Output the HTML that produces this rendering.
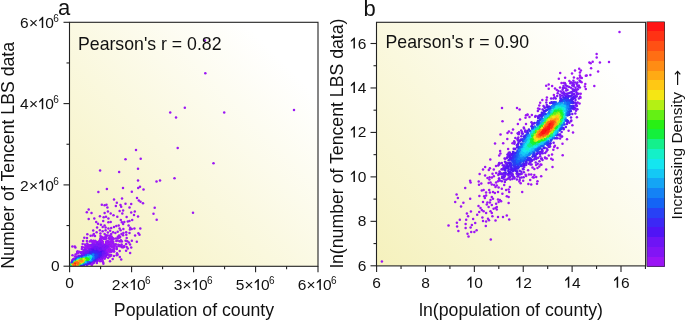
<!DOCTYPE html><html><head><meta charset="utf-8"><style>html,body{margin:0;padding:0;background:#fff;}svg{display:block}.c0{stroke:#9b14f5}.c1{stroke:#8214f5}.c2{stroke:#6e14f5}.c3{stroke:#5014f5}.c4{stroke:#3c28f5}.c5{stroke:#2841f5}.c6{stroke:#1464f5}.c7{stroke:#1482f5}.c8{stroke:#14a5f5}.c9{stroke:#14c8f5}.c10{stroke:#14e6f0}.c11{stroke:#14f0c8}.c12{stroke:#14f08c}.c13{stroke:#14f03c}.c14{stroke:#28f014}.c15{stroke:#64f014}.c16{stroke:#b4f014}.c17{stroke:#f5e614}.c18{stroke:#ffc814}.c19{stroke:#ffaa14}.c20{stroke:#ff8c14}.c21{stroke:#ff6e14}.c22{stroke:#ff5014}.c23{stroke:#ff3214}.c24{stroke:#ff1414}</style></head><body><svg xmlns="http://www.w3.org/2000/svg" width="685" height="320" viewBox="0 0 685 320">
<defs>
<linearGradient id="ga" gradientUnits="userSpaceOnUse" x1="69" y1="266" x2="318" y2="22">
<stop offset="0" stop-color="#f5f1bc"/><stop offset="0.85" stop-color="#ffffff"/><stop offset="1" stop-color="#ffffff"/></linearGradient>
<linearGradient id="gb" gradientUnits="userSpaceOnUse" x1="376" y1="266" x2="646" y2="22">
<stop offset="0" stop-color="#f5f1bc"/><stop offset="0.85" stop-color="#ffffff"/><stop offset="1" stop-color="#ffffff"/></linearGradient>
<filter id="bl" x="-5%" y="-5%" width="110%" height="110%"><feGaussianBlur stdDeviation="0.35"/></filter>
<clipPath id="ca"><rect x="69.5" y="22.3" width="248.5" height="244"/></clipPath>
<clipPath id="cb"><rect x="376.5" y="22.3" width="269.1" height="243.6"/></clipPath>
</defs>
<rect width="685" height="320" fill="#fff"/>
<rect x="69.5" y="22.3" width="248.5" height="244" fill="url(#ga)"/>
<rect x="376.5" y="22.3" width="269.1" height="243.6" fill="url(#gb)"/>

<g clip-path="url(#ca)"><g filter="url(#bl)"><g fill="none" stroke-width="2.5" stroke-linecap="round"><path class="c8" d="M90.1 260.3h0"/><path class="c14" d="M88.4 258.4h0"/><path class="c0" d="M110.7 251.1h0"/><path class="c1" d="M104.2 249.0h0"/><path class="c7" d="M85.1 262.9h0"/><path class="c11" d="M88.3 256.2h0"/><path class="c13" d="M80.1 263.9h0"/><path class="c19" d="M80.8 262.1h0"/><path class="c11" d="M87.2 256.8h0"/><path class="c24" d="M76.1 264.2h0"/><path class="c23" d="M74.3 264.5h0"/><path class="c0" d="M77.6 251.4h0"/><path class="c9" d="M85.6 256.9h0"/><path class="c16" d="M84.9 260.7h0"/><path class="c24" d="M75.2 264.4h0"/><path class="c2" d="M95.2 247.9h0"/><path class="c0" d="M89.8 241.5h0"/><path class="c2" d="M73.8 259.7h0"/><path class="c4" d="M84.3 255.6h0"/><path class="c10" d="M89.5 260.0h0"/><path class="c0" d="M111.7 246.7h0"/><path class="c24" d="M77.1 263.2h0"/><path class="c15" d="M73.4 266.1h0"/><path class="c0" d="M93.5 241.0h0"/><path class="c19" d="M73.4 265.3h0"/><path class="c1" d="M101.1 245.4h0"/><path class="c4" d="M75.0 259.8h0"/><path class="c2" d="M93.1 249.3h0"/><path class="c8" d="M89.4 261.0h0"/><path class="c6" d="M92.0 254.3h0"/><path class="c24" d="M76.2 263.5h0"/><path class="c2" d="M102.1 250.2h0"/><path class="c20" d="M81.6 261.1h0"/><path class="c16" d="M84.9 260.8h0"/><path class="c16" d="M85.0 259.3h0"/><path class="c19" d="M78.7 263.7h0"/><path class="c21" d="M79.0 261.8h0"/><path class="c21" d="M73.7 264.8h0"/><path class="c14" d="M83.3 258.5h0"/><path class="c7" d="M85.5 262.9h0"/><path class="c21" d="M73.7 264.8h0"/><path class="c3" d="M93.7 251.0h0"/><path class="c14" d="M88.2 258.4h0"/><path class="c5" d="M91.6 253.5h0"/><path class="c0" d="M140.7 158.7h0"/><path class="c10" d="M91.2 258.1h0"/><path class="c13" d="M87.6 257.4h0"/><path class="c4" d="M96.2 252.3h0"/><path class="c18" d="M83.8 259.6h0"/><path class="c14" d="M71.5 265.6h0"/><path class="c1" d="M88.6 250.6h0"/><path class="c1" d="M103.5 247.0h0"/><path class="c18" d="M72.5 265.4h0"/><path class="c10" d="M87.7 256.1h0"/><path class="c21" d="M80.0 261.5h0"/><path class="c1" d="M91.4 263.7h0"/><path class="c7" d="M91.4 259.8h0"/><path class="c13" d="M83.9 258.2h0"/><path class="c19" d="M75.6 265.2h0"/><path class="c17" d="M72.4 264.5h0"/><path class="c16" d="M85.4 260.4h0"/><path class="c5" d="M90.3 261.4h0"/><path class="c23" d="M76.8 263.9h0"/><path class="c22" d="M76.0 264.6h0"/><path class="c7" d="M91.4 254.4h0"/><path class="c0" d="M107.2 251.9h0"/><path class="c0" d="M112.2 241.1h0"/><path class="c4" d="M97.2 253.1h0"/><path class="c22" d="M73.7 264.6h0"/><path class="c0" d="M132.2 220.0h0"/><path class="c7" d="M87.3 262.0h0"/><path class="c15" d="M79.4 264.0h0"/><path class="c20" d="M79.1 261.2h0"/><path class="c5" d="M91.5 261.1h0"/><path class="c8" d="M92.7 256.8h0"/><path class="c1" d="M104.5 252.0h0"/><path class="c14" d="M71.4 265.9h0"/><path class="c24" d="M75.0 264.1h0"/><path class="c14" d="M78.6 264.6h0"/><path class="c16" d="M84.2 258.9h0"/><path class="c21" d="M79.3 262.4h0"/><path class="c6" d="M80.2 265.2h0"/><path class="c12" d="M84.8 257.9h0"/><path class="c11" d="M70.7 265.6h0"/><path class="c0" d="M128.6 225.5h0"/><path class="c21" d="M73.6 264.7h0"/><path class="c18" d="M72.5 264.7h0"/><path class="c21" d="M79.9 262.2h0"/><path class="c24" d="M76.5 263.2h0"/><path class="c1" d="M83.6 251.6h0"/><path class="c1" d="M89.0 250.3h0"/><path class="c23" d="M77.7 263.1h0"/><path class="c11" d="M83.7 262.7h0"/><path class="c1" d="M89.9 248.4h0"/><path class="c5" d="M94.5 254.7h0"/><path class="c7" d="M93.6 257.2h0"/><path class="c9" d="M70.2 266.1h0"/><path class="c23" d="M74.3 264.3h0"/><path class="c5" d="M96.5 256.5h0"/><path class="c16" d="M71.8 265.5h0"/><path class="c3" d="M96.9 251.3h0"/><path class="c0" d="M101.8 204.7h0"/><path class="c17" d="M73.3 263.5h0"/><path class="c1" d="M105.4 251.0h0"/><path class="c0" d="M104.5 258.2h0"/><path class="c14" d="M82.7 262.5h0"/><path class="c22" d="M78.9 262.2h0"/><path class="c11" d="M85.7 261.7h0"/><path class="c19" d="M83.0 260.7h0"/><path class="c20" d="M75.1 265.2h0"/><path class="c2" d="M95.4 246.9h0"/><path class="c16" d="M82.8 261.9h0"/><path class="c6" d="M95.0 256.7h0"/><path class="c21" d="M78.3 263.6h0"/><path class="c12" d="M83.9 262.3h0"/><path class="c21" d="M73.6 264.1h0"/><path class="c8" d="M91.7 255.7h0"/><path class="c12" d="M84.5 258.0h0"/><path class="c22" d="M74.4 264.8h0"/><path class="c17" d="M72.9 265.7h0"/><path class="c4" d="M97.8 252.2h0"/><path class="c9" d="M87.4 261.7h0"/><path class="c21" d="M78.7 263.2h0"/><path class="c5" d="M76.9 259.2h0"/><path class="c10" d="M77.9 265.5h0"/><path class="c6" d="M94.8 257.0h0"/><path class="c22" d="M74.3 264.7h0"/><path class="c15" d="M76.3 265.4h0"/><path class="c19" d="M82.7 260.1h0"/><path class="c7" d="M93.9 255.9h0"/><path class="c3" d="M75.8 259.0h0"/><path class="c5" d="M94.2 258.8h0"/><path class="c24" d="M76.3 263.9h0"/><path class="c3" d="M95.2 259.6h0"/><path class="c0" d="M93.7 240.9h0"/><path class="c0" d="M108.8 238.1h0"/><path class="c1" d="M86.2 248.8h0"/><path class="c17" d="M79.5 260.5h0"/><path class="c3" d="M96.5 251.3h0"/><path class="c15" d="M77.6 260.9h0"/><path class="c1" d="M99.5 259.0h0"/><path class="c17" d="M81.8 259.6h0"/><path class="c3" d="M101.1 255.3h0"/><path class="c9" d="M90.8 255.9h0"/><path class="c5" d="M95.3 255.1h0"/><path class="c6" d="M94.4 256.5h0"/><path class="c18" d="M72.6 265.3h0"/><path class="c0" d="M139.5 234.8h0"/><path class="c10" d="M87.9 261.1h0"/><path class="c6" d="M88.0 254.3h0"/><path class="c0" d="M108.6 242.0h0"/><path class="c2" d="M101.6 249.8h0"/><path class="c23" d="M77.4 263.5h0"/><path class="c0" d="M94.7 242.2h0"/><path class="c22" d="M77.5 262.3h0"/><path class="c19" d="M73.1 264.0h0"/><path class="c4" d="M86.1 254.6h0"/><path class="c22" d="M74.1 264.6h0"/><path class="c0" d="M119.3 245.2h0"/><path class="c18" d="M78.8 260.8h0"/><path class="c5" d="M95.8 255.4h0"/><path class="c8" d="M87.7 255.4h0"/><path class="c0" d="M96.9 262.9h0"/><path class="c10" d="M89.2 260.2h0"/><path class="c13" d="M82.0 263.0h0"/><path class="c20" d="M81.4 260.9h0"/><path class="c2" d="M89.0 251.3h0"/><path class="c7" d="M94.1 256.2h0"/><path class="c5" d="M97.6 255.3h0"/><path class="c19" d="M82.6 261.2h0"/><path class="c5" d="M93.9 253.3h0"/><path class="c18" d="M83.9 259.8h0"/><path class="c4" d="M98.0 256.7h0"/><path class="c6" d="M91.0 260.5h0"/><path class="c18" d="M81.5 259.7h0"/><path class="c7" d="M91.4 260.0h0"/><path class="c17" d="M84.6 259.6h0"/><path class="c16" d="M72.2 265.9h0"/><path class="c3" d="M99.3 250.6h0"/><path class="c5" d="M94.3 253.6h0"/><path class="c1" d="M73.1 259.8h0"/><path class="c20" d="M78.4 263.6h0"/><path class="c14" d="M82.7 262.5h0"/><path class="c0" d="M204.9 40.5h0"/><path class="c23" d="M75.5 264.6h0"/><path class="c22" d="M75.8 264.7h0"/><path class="c0" d="M135.1 235.6h0"/><path class="c19" d="M79.7 262.9h0"/><path class="c6" d="M81.7 264.6h0"/><path class="c10" d="M86.6 261.5h0"/><path class="c14" d="M84.5 261.6h0"/><path class="c8" d="M91.2 259.3h0"/><path class="c15" d="M86.4 259.5h0"/><path class="c0" d="M78.3 253.0h0"/><path class="c2" d="M94.9 248.2h0"/><path class="c2" d="M99.2 248.6h0"/><path class="c20" d="M74.0 263.5h0"/><path class="c19" d="M73.3 265.4h0"/><path class="c12" d="M84.5 262.0h0"/><path class="c8" d="M92.0 259.1h0"/><path class="c15" d="M75.1 262.1h0"/><path class="c0" d="M82.0 246.9h0"/><path class="c0" d="M109.0 246.2h0"/><path class="c17" d="M82.5 261.9h0"/><path class="c0" d="M129.5 207.5h0"/><path class="c3" d="M96.4 250.6h0"/><path class="c19" d="M83.5 260.4h0"/><path class="c19" d="M75.1 262.7h0"/><path class="c1" d="M99.8 243.9h0"/><path class="c10" d="M84.4 257.4h0"/><path class="c23" d="M75.1 263.4h0"/><path class="c11" d="M87.2 256.7h0"/><path class="c17" d="M72.2 265.2h0"/><path class="c3" d="M99.8 252.0h0"/><path class="c8" d="M93.1 257.3h0"/><path class="c19" d="M76.9 261.7h0"/><path class="c0" d="M87.6 247.8h0"/><path class="c19" d="M72.8 264.7h0"/><path class="c7" d="M93.1 257.5h0"/><path class="c4" d="M97.5 253.2h0"/><path class="c0" d="M113.9 249.0h0"/><path class="c1" d="M92.5 245.4h0"/><path class="c15" d="M80.2 263.5h0"/><path class="c2" d="M89.2 250.4h0"/><path class="c8" d="M92.7 257.9h0"/><path class="c16" d="M83.4 258.9h0"/><path class="c11" d="M85.5 257.4h0"/><path class="c18" d="M83.6 260.7h0"/><path class="c24" d="M75.5 264.2h0"/><path class="c6" d="M91.9 253.7h0"/><path class="c10" d="M91.3 257.5h0"/><path class="c12" d="M84.1 262.1h0"/><path class="c22" d="M75.0 264.9h0"/><path class="c18" d="M72.5 265.3h0"/><path class="c13" d="M88.1 257.6h0"/><path class="c7" d="M92.2 255.0h0"/><path class="c11" d="M70.7 265.8h0"/><path class="c19" d="M77.2 264.5h0"/><path class="c13" d="M88.9 258.4h0"/><path class="c20" d="M81.2 261.5h0"/><path class="c21" d="M80.0 261.4h0"/><path class="c21" d="M79.1 262.3h0"/><path class="c16" d="M81.7 259.4h0"/><path class="c14" d="M88.0 259.3h0"/><path class="c21" d="M74.0 265.2h0"/><path class="c3" d="M101.7 253.9h0"/><path class="c11" d="M90.5 258.1h0"/><path class="c4" d="M86.7 254.2h0"/><path class="c20" d="M80.1 260.8h0"/><path class="c0" d="M110.8 250.3h0"/><path class="c1" d="M99.2 244.2h0"/><path class="c21" d="M78.2 263.5h0"/><path class="c19" d="M77.3 261.7h0"/><path class="c14" d="M79.8 259.6h0"/><path class="c14" d="M87.9 258.8h0"/><path class="c10" d="M89.7 260.0h0"/><path class="c21" d="M78.0 261.8h0"/><path class="c15" d="M87.3 258.6h0"/><path class="c16" d="M84.8 259.1h0"/><path class="c23" d="M77.6 263.4h0"/><path class="c9" d="M87.9 255.7h0"/><path class="c23" d="M75.5 263.2h0"/><path class="c18" d="M84.0 259.8h0"/><path class="c18" d="M83.5 261.0h0"/><path class="c12" d="M70.8 265.7h0"/><path class="c11" d="M74.3 262.0h0"/><path class="c12" d="M87.2 260.6h0"/><path class="c18" d="M73.3 265.7h0"/><path class="c2" d="M101.7 248.9h0"/><path class="c5" d="M93.6 254.2h0"/><path class="c0" d="M109.5 239.1h0"/><path class="c17" d="M74.8 262.5h0"/><path class="c15" d="M86.6 259.0h0"/><path class="c0" d="M115.7 244.5h0"/><path class="c2" d="M102.4 250.9h0"/><path class="c10" d="M74.2 261.8h0"/><path class="c18" d="M81.1 260.0h0"/><path class="c16" d="M85.6 259.1h0"/><path class="c0" d="M106.0 242.9h0"/><path class="c5" d="M94.3 258.7h0"/><path class="c5" d="M94.0 258.7h0"/><path class="c0" d="M107.1 254.3h0"/><path class="c14" d="M71.3 265.3h0"/><path class="c19" d="M83.1 260.9h0"/><path class="c4" d="M96.8 253.0h0"/><path class="c15" d="M86.4 259.3h0"/><path class="c20" d="M78.1 261.6h0"/><path class="c9" d="M90.3 259.7h0"/><path class="c8" d="M83.4 263.6h0"/><path class="c3" d="M100.6 256.2h0"/><path class="c7" d="M91.0 260.4h0"/><path class="c0" d="M119.5 241.2h0"/><path class="c0" d="M100.1 260.1h0"/><path class="c17" d="M84.9 259.6h0"/><path class="c23" d="M74.4 264.0h0"/><path class="c9" d="M90.0 260.1h0"/><path class="c0" d="M75.0 256.6h0"/><path class="c19" d="M75.8 262.3h0"/><path class="c0" d="M113.5 215.3h0"/><path class="c0" d="M123.1 210.6h0"/><path class="c9" d="M91.7 257.4h0"/><path class="c4" d="M97.7 253.8h0"/><path class="c20" d="M81.0 261.8h0"/><path class="c4" d="M91.1 252.8h0"/><path class="c1" d="M99.7 247.2h0"/><path class="c17" d="M81.7 262.2h0"/><path class="c8" d="M92.1 255.8h0"/><path class="c1" d="M94.7 245.8h0"/><path class="c20" d="M81.0 261.4h0"/><path class="c5" d="M88.7 253.8h0"/><path class="c2" d="M102.5 254.7h0"/><path class="c2" d="M97.7 248.7h0"/><path class="c17" d="M82.1 259.5h0"/><path class="c13" d="M87.1 257.5h0"/><path class="c23" d="M74.3 264.6h0"/><path class="c10" d="M80.5 258.6h0"/><path class="c12" d="M89.3 258.1h0"/><path class="c13" d="M71.2 266.1h0"/><path class="c9" d="M91.6 257.1h0"/><path class="c23" d="M77.2 263.6h0"/><path class="c0" d="M117.7 231.7h0"/><path class="c11" d="M88.6 256.1h0"/><path class="c5" d="M92.6 260.1h0"/><path class="c0" d="M128.9 242.4h0"/><path class="c7" d="M81.1 264.7h0"/><path class="c15" d="M86.7 258.6h0"/><path class="c4" d="M99.9 253.3h0"/><path class="c22" d="M75.5 263.1h0"/><path class="c20" d="M82.2 261.1h0"/><path class="c15" d="M85.7 260.5h0"/><path class="c14" d="M87.0 260.0h0"/><path class="c0" d="M75.5 254.4h0"/><path class="c0" d="M109.8 251.8h0"/><path class="c24" d="M76.2 263.2h0"/><path class="c7" d="M85.5 256.2h0"/><path class="c17" d="M80.3 259.9h0"/><path class="c10" d="M81.9 258.1h0"/><path class="c14" d="M87.6 259.0h0"/><path class="c22" d="M74.4 265.0h0"/><path class="c0" d="M85.5 248.8h0"/><path class="c10" d="M90.0 256.1h0"/><path class="c16" d="M83.8 258.9h0"/><path class="c14" d="M71.3 265.8h0"/><path class="c22" d="M74.2 263.8h0"/><path class="c7" d="M93.5 257.9h0"/><path class="c0" d="M80.8 252.3h0"/><path class="c18" d="M76.9 261.6h0"/><path class="c5" d="M96.1 255.8h0"/><path class="c3" d="M99.7 256.3h0"/><path class="c19" d="M77.1 261.8h0"/><path class="c23" d="M76.8 262.7h0"/><path class="c14" d="M84.7 261.5h0"/><path class="c1" d="M100.8 246.1h0"/><path class="c4" d="M84.4 264.3h0"/><path class="c20" d="M73.1 264.7h0"/><path class="c24" d="M75.1 264.4h0"/><path class="c0" d="M107.7 244.3h0"/><path class="c9" d="M91.3 258.3h0"/><path class="c0" d="M107.8 245.2h0"/><path class="c11" d="M89.9 256.7h0"/><path class="c13" d="M71.2 265.0h0"/><path class="c14" d="M76.2 261.3h0"/><path class="c17" d="M84.8 260.4h0"/><path class="c0" d="M143.5 189.5h0"/><path class="c14" d="M76.0 265.7h0"/><path class="c22" d="M77.5 263.9h0"/><path class="c0" d="M92.8 241.2h0"/><path class="c9" d="M80.8 264.5h0"/><path class="c8" d="M92.4 258.0h0"/><path class="c16" d="M84.2 259.1h0"/><path class="c13" d="M77.8 260.5h0"/><path class="c19" d="M78.5 261.3h0"/><path class="c24" d="M77.5 263.0h0"/><path class="c17" d="M82.2 262.1h0"/><path class="c14" d="M85.5 260.9h0"/><path class="c0" d="M123.5 246.7h0"/><path class="c10" d="M90.4 256.0h0"/><path class="c18" d="M83.8 259.8h0"/><path class="c12" d="M89.2 259.3h0"/><path class="c4" d="M95.0 252.5h0"/><path class="c6" d="M95.4 256.6h0"/><path class="c24" d="M75.6 263.6h0"/><path class="c0" d="M116.3 241.0h0"/><path class="c1" d="M104.3 248.0h0"/><path class="c3" d="M101.3 253.4h0"/><path class="c11" d="M86.2 257.4h0"/><path class="c4" d="M95.8 253.5h0"/><path class="c1" d="M93.1 244.1h0"/><path class="c0" d="M122.0 198.5h0"/><path class="c22" d="M76.9 264.2h0"/><path class="c21" d="M79.8 261.7h0"/><path class="c21" d="M73.8 265.0h0"/><path class="c12" d="M79.0 259.7h0"/><path class="c20" d="M74.1 265.3h0"/><path class="c20" d="M81.0 261.6h0"/><path class="c6" d="M94.5 256.9h0"/><path class="c13" d="M82.7 262.6h0"/><path class="c23" d="M74.8 264.6h0"/><path class="c11" d="M90.1 259.0h0"/><path class="c5" d="M94.0 253.9h0"/><path class="c16" d="M83.5 259.1h0"/><path class="c19" d="M80.2 262.5h0"/><path class="c9" d="M92.3 257.0h0"/><path class="c2" d="M86.6 252.6h0"/><path class="c0" d="M193.0 212.7h0"/><path class="c20" d="M81.8 260.4h0"/><path class="c11" d="M88.5 260.4h0"/><path class="c10" d="M85.4 257.3h0"/><path class="c24" d="M74.8 264.2h0"/><path class="c16" d="M85.1 259.0h0"/><path class="c12" d="M71.1 266.1h0"/><path class="c12" d="M81.6 263.3h0"/><path class="c3" d="M101.4 254.9h0"/><path class="c11" d="M89.1 260.1h0"/><path class="c0" d="M108.8 251.2h0"/><path class="c3" d="M99.4 256.8h0"/><path class="c1" d="M91.4 245.3h0"/><path class="c3" d="M93.4 250.0h0"/><path class="c11" d="M77.7 260.1h0"/><path class="c8" d="M92.3 256.4h0"/><path class="c9" d="M86.3 256.5h0"/><path class="c24" d="M77.4 262.9h0"/><path class="c15" d="M86.6 258.7h0"/><path class="c15" d="M71.7 265.8h0"/><path class="c15" d="M76.5 261.4h0"/><path class="c16" d="M72.0 265.5h0"/><path class="c6" d="M93.4 254.5h0"/><path class="c20" d="M81.6 260.6h0"/><path class="c0" d="M90.8 264.2h0"/><path class="c21" d="M74.2 265.0h0"/><path class="c19" d="M72.9 265.2h0"/><path class="c5" d="M95.1 254.7h0"/><path class="c23" d="M76.1 262.8h0"/><path class="c7" d="M90.5 254.6h0"/><path class="c23" d="M77.2 262.5h0"/><path class="c8" d="M86.2 262.2h0"/><path class="c24" d="M76.2 263.2h0"/><path class="c13" d="M88.3 259.5h0"/><path class="c0" d="M85.7 246.1h0"/><path class="c12" d="M89.6 257.9h0"/><path class="c6" d="M94.0 257.5h0"/><path class="c1" d="M105.3 252.2h0"/><path class="c13" d="M82.6 262.8h0"/><path class="c22" d="M78.4 262.5h0"/><path class="c19" d="M82.3 260.2h0"/><path class="c11" d="M77.3 260.2h0"/><path class="c20" d="M78.8 263.2h0"/><path class="c21" d="M78.8 261.9h0"/><path class="c0" d="M119.8 257.1h0"/><path class="c0" d="M129.9 229.6h0"/><path class="c9" d="M91.8 257.3h0"/><path class="c9" d="M78.6 265.4h0"/><path class="c0" d="M104.1 237.5h0"/><path class="c12" d="M75.0 261.6h0"/><path class="c17" d="M84.2 261.0h0"/><path class="c16" d="M84.6 259.1h0"/><path class="c12" d="M81.7 263.4h0"/><path class="c7" d="M93.5 257.4h0"/><path class="c17" d="M84.4 260.4h0"/><path class="c14" d="M86.9 260.0h0"/><path class="c19" d="M83.2 259.9h0"/><path class="c0" d="M96.2 221.9h0"/><path class="c14" d="M88.2 258.6h0"/><path class="c9" d="M90.7 255.7h0"/><path class="c16" d="M79.1 260.2h0"/><path class="c18" d="M72.8 264.2h0"/><path class="c7" d="M93.3 256.5h0"/><path class="c20" d="M79.4 261.3h0"/><path class="c0" d="M127.3 241.3h0"/><path class="c16" d="M79.4 260.2h0"/><path class="c0" d="M123.1 223.9h0"/><path class="c16" d="M83.0 259.1h0"/><path class="c3" d="M101.8 251.9h0"/><path class="c2" d="M97.5 248.8h0"/><path class="c21" d="M77.2 264.3h0"/><path class="c3" d="M99.9 256.8h0"/><path class="c5" d="M89.4 253.5h0"/><path class="c20" d="M80.4 260.8h0"/><path class="c2" d="M103.2 253.4h0"/><path class="c6" d="M93.3 254.3h0"/><path class="c9" d="M84.9 262.5h0"/><path class="c11" d="M72.2 263.3h0"/><path class="c0" d="M109.9 249.0h0"/><path class="c18" d="M81.5 259.9h0"/><path class="c17" d="M72.1 265.4h0"/><path class="c4" d="M99.8 255.6h0"/><path class="c17" d="M84.5 260.1h0"/><path class="c3" d="M98.4 257.6h0"/><path class="c0" d="M121.6 244.6h0"/><path class="c0" d="M116.0 238.5h0"/><path class="c24" d="M76.0 263.9h0"/><path class="c6" d="M88.1 262.1h0"/><path class="c1" d="M91.3 249.1h0"/><path class="c11" d="M79.4 259.3h0"/><path class="c14" d="M71.5 265.9h0"/><path class="c15" d="M84.9 261.0h0"/><path class="c1" d="M96.9 261.1h0"/><path class="c10" d="M89.7 256.0h0"/><path class="c22" d="M78.6 262.5h0"/><path class="c20" d="M75.4 265.2h0"/><path class="c5" d="M93.2 259.4h0"/><path class="c0" d="M109.5 244.2h0"/><path class="c0" d="M106.0 256.7h0"/><path class="c15" d="M83.9 261.5h0"/><path class="c1" d="M99.3 242.2h0"/><path class="c13" d="M88.6 259.4h0"/><path class="c12" d="M71.3 264.3h0"/><path class="c11" d="M90.0 258.8h0"/><path class="c19" d="M81.3 262.0h0"/><path class="c19" d="M80.4 262.4h0"/><path class="c13" d="M84.4 261.8h0"/><path class="c0" d="M119.7 237.4h0"/><path class="c0" d="M106.3 238.4h0"/><path class="c0" d="M107.3 254.4h0"/><path class="c13" d="M88.0 257.4h0"/><path class="c0" d="M97.1 227.5h0"/><path class="c4" d="M98.7 254.8h0"/><path class="c3" d="M94.9 251.0h0"/><path class="c18" d="M72.4 265.2h0"/><path class="c20" d="M80.4 262.1h0"/><path class="c11" d="M88.2 256.6h0"/><path class="c18" d="M79.9 260.5h0"/><path class="c14" d="M87.4 258.1h0"/><path class="c20" d="M73.1 264.7h0"/><path class="c19" d="M77.8 264.2h0"/><path class="c0" d="M121.0 240.3h0"/><path class="c18" d="M81.5 259.7h0"/><path class="c19" d="M83.1 259.8h0"/><path class="c0" d="M85.0 244.6h0"/><path class="c23" d="M77.9 263.2h0"/><path class="c0" d="M123.7 247.1h0"/><path class="c11" d="M90.0 257.2h0"/><path class="c0" d="M107.7 240.9h0"/><path class="c23" d="M76.4 264.1h0"/><path class="c2" d="M103.2 254.7h0"/><path class="c0" d="M107.5 253.5h0"/><path class="c3" d="M99.8 256.4h0"/><path class="c19" d="M81.5 262.0h0"/><path class="c13" d="M87.3 260.2h0"/><path class="c23" d="M75.1 264.6h0"/><path class="c3" d="M97.3 251.3h0"/><path class="c8" d="M70.1 265.9h0"/><path class="c3" d="M93.4 250.6h0"/><path class="c14" d="M79.7 259.7h0"/><path class="c3" d="M94.4 249.9h0"/><path class="c21" d="M74.2 263.6h0"/><path class="c18" d="M72.4 265.3h0"/><path class="c14" d="M87.0 260.0h0"/><path class="c0" d="M118.3 244.7h0"/><path class="c12" d="M89.3 259.0h0"/><path class="c0" d="M110.4 243.0h0"/><path class="c20" d="M80.1 262.0h0"/><path class="c3" d="M81.7 265.5h0"/><path class="c7" d="M79.5 265.3h0"/><path class="c16" d="M85.9 259.4h0"/><path class="c5" d="M97.3 255.0h0"/><path class="c18" d="M81.3 259.9h0"/><path class="c24" d="M75.0 264.2h0"/><path class="c2" d="M104.4 253.7h0"/><path class="c21" d="M73.6 265.0h0"/><path class="c2" d="M99.7 257.9h0"/><path class="c24" d="M77.1 263.6h0"/><path class="c0" d="M102.7 227.0h0"/><path class="c3" d="M98.4 251.1h0"/><path class="c0" d="M114.2 244.5h0"/><path class="c10" d="M81.7 258.2h0"/><path class="c18" d="M80.7 260.0h0"/><path class="c19" d="M72.7 265.3h0"/><path class="c8" d="M91.1 259.4h0"/><path class="c2" d="M102.6 248.8h0"/><path class="c11" d="M76.9 260.5h0"/><path class="c23" d="M77.5 262.7h0"/><path class="c22" d="M77.8 263.5h0"/><path class="c0" d="M115.4 233.1h0"/><path class="c15" d="M71.5 265.2h0"/><path class="c17" d="M84.3 259.4h0"/><path class="c11" d="M90.1 257.3h0"/><path class="c0" d="M131.8 240.7h0"/><path class="c14" d="M88.0 259.3h0"/><path class="c19" d="M82.7 260.2h0"/><path class="c21" d="M78.5 263.3h0"/><path class="c14" d="M71.6 266.0h0"/><path class="c14" d="M71.3 264.9h0"/><path class="c3" d="M99.5 251.3h0"/><path class="c1" d="M100.5 244.6h0"/><path class="c0" d="M113.3 238.5h0"/><path class="c0" d="M114.1 251.6h0"/><path class="c7" d="M87.7 254.8h0"/><path class="c11" d="M88.7 256.3h0"/><path class="c18" d="M83.5 261.1h0"/><path class="c5" d="M92.4 260.5h0"/><path class="c21" d="M78.5 263.4h0"/><path class="c5" d="M96.4 256.9h0"/><path class="c7" d="M91.2 254.6h0"/><path class="c14" d="M71.4 265.5h0"/><path class="c4" d="M73.1 261.3h0"/><path class="c8" d="M91.5 255.4h0"/><path class="c17" d="M84.8 260.0h0"/><path class="c19" d="M79.6 263.0h0"/><path class="c6" d="M82.6 256.7h0"/><path class="c0" d="M105.5 237.3h0"/><path class="c20" d="M75.0 265.3h0"/><path class="c19" d="M83.4 260.3h0"/><path class="c14" d="M88.1 259.1h0"/><path class="c0" d="M136.0 150.0h0"/><path class="c18" d="M72.4 265.2h0"/><path class="c17" d="M77.9 261.1h0"/><path class="c18" d="M82.8 261.3h0"/><path class="c21" d="M73.5 264.6h0"/><path class="c15" d="M87.0 259.0h0"/><path class="c0" d="M110.9 249.6h0"/><path class="c1" d="M85.0 251.0h0"/><path class="c0" d="M130.1 253.1h0"/><path class="c12" d="M89.4 258.5h0"/><path class="c11" d="M73.9 262.1h0"/><path class="c23" d="M75.8 263.0h0"/><path class="c8" d="M87.6 261.9h0"/><path class="c15" d="M86.4 259.8h0"/><path class="c19" d="M83.0 260.0h0"/><path class="c17" d="M83.6 261.2h0"/><path class="c19" d="M82.2 261.5h0"/><path class="c8" d="M70.1 266.1h0"/><path class="c12" d="M77.5 260.4h0"/><path class="c0" d="M108.1 248.0h0"/><path class="c0" d="M126.2 232.2h0"/><path class="c17" d="M80.0 260.3h0"/><path class="c0" d="M140.5 201.7h0"/><path class="c19" d="M79.6 263.1h0"/><path class="c7" d="M94.1 256.2h0"/><path class="c6" d="M92.9 254.7h0"/><path class="c3" d="M88.2 252.3h0"/><path class="c2" d="M103.0 249.6h0"/><path class="c21" d="M76.2 262.5h0"/><path class="c24" d="M75.6 264.0h0"/><path class="c22" d="M76.9 262.4h0"/><path class="c0" d="M113.0 249.8h0"/><path class="c3" d="M96.9 258.5h0"/><path class="c18" d="M78.3 264.1h0"/><path class="c10" d="M85.6 262.0h0"/><path class="c3" d="M82.5 255.6h0"/><path class="c13" d="M82.3 263.0h0"/><path class="c6" d="M94.5 256.1h0"/><path class="c17" d="M84.2 261.0h0"/><path class="c15" d="M71.6 265.3h0"/><path class="c5" d="M96.2 256.0h0"/><path class="c22" d="M78.4 262.7h0"/><path class="c4" d="M97.4 256.4h0"/><path class="c12" d="M88.3 256.8h0"/><path class="c14" d="M88.5 258.8h0"/><path class="c20" d="M73.2 264.8h0"/><path class="c23" d="M75.8 263.1h0"/><path class="c24" d="M76.8 263.1h0"/><path class="c22" d="M74.4 264.9h0"/><path class="c20" d="M73.2 264.5h0"/><path class="c1" d="M101.1 246.8h0"/><path class="c1" d="M95.4 261.1h0"/><path class="c24" d="M77.0 263.4h0"/><path class="c7" d="M83.9 263.4h0"/><path class="c18" d="M82.4 261.5h0"/><path class="c19" d="M82.8 260.6h0"/><path class="c12" d="M89.3 259.1h0"/><path class="c18" d="M79.5 260.6h0"/><path class="c18" d="M82.9 259.5h0"/><path class="c12" d="M88.0 260.4h0"/><path class="c1" d="M96.2 245.4h0"/><path class="c16" d="M85.1 259.4h0"/><path class="c4" d="M94.1 253.1h0"/><path class="c4" d="M99.1 253.3h0"/><path class="c12" d="M70.9 266.0h0"/><path class="c10" d="M90.3 256.5h0"/><path class="c21" d="M79.3 262.1h0"/><path class="c20" d="M79.8 262.5h0"/><path class="c0" d="M140.0 186.8h0"/><path class="c10" d="M82.1 258.1h0"/><path class="c23" d="M77.5 262.7h0"/><path class="c23" d="M74.6 263.9h0"/><path class="c7" d="M91.5 259.7h0"/><path class="c1" d="M98.7 247.7h0"/><path class="c23" d="M78.0 262.8h0"/><path class="c0" d="M105.7 244.4h0"/><path class="c3" d="M89.3 252.5h0"/><path class="c0" d="M111.2 234.1h0"/><path class="c20" d="M73.4 265.1h0"/><path class="c4" d="M92.7 260.5h0"/><path class="c20" d="M76.7 264.6h0"/><path class="c2" d="M76.5 257.9h0"/><path class="c20" d="M72.9 264.8h0"/><path class="c16" d="M85.1 259.2h0"/><path class="c1" d="M105.6 247.9h0"/><path class="c16" d="M86.1 259.4h0"/><path class="c9" d="M90.3 255.5h0"/><path class="c15" d="M87.1 258.8h0"/><path class="c24" d="M75.0 264.1h0"/><path class="c5" d="M94.4 254.4h0"/><path class="c15" d="M86.8 259.1h0"/><path class="c2" d="M100.3 249.6h0"/><path class="c5" d="M96.6 255.7h0"/><path class="c13" d="M74.3 262.2h0"/><path class="c0" d="M108.3 245.2h0"/><path class="c20" d="M74.0 265.3h0"/><path class="c1" d="M104.5 251.1h0"/><path class="c0" d="M106.0 216.7h0"/><path class="c9" d="M89.2 255.1h0"/><path class="c0" d="M93.9 240.9h0"/><path class="c22" d="M75.0 263.3h0"/><path class="c21" d="M79.1 262.9h0"/><path class="c8" d="M91.2 259.5h0"/><path class="c23" d="M77.7 263.3h0"/><path class="c19" d="M73.5 263.9h0"/><path class="c1" d="M105.8 255.2h0"/><path class="c22" d="M74.6 263.5h0"/><path class="c24" d="M76.5 263.8h0"/><path class="c20" d="M81.3 261.6h0"/><path class="c19" d="M80.1 262.7h0"/><path class="c20" d="M77.2 261.8h0"/><path class="c20" d="M75.0 265.2h0"/><path class="c16" d="M80.0 259.9h0"/><path class="c24" d="M75.1 264.2h0"/><path class="c20" d="M80.9 260.6h0"/><path class="c20" d="M81.4 260.5h0"/><path class="c7" d="M86.0 255.7h0"/><path class="c22" d="M78.8 262.8h0"/><path class="c4" d="M99.5 253.9h0"/><path class="c1" d="M104.8 253.8h0"/><path class="c14" d="M78.8 260.1h0"/><path class="c7" d="M94.0 256.5h0"/><path class="c13" d="M78.0 260.3h0"/><path class="c0" d="M101.7 238.5h0"/><path class="c0" d="M117.5 240.5h0"/><path class="c21" d="M80.1 261.3h0"/><path class="c21" d="M74.0 265.0h0"/><path class="c8" d="M90.6 255.3h0"/><path class="c9" d="M90.1 255.7h0"/><path class="c10" d="M70.4 265.4h0"/><path class="c2" d="M83.7 265.3h0"/><path class="c7" d="M89.9 254.4h0"/><path class="c7" d="M91.2 260.4h0"/><path class="c23" d="M76.0 263.0h0"/><path class="c10" d="M83.0 257.7h0"/><path class="c3" d="M94.3 250.5h0"/><path class="c20" d="M79.6 261.2h0"/><path class="c4" d="M98.6 253.5h0"/><path class="c17" d="M83.6 259.2h0"/><path class="c5" d="M96.8 256.8h0"/><path class="c5" d="M96.9 255.4h0"/><path class="c4" d="M81.7 256.5h0"/><path class="c16" d="M85.6 260.0h0"/><path class="c19" d="M73.6 265.4h0"/><path class="c24" d="M76.9 262.9h0"/><path class="c3" d="M92.6 251.4h0"/><path class="c8" d="M90.9 259.6h0"/><path class="c16" d="M85.4 260.1h0"/><path class="c18" d="M75.4 265.4h0"/><path class="c10" d="M84.0 262.6h0"/><path class="c19" d="M82.7 259.8h0"/><path class="c1" d="M84.5 251.1h0"/><path class="c14" d="M71.3 265.7h0"/><path class="c9" d="M88.6 261.0h0"/><path class="c20" d="M73.3 264.3h0"/><path class="c14" d="M71.6 265.9h0"/><path class="c0" d="M117.3 216.7h0"/><path class="c2" d="M88.6 250.9h0"/><path class="c8" d="M80.2 264.9h0"/><path class="c16" d="M82.2 259.3h0"/><path class="c6" d="M81.7 257.1h0"/><path class="c19" d="M76.6 264.8h0"/><path class="c9" d="M91.5 256.8h0"/><path class="c16" d="M75.7 265.5h0"/><path class="c14" d="M80.1 259.4h0"/><path class="c9" d="M86.1 262.0h0"/><path class="c17" d="M79.7 263.4h0"/><path class="c2" d="M104.5 252.5h0"/><path class="c21" d="M78.1 261.8h0"/><path class="c14" d="M79.2 264.3h0"/><path class="c3" d="M82.3 255.7h0"/><path class="c24" d="M75.2 264.2h0"/><path class="c20" d="M82.4 260.3h0"/><path class="c15" d="M77.0 265.2h0"/><path class="c18" d="M80.4 260.2h0"/><path class="c7" d="M88.0 254.8h0"/><path class="c14" d="M87.6 259.9h0"/><path class="c1" d="M91.5 244.7h0"/><path class="c2" d="M94.0 248.3h0"/><path class="c6" d="M87.2 254.9h0"/><path class="c21" d="M79.5 262.3h0"/><path class="c22" d="M78.2 263.2h0"/><path class="c24" d="M76.8 263.0h0"/><path class="c10" d="M86.6 261.6h0"/><path class="c3" d="M92.0 251.0h0"/><path class="c5" d="M91.7 260.7h0"/><path class="c24" d="M77.1 263.5h0"/><path class="c1" d="M92.6 244.4h0"/><path class="c16" d="M84.5 260.8h0"/><path class="c7" d="M92.5 258.7h0"/><path class="c19" d="M79.3 263.1h0"/><path class="c2" d="M99.9 248.9h0"/><path class="c24" d="M76.1 264.0h0"/><path class="c23" d="M74.9 263.9h0"/><path class="c4" d="M89.8 262.2h0"/><path class="c20" d="M81.1 261.1h0"/><path class="c4" d="M93.4 252.1h0"/><path class="c20" d="M80.5 261.9h0"/><path class="c20" d="M75.2 265.2h0"/><path class="c8" d="M91.6 255.4h0"/><path class="c0" d="M109.1 243.3h0"/><path class="c12" d="M89.2 259.0h0"/><path class="c23" d="M78.0 262.5h0"/><path class="c15" d="M82.9 258.7h0"/><path class="c20" d="M82.1 261.1h0"/><path class="c11" d="M88.0 256.7h0"/><path class="c3" d="M89.8 262.7h0"/><path class="c22" d="M76.3 262.5h0"/><path class="c1" d="M98.4 247.6h0"/><path class="c11" d="M87.2 256.6h0"/><path class="c24" d="M76.8 263.6h0"/><path class="c18" d="M81.6 262.1h0"/><path class="c20" d="M73.6 265.3h0"/><path class="c0" d="M170.2 112.5h0"/><path class="c6" d="M95.2 256.9h0"/><path class="c7" d="M92.4 259.1h0"/><path class="c4" d="M99.9 255.4h0"/><path class="c19" d="M72.6 264.9h0"/><path class="c17" d="M72.4 265.7h0"/><path class="c0" d="M111.6 239.2h0"/><path class="c3" d="M97.2 251.7h0"/><path class="c0" d="M99.9 216.2h0"/><path class="c6" d="M79.3 258.2h0"/><path class="c1" d="M103.0 256.9h0"/><path class="c10" d="M70.4 265.9h0"/><path class="c22" d="M74.8 264.8h0"/><path class="c10" d="M91.0 257.5h0"/><path class="c14" d="M86.8 260.3h0"/><path class="c4" d="M84.0 255.4h0"/><path class="c0" d="M113.1 243.3h0"/><path class="c6" d="M94.7 256.1h0"/><path class="c1" d="M96.6 242.7h0"/><path class="c16" d="M76.5 265.3h0"/><path class="c22" d="M74.9 263.4h0"/><path class="c19" d="M72.8 265.3h0"/><path class="c5" d="M75.2 260.1h0"/><path class="c3" d="M100.2 253.2h0"/><path class="c4" d="M97.9 254.2h0"/><path class="c17" d="M84.8 260.0h0"/><path class="c11" d="M90.2 256.5h0"/><path class="c20" d="M80.4 261.0h0"/><path class="c0" d="M109.2 251.6h0"/><path class="c3" d="M101.1 252.7h0"/><path class="c17" d="M82.7 259.3h0"/><path class="c4" d="M93.0 252.8h0"/><path class="c3" d="M82.5 255.8h0"/><path class="c20" d="M80.0 262.3h0"/><path class="c23" d="M76.6 264.1h0"/><path class="c12" d="M86.5 257.5h0"/><path class="c22" d="M78.5 262.5h0"/><path class="c1" d="M96.9 243.5h0"/><path class="c14" d="M86.2 258.2h0"/><path class="c11" d="M88.6 256.2h0"/><path class="c0" d="M113.7 238.8h0"/><path class="c0" d="M117.0 253.3h0"/><path class="c10" d="M90.7 257.6h0"/><path class="c4" d="M99.6 255.7h0"/><path class="c22" d="M78.5 262.1h0"/><path class="c0" d="M108.4 218.6h0"/><path class="c2" d="M93.7 248.8h0"/><path class="c24" d="M75.1 263.7h0"/><path class="c21" d="M79.0 261.9h0"/><path class="c16" d="M85.1 260.7h0"/><path class="c20" d="M73.4 265.1h0"/><path class="c0" d="M121.2 259.6h0"/><path class="c0" d="M77.6 251.7h0"/><path class="c6" d="M86.2 255.2h0"/><path class="c0" d="M115.9 205.9h0"/><path class="c7" d="M83.6 263.5h0"/><path class="c13" d="M87.2 260.5h0"/><path class="c20" d="M80.6 261.1h0"/><path class="c19" d="M74.8 262.8h0"/><path class="c14" d="M88.5 258.6h0"/><path class="c8" d="M92.7 256.5h0"/><path class="c16" d="M83.7 261.6h0"/><path class="c21" d="M80.6 261.5h0"/><path class="c22" d="M78.4 263.0h0"/><path class="c5" d="M96.2 256.3h0"/><path class="c1" d="M104.7 251.4h0"/><path class="c0" d="M91.1 240.4h0"/><path class="c23" d="M74.9 264.6h0"/><path class="c17" d="M80.5 263.0h0"/><path class="c24" d="M76.6 263.7h0"/><path class="c4" d="M93.0 260.5h0"/><path class="c4" d="M91.0 252.8h0"/><path class="c18" d="M81.7 262.1h0"/><path class="c8" d="M77.5 259.5h0"/><path class="c21" d="M78.6 262.0h0"/><path class="c23" d="M76.5 264.2h0"/><path class="c13" d="M80.0 259.4h0"/><path class="c23" d="M75.2 264.5h0"/><path class="c18" d="M74.3 263.1h0"/><path class="c12" d="M82.2 263.1h0"/><path class="c8" d="M92.4 257.9h0"/><path class="c13" d="M88.7 258.1h0"/><path class="c2" d="M102.0 250.4h0"/><path class="c0" d="M87.2 248.1h0"/><path class="c21" d="M79.2 261.9h0"/><path class="c1" d="M94.6 245.0h0"/><path class="c17" d="M72.5 265.8h0"/><path class="c15" d="M87.3 259.4h0"/><path class="c22" d="M76.8 262.3h0"/><path class="c18" d="M80.2 262.8h0"/><path class="c0" d="M108.4 222.3h0"/><path class="c4" d="M99.1 256.2h0"/><path class="c16" d="M82.0 259.2h0"/><path class="c17" d="M81.6 259.5h0"/><path class="c2" d="M96.7 259.6h0"/><path class="c5" d="M94.6 258.0h0"/><path class="c23" d="M75.9 264.3h0"/><path class="c22" d="M78.2 262.1h0"/><path class="c0" d="M118.1 238.2h0"/><path class="c1" d="M101.3 242.9h0"/><path class="c12" d="M78.8 259.7h0"/><path class="c0" d="M113.4 247.8h0"/><path class="c11" d="M88.1 260.7h0"/><path class="c3" d="M95.3 251.2h0"/><path class="c17" d="M83.9 261.2h0"/><path class="c0" d="M109.9 248.4h0"/><path class="c4" d="M97.2 251.9h0"/><path class="c0" d="M87.7 245.7h0"/><path class="c12" d="M86.8 260.8h0"/><path class="c16" d="M72.1 265.6h0"/><path class="c0" d="M122.3 213.4h0"/><path class="c13" d="M89.2 257.8h0"/><path class="c7" d="M89.8 261.1h0"/><path class="c12" d="M87.8 257.1h0"/><path class="c6" d="M91.5 260.3h0"/><path class="c16" d="M85.7 259.7h0"/><path class="c3" d="M95.7 259.0h0"/><path class="c3" d="M84.0 254.6h0"/><path class="c18" d="M74.2 263.0h0"/><path class="c18" d="M81.5 262.1h0"/><path class="c24" d="M76.0 263.1h0"/><path class="c18" d="M84.2 260.0h0"/><path class="c9" d="M89.4 255.3h0"/><path class="c2" d="M101.4 250.8h0"/><path class="c2" d="M92.1 249.3h0"/><path class="c0" d="M99.7 260.2h0"/><path class="c0" d="M77.1 251.9h0"/><path class="c19" d="M82.6 260.1h0"/><path class="c21" d="M77.8 262.0h0"/><path class="c19" d="M73.0 264.5h0"/><path class="c5" d="M96.0 257.3h0"/><path class="c12" d="M70.8 265.5h0"/><path class="c20" d="M77.7 264.1h0"/><path class="c15" d="M83.6 258.7h0"/><path class="c3" d="M101.0 256.2h0"/><path class="c6" d="M83.7 256.6h0"/><path class="c6" d="M88.6 254.0h0"/><path class="c10" d="M88.9 260.6h0"/><path class="c24" d="M75.6 264.3h0"/><path class="c0" d="M108.9 245.9h0"/><path class="c2" d="M93.7 248.0h0"/><path class="c0" d="M116.7 247.0h0"/><path class="c23" d="M75.1 263.5h0"/><path class="c19" d="M79.3 263.1h0"/><path class="c12" d="M81.2 263.7h0"/><path class="c4" d="M95.6 252.7h0"/><path class="c3" d="M100.4 255.8h0"/><path class="c0" d="M106.4 244.9h0"/><path class="c2" d="M98.4 247.8h0"/><path class="c20" d="M73.5 264.2h0"/><path class="c0" d="M77.0 253.4h0"/><path class="c0" d="M136.8 241.8h0"/><path class="c5" d="M95.5 257.4h0"/><path class="c20" d="M81.5 261.2h0"/><path class="c3" d="M102.1 252.3h0"/><path class="c19" d="M83.3 260.5h0"/><path class="c16" d="M80.9 263.0h0"/><path class="c22" d="M74.0 264.9h0"/><path class="c19" d="M79.0 263.5h0"/><path class="c9" d="M89.6 255.2h0"/><path class="c17" d="M84.9 260.0h0"/><path class="c16" d="M79.2 260.2h0"/><path class="c14" d="M84.2 261.8h0"/><path class="c1" d="M93.4 245.6h0"/><path class="c12" d="M87.6 257.0h0"/><path class="c23" d="M76.5 264.2h0"/><path class="c0" d="M106.1 243.3h0"/><path class="c12" d="M71.0 265.9h0"/><path class="c2" d="M90.1 251.2h0"/><path class="c18" d="M80.9 262.5h0"/><path class="c0" d="M111.3 240.9h0"/><path class="c22" d="M74.0 264.3h0"/><path class="c5" d="M92.5 253.4h0"/><path class="c20" d="M81.4 260.9h0"/><path class="c9" d="M82.2 257.7h0"/><path class="c8" d="M92.6 257.9h0"/><path class="c14" d="M87.4 259.6h0"/><path class="c10" d="M79.5 258.9h0"/><path class="c3" d="M98.3 257.4h0"/><path class="c6" d="M84.0 263.6h0"/><path class="c9" d="M81.5 258.0h0"/><path class="c20" d="M82.3 261.0h0"/><path class="c10" d="M86.4 256.9h0"/><path class="c9" d="M70.2 265.9h0"/><path class="c13" d="M83.3 258.3h0"/><path class="c1" d="M99.2 247.3h0"/><path class="c2" d="M94.5 248.7h0"/><path class="c17" d="M84.0 261.0h0"/><path class="c9" d="M82.8 263.5h0"/><path class="c24" d="M75.3 263.8h0"/><path class="c3" d="M101.4 252.7h0"/><path class="c9" d="M83.0 257.6h0"/><path class="c16" d="M86.0 259.7h0"/><path class="c1" d="M105.6 253.6h0"/><path class="c5" d="M81.7 264.9h0"/><path class="c14" d="M87.6 259.9h0"/><path class="c21" d="M80.5 261.5h0"/><path class="c7" d="M83.8 256.7h0"/><path class="c22" d="M74.3 264.9h0"/><path class="c18" d="M81.8 261.9h0"/><path class="c22" d="M78.4 262.7h0"/><path class="c4" d="M93.3 260.0h0"/><path class="c10" d="M91.1 256.6h0"/><path class="c12" d="M87.7 260.4h0"/><path class="c13" d="M85.4 261.3h0"/><path class="c3" d="M100.2 252.2h0"/><path class="c8" d="M90.1 260.3h0"/><path class="c5" d="M77.0 259.0h0"/><path class="c7" d="M78.9 265.6h0"/><path class="c21" d="M75.9 262.6h0"/><path class="c11" d="M89.2 256.2h0"/><path class="c9" d="M70.2 265.7h0"/><path class="c17" d="M76.2 261.8h0"/><path class="c0" d="M108.7 255.0h0"/><path class="c0" d="M110.7 213.4h0"/><path class="c8" d="M90.2 260.4h0"/><path class="c2" d="M97.1 249.0h0"/><path class="c3" d="M85.8 253.8h0"/><path class="c4" d="M98.6 255.7h0"/><path class="c20" d="M82.2 260.8h0"/><path class="c4" d="M97.6 253.6h0"/><path class="c7" d="M77.6 259.2h0"/><path class="c16" d="M85.1 259.5h0"/><path class="c20" d="M80.5 261.2h0"/><path class="c8" d="M93.1 256.9h0"/><path class="c14" d="M88.3 258.5h0"/><path class="c19" d="M77.6 261.6h0"/><path class="c19" d="M81.5 261.8h0"/><path class="c19" d="M82.8 260.9h0"/><path class="c8" d="M82.0 264.1h0"/><path class="c15" d="M78.9 264.2h0"/><path class="c5" d="M81.1 265.3h0"/><path class="c7" d="M79.3 258.5h0"/><path class="c0" d="M100.0 239.7h0"/><path class="c20" d="M78.5 263.6h0"/><path class="c0" d="M120.1 236.9h0"/><path class="c15" d="M71.7 265.6h0"/><path class="c13" d="M89.1 257.7h0"/><path class="c12" d="M82.3 263.0h0"/><path class="c0" d="M101.9 259.5h0"/><path class="c3" d="M91.5 251.8h0"/><path class="c1" d="M105.9 253.0h0"/><path class="c22" d="M78.2 262.6h0"/><path class="c6" d="M91.3 253.7h0"/><path class="c17" d="M84.7 260.5h0"/><path class="c20" d="M81.3 260.5h0"/><path class="c21" d="M73.9 264.1h0"/><path class="c18" d="M75.8 262.2h0"/><path class="c15" d="M85.8 259.0h0"/><path class="c18" d="M81.7 261.9h0"/><path class="c12" d="M81.2 263.7h0"/><path class="c19" d="M81.3 262.1h0"/><path class="c9" d="M91.6 255.9h0"/><path class="c0" d="M108.2 242.1h0"/><path class="c4" d="M92.3 260.8h0"/><path class="c22" d="M76.4 264.5h0"/><path class="c15" d="M86.5 259.4h0"/><path class="c2" d="M79.4 256.8h0"/><path class="c7" d="M91.7 259.9h0"/><path class="c0" d="M127.8 248.6h0"/><path class="c1" d="M104.2 246.7h0"/><path class="c7" d="M93.1 255.0h0"/><path class="c24" d="M76.1 263.3h0"/><path class="c15" d="M86.2 259.8h0"/><path class="c0" d="M213.5 163.3h0"/><path class="c1" d="M86.5 251.2h0"/><path class="c3" d="M93.8 250.6h0"/><path class="c8" d="M90.0 254.9h0"/><path class="c19" d="M75.9 265.2h0"/><path class="c0" d="M131.2 212.5h0"/><path class="c0" d="M80.6 252.8h0"/><path class="c0" d="M109.8 250.6h0"/><path class="c0" d="M107.4 207.5h0"/><path class="c12" d="M85.5 257.9h0"/><path class="c13" d="M71.2 265.9h0"/><path class="c3" d="M93.7 250.6h0"/><path class="c22" d="M77.3 262.4h0"/><path class="c0" d="M94.4 242.3h0"/><path class="c3" d="M94.7 250.9h0"/><path class="c23" d="M77.8 263.4h0"/><path class="c4" d="M82.5 256.3h0"/><path class="c0" d="M111.2 246.1h0"/><path class="c10" d="M89.0 260.5h0"/><path class="c1" d="M100.4 243.4h0"/><path class="c7" d="M83.0 263.9h0"/><path class="c6" d="M90.3 254.0h0"/><path class="c0" d="M112.8 242.3h0"/><path class="c11" d="M90.3 257.8h0"/><path class="c4" d="M99.4 253.3h0"/><path class="c3" d="M84.0 255.2h0"/><path class="c20" d="M74.9 265.3h0"/><path class="c0" d="M120.6 230.3h0"/><path class="c2" d="M92.5 248.5h0"/><path class="c11" d="M90.1 256.7h0"/><path class="c8" d="M70.0 265.9h0"/><path class="c24" d="M77.0 263.3h0"/><path class="c1" d="M102.5 247.7h0"/><path class="c10" d="M90.6 258.8h0"/><path class="c12" d="M76.6 260.8h0"/><path class="c16" d="M79.9 263.5h0"/><path class="c19" d="M81.9 260.0h0"/><path class="c4" d="M99.6 254.4h0"/><path class="c0" d="M121.9 222.3h0"/><path class="c14" d="M87.8 258.7h0"/><path class="c23" d="M76.0 263.1h0"/><path class="c6" d="M91.0 253.7h0"/><path class="c24" d="M75.3 264.4h0"/><path class="c19" d="M80.5 260.5h0"/><path class="c2" d="M94.4 248.8h0"/><path class="c0" d="M82.6 244.0h0"/><path class="c7" d="M93.4 257.7h0"/><path class="c7" d="M92.8 255.5h0"/><path class="c23" d="M74.8 264.4h0"/><path class="c9" d="M85.7 256.8h0"/><path class="c4" d="M98.3 254.4h0"/><path class="c0" d="M96.0 242.1h0"/><path class="c15" d="M85.7 260.6h0"/><path class="c3" d="M93.2 250.7h0"/><path class="c10" d="M91.3 257.1h0"/><path class="c1" d="M82.1 253.5h0"/><path class="c17" d="M77.5 261.3h0"/><path class="c0" d="M107.7 235.5h0"/><path class="c2" d="M103.9 253.4h0"/><path class="c23" d="M74.6 264.1h0"/><path class="c2" d="M102.8 249.8h0"/><path class="c24" d="M76.4 263.5h0"/><path class="c23" d="M75.8 263.0h0"/><path class="c11" d="M88.2 260.4h0"/><path class="c3" d="M94.5 260.3h0"/><path class="c3" d="M102.3 252.5h0"/><path class="c24" d="M76.3 263.3h0"/><path class="c1" d="M98.9 244.1h0"/><path class="c14" d="M85.4 261.0h0"/><path class="c2" d="M102.7 255.4h0"/><path class="c1" d="M99.2 258.8h0"/><path class="c11" d="M86.9 256.9h0"/><path class="c12" d="M86.7 261.0h0"/><path class="c16" d="M81.3 262.7h0"/><path class="c0" d="M123.4 228.9h0"/><path class="c23" d="M77.3 263.8h0"/><path class="c21" d="M80.4 261.7h0"/><path class="c3" d="M96.1 250.3h0"/><path class="c4" d="M98.1 252.7h0"/><path class="c23" d="M78.1 262.6h0"/><path class="c17" d="M85.0 260.2h0"/><path class="c0" d="M415.5 -341.4h0"/><path class="c5" d="M96.1 255.7h0"/><path class="c12" d="M88.2 256.9h0"/><path class="c24" d="M76.0 263.2h0"/><path class="c20" d="M73.0 264.8h0"/><path class="c17" d="M73.4 265.7h0"/><path class="c1" d="M106.6 254.2h0"/><path class="c24" d="M76.4 263.1h0"/><path class="c1" d="M102.3 257.9h0"/><path class="c0" d="M101.9 236.9h0"/><path class="c20" d="M74.3 265.3h0"/><path class="c13" d="M71.2 265.4h0"/><path class="c22" d="M78.4 262.4h0"/><path class="c5" d="M94.9 253.8h0"/><path class="c3" d="M92.7 250.8h0"/><path class="c9" d="M75.8 260.6h0"/><path class="c22" d="M74.8 264.8h0"/><path class="c12" d="M78.9 259.7h0"/><path class="c13" d="M84.9 258.3h0"/><path class="c5" d="M91.6 253.1h0"/><path class="c3" d="M94.5 250.1h0"/><path class="c2" d="M96.3 246.5h0"/><path class="c17" d="M83.9 261.0h0"/><path class="c15" d="M81.8 262.6h0"/><path class="c4" d="M83.2 264.6h0"/><path class="c9" d="M91.4 256.0h0"/><path class="c18" d="M80.9 262.4h0"/><path class="c19" d="M81.5 261.8h0"/><path class="c14" d="M79.1 264.4h0"/><path class="c5" d="M86.7 254.5h0"/><path class="c10" d="M90.4 256.3h0"/><path class="c8" d="M92.5 257.5h0"/><path class="c11" d="M85.9 257.4h0"/><path class="c20" d="M82.0 260.7h0"/><path class="c22" d="M78.4 263.1h0"/><path class="c12" d="M89.8 258.4h0"/><path class="c24" d="M75.7 263.9h0"/><path class="c24" d="M76.9 263.7h0"/><path class="c9" d="M87.7 255.9h0"/><path class="c0" d="M121.9 241.5h0"/><path class="c0" d="M87.6 245.1h0"/><path class="c13" d="M76.8 260.9h0"/><path class="c22" d="M78.2 262.2h0"/><path class="c10" d="M85.3 262.0h0"/><path class="c0" d="M119.1 172.1h0"/><path class="c18" d="M81.1 260.1h0"/><path class="c2" d="M87.3 264.2h0"/><path class="c7" d="M91.3 260.1h0"/><path class="c17" d="M79.9 263.3h0"/><path class="c14" d="M71.6 265.7h0"/><path class="c14" d="M86.4 258.3h0"/><path class="c0" d="M110.7 221.9h0"/><path class="c22" d="M75.7 264.7h0"/><path class="c21" d="M73.6 264.5h0"/><path class="c20" d="M82.4 260.5h0"/><path class="c13" d="M83.2 258.4h0"/><path class="c0" d="M120.8 220.0h0"/><path class="c22" d="M77.8 263.7h0"/><path class="c22" d="M73.9 264.2h0"/><path class="c7" d="M84.5 263.3h0"/><path class="c0" d="M88.9 244.9h0"/><path class="c2" d="M103.3 252.9h0"/><path class="c13" d="M72.2 263.6h0"/><path class="c2" d="M96.6 248.0h0"/><path class="c14" d="M87.0 260.1h0"/><path class="c2" d="M96.5 246.7h0"/><path class="c18" d="M73.5 263.5h0"/><path class="c3" d="M75.3 259.5h0"/><path class="c3" d="M100.7 255.8h0"/><path class="c10" d="M90.0 256.0h0"/><path class="c12" d="M87.9 256.8h0"/><path class="c11" d="M90.5 258.0h0"/><path class="c0" d="M110.8 238.2h0"/><path class="c8" d="M87.6 255.5h0"/><path class="c15" d="M87.3 258.9h0"/><path class="c9" d="M88.1 261.2h0"/><path class="c0" d="M129.5 220.9h0"/><path class="c8" d="M89.8 260.4h0"/><path class="c12" d="M80.8 263.9h0"/><path class="c16" d="M72.3 265.9h0"/><path class="c0" d="M104.6 234.1h0"/><path class="c4" d="M85.4 254.4h0"/><path class="c20" d="M82.2 260.4h0"/><path class="c0" d="M116.8 202.8h0"/><path class="c0" d="M130.2 227.8h0"/><path class="c7" d="M82.0 257.3h0"/><path class="c19" d="M80.4 260.6h0"/><path class="c0" d="M109.7 256.6h0"/><path class="c19" d="M82.1 260.2h0"/><path class="c17" d="M77.8 261.1h0"/><path class="c13" d="M86.7 257.6h0"/><path class="c18" d="M73.2 263.8h0"/><path class="c0" d="M82.7 247.2h0"/><path class="c0" d="M123.0 188.0h0"/><path class="c6" d="M85.3 255.8h0"/><path class="c23" d="M77.3 263.8h0"/><path class="c6" d="M91.1 254.2h0"/><path class="c0" d="M72.5 255.3h0"/><path class="c17" d="M82.9 259.2h0"/><path class="c1" d="M84.1 250.2h0"/><path class="c8" d="M70.1 266.1h0"/><path class="c8" d="M90.3 260.3h0"/><path class="c1" d="M99.3 242.4h0"/><path class="c12" d="M87.0 261.0h0"/><path class="c0" d="M93.2 230.5h0"/><path class="c13" d="M84.4 261.8h0"/><path class="c15" d="M86.2 259.8h0"/><path class="c6" d="M94.5 257.5h0"/><path class="c10" d="M90.9 257.2h0"/><path class="c3" d="M94.8 249.1h0"/><path class="c9" d="M91.5 257.2h0"/><path class="c7" d="M87.8 254.9h0"/><path class="c0" d="M101.5 241.6h0"/><path class="c15" d="M81.9 259.0h0"/><path class="c0" d="M109.2 250.3h0"/><path class="c14" d="M86.4 260.5h0"/><path class="c12" d="M70.9 265.0h0"/><path class="c5" d="M83.9 264.2h0"/><path class="c24" d="M76.3 263.6h0"/><path class="c2" d="M101.6 250.1h0"/><path class="c1" d="M93.0 246.7h0"/><path class="c16" d="M85.4 259.4h0"/><path class="c15" d="M81.0 259.4h0"/><path class="c19" d="M76.8 261.8h0"/><path class="c0" d="M110.2 236.0h0"/><path class="c20" d="M80.2 262.4h0"/><path class="c14" d="M88.0 259.2h0"/><path class="c3" d="M100.2 255.7h0"/><path class="c11" d="M87.1 256.8h0"/><path class="c0" d="M94.0 242.8h0"/><path class="c1" d="M104.8 254.3h0"/><path class="c18" d="M84.1 260.4h0"/><path class="c20" d="M81.7 260.7h0"/><path class="c20" d="M73.8 265.2h0"/><path class="c12" d="M84.3 258.0h0"/><path class="c14" d="M87.8 259.6h0"/><path class="c0" d="M131.7 229.0h0"/><path class="c0" d="M105.7 238.4h0"/><path class="c0" d="M111.5 245.7h0"/><path class="c1" d="M98.3 243.1h0"/><path class="c11" d="M70.8 266.0h0"/><path class="c3" d="M98.9 250.9h0"/><path class="c11" d="M76.5 260.7h0"/><path class="c1" d="M99.5 245.4h0"/><path class="c20" d="M73.8 263.8h0"/><path class="c8" d="M87.0 255.5h0"/><path class="c4" d="M92.7 252.3h0"/><path class="c5" d="M86.9 254.4h0"/><path class="c13" d="M71.2 266.0h0"/><path class="c0" d="M126.1 244.1h0"/><path class="c23" d="M77.6 263.5h0"/><path class="c13" d="M82.1 263.0h0"/><path class="c4" d="M75.1 259.9h0"/><path class="c8" d="M82.7 257.4h0"/><path class="c0" d="M114.2 245.4h0"/><path class="c20" d="M79.5 261.3h0"/><path class="c15" d="M83.8 258.6h0"/><path class="c21" d="M80.0 261.9h0"/><path class="c13" d="M71.4 266.0h0"/><path class="c0" d="M138.0 180.5h0"/><path class="c21" d="M73.6 264.2h0"/><path class="c18" d="M81.9 259.6h0"/><path class="c18" d="M82.9 259.7h0"/><path class="c1" d="M102.2 244.3h0"/><path class="c0" d="M205.3 73.3h0"/><path class="c8" d="M91.2 255.1h0"/><path class="c0" d="M121.4 245.4h0"/><path class="c13" d="M83.3 258.4h0"/><path class="c20" d="M82.5 260.7h0"/><path class="c0" d="M105.3 238.8h0"/><path class="c4" d="M97.6 256.3h0"/><path class="c8" d="M70.0 265.8h0"/><path class="c11" d="M88.7 260.0h0"/><path class="c19" d="M77.1 264.7h0"/><path class="c0" d="M90.6 235.7h0"/><path class="c8" d="M89.9 254.8h0"/><path class="c4" d="M93.5 251.7h0"/><path class="c2" d="M95.7 248.6h0"/><path class="c5" d="M93.8 259.2h0"/><path class="c13" d="M71.4 266.1h0"/><path class="c1" d="M97.4 260.2h0"/><path class="c18" d="M72.7 265.4h0"/><path class="c18" d="M79.2 260.7h0"/><path class="c7" d="M93.2 257.9h0"/><path class="c4" d="M96.3 253.7h0"/><path class="c0" d="M85.3 248.7h0"/><path class="c9" d="M88.1 255.7h0"/><path class="c1" d="M99.1 244.2h0"/><path class="c14" d="M85.1 258.5h0"/><path class="c18" d="M83.7 259.5h0"/><path class="c13" d="M75.6 261.5h0"/><path class="c19" d="M81.6 260.1h0"/><path class="c8" d="M86.9 261.9h0"/><path class="c3" d="M96.4 250.3h0"/><path class="c1" d="M104.1 244.9h0"/><path class="c22" d="M77.5 262.3h0"/><path class="c22" d="M77.0 262.4h0"/><path class="c9" d="M91.0 255.5h0"/><path class="c6" d="M90.1 253.7h0"/><path class="c6" d="M88.3 262.2h0"/><path class="c17" d="M81.2 259.8h0"/><path class="c12" d="M71.0 265.8h0"/><path class="c22" d="M77.1 264.0h0"/><path class="c5" d="M95.4 254.4h0"/><path class="c18" d="M81.3 260.0h0"/><path class="c4" d="M88.6 262.5h0"/><path class="c23" d="M76.2 264.2h0"/><path class="c1" d="M90.8 248.5h0"/><path class="c23" d="M76.5 262.8h0"/><path class="c8" d="M88.6 254.9h0"/><path class="c4" d="M98.9 254.2h0"/><path class="c0" d="M130.1 244.6h0"/><path class="c2" d="M97.4 258.9h0"/><path class="c18" d="M78.3 264.1h0"/><path class="c22" d="M78.0 262.4h0"/><path class="c0" d="M104.0 238.9h0"/><path class="c3" d="M98.0 257.9h0"/><path class="c20" d="M78.3 263.6h0"/><path class="c0" d="M160.0 180.5h0"/><path class="c0" d="M124.3 221.9h0"/><path class="c0" d="M103.6 258.2h0"/><path class="c4" d="M96.3 253.5h0"/><path class="c16" d="M84.3 261.2h0"/><path class="c5" d="M97.0 255.2h0"/><path class="c7" d="M85.5 256.4h0"/><path class="c24" d="M76.8 263.7h0"/><path class="c0" d="M131.8 191.7h0"/><path class="c8" d="M83.8 257.1h0"/><path class="c0" d="M116.3 226.1h0"/><path class="c10" d="M70.4 266.0h0"/><path class="c16" d="M72.1 264.6h0"/><path class="c6" d="M93.5 254.8h0"/><path class="c0" d="M95.4 241.1h0"/><path class="c7" d="M91.6 259.8h0"/><path class="c15" d="M86.8 259.1h0"/><path class="c14" d="M71.3 265.4h0"/><path class="c4" d="M86.9 263.4h0"/><path class="c2" d="M97.2 258.9h0"/><path class="c3" d="M97.5 251.5h0"/><path class="c16" d="M72.1 264.6h0"/><path class="c2" d="M95.2 246.2h0"/><path class="c21" d="M73.7 264.3h0"/><path class="c13" d="M71.1 265.9h0"/><path class="c0" d="M108.3 250.7h0"/><path class="c13" d="M88.5 259.3h0"/><path class="c10" d="M89.4 260.1h0"/><path class="c24" d="M76.1 263.4h0"/><path class="c1" d="M83.9 252.7h0"/><path class="c19" d="M82.6 260.0h0"/><path class="c8" d="M92.2 256.4h0"/><path class="c2" d="M103.2 253.9h0"/><path class="c3" d="M100.2 253.3h0"/><path class="c20" d="M79.4 262.9h0"/><path class="c5" d="M93.0 260.0h0"/><path class="c0" d="M156.5 181.5h0"/><path class="c24" d="M75.9 263.6h0"/><path class="c23" d="M75.7 264.4h0"/><path class="c22" d="M74.8 264.9h0"/><path class="c1" d="M103.8 245.4h0"/><path class="c14" d="M88.0 258.5h0"/><path class="c18" d="M84.3 260.2h0"/><path class="c1" d="M105.5 254.9h0"/><path class="c1" d="M96.9 244.2h0"/><path class="c0" d="M104.6 225.6h0"/><path class="c24" d="M76.0 264.2h0"/><path class="c9" d="M82.2 257.7h0"/><path class="c0" d="M100.4 238.3h0"/><path class="c0" d="M107.5 241.3h0"/><path class="c1" d="M104.8 251.9h0"/><path class="c24" d="M77.2 263.3h0"/><path class="c0" d="M126.1 250.8h0"/><path class="c3" d="M101.5 253.2h0"/><path class="c22" d="M78.1 262.0h0"/><path class="c16" d="M73.0 266.0h0"/><path class="c24" d="M76.9 263.3h0"/><path class="c16" d="M84.4 258.9h0"/><path class="c4" d="M90.5 261.6h0"/><path class="c22" d="M77.5 262.4h0"/><path class="c13" d="M86.8 260.5h0"/><path class="c2" d="M102.2 251.4h0"/><path class="c17" d="M78.2 264.3h0"/><path class="c15" d="M84.8 258.8h0"/><path class="c23" d="M76.4 262.8h0"/><path class="c5" d="M95.6 255.6h0"/><path class="c1" d="M105.3 248.7h0"/><path class="c21" d="M78.7 263.3h0"/><path class="c24" d="M75.9 264.0h0"/><path class="c0" d="M102.8 241.8h0"/><path class="c18" d="M83.5 260.8h0"/><path class="c11" d="M89.6 256.6h0"/><path class="c13" d="M72.1 263.9h0"/><path class="c23" d="M77.8 262.4h0"/><path class="c19" d="M77.1 261.7h0"/><path class="c1" d="M94.1 262.6h0"/><path class="c12" d="M71.1 266.1h0"/><path class="c1" d="M102.7 257.0h0"/><path class="c14" d="M87.6 258.3h0"/><path class="c3" d="M98.5 257.2h0"/><path class="c2" d="M98.0 248.2h0"/><path class="c0" d="M117.6 254.8h0"/><path class="c15" d="M86.8 258.7h0"/><path class="c19" d="M77.9 264.2h0"/><path class="c24" d="M77.0 263.4h0"/><path class="c16" d="M85.2 259.8h0"/><path class="c0" d="M91.9 264.8h0"/><path class="c1" d="M82.9 252.0h0"/><path class="c9" d="M90.1 255.2h0"/><path class="c15" d="M86.1 260.0h0"/><path class="c1" d="M84.7 251.3h0"/><path class="c24" d="M74.9 264.4h0"/><path class="c2" d="M100.3 249.1h0"/><path class="c23" d="M77.7 263.1h0"/><path class="c14" d="M76.0 261.5h0"/><path class="c14" d="M88.3 258.0h0"/><path class="c6" d="M83.1 256.6h0"/><path class="c2" d="M95.5 248.7h0"/><path class="c0" d="M103.4 263.8h0"/><path class="c13" d="M88.3 259.2h0"/><path class="c13" d="M71.1 265.8h0"/><path class="c0" d="M134.4 228.6h0"/><path class="c5" d="M95.6 257.9h0"/><path class="c9" d="M87.5 255.7h0"/><path class="c22" d="M74.8 264.9h0"/><path class="c5" d="M97.3 255.3h0"/><path class="c18" d="M84.1 259.9h0"/><path class="c2" d="M80.0 256.3h0"/><path class="c21" d="M79.3 261.6h0"/><path class="c0" d="M119.7 251.1h0"/><path class="c19" d="M82.6 261.3h0"/><path class="c0" d="M79.2 251.7h0"/><path class="c8" d="M87.7 261.6h0"/><path class="c22" d="M75.2 264.8h0"/><path class="c1" d="M104.7 247.6h0"/><path class="c20" d="M73.2 265.0h0"/><path class="c9" d="M91.5 256.9h0"/><path class="c5" d="M92.8 253.6h0"/><path class="c11" d="M85.0 261.9h0"/><path class="c20" d="M81.4 261.1h0"/><path class="c13" d="M75.8 261.4h0"/><path class="c13" d="M89.0 258.4h0"/><path class="c4" d="M93.9 251.8h0"/><path class="c21" d="M79.5 261.6h0"/><path class="c11" d="M88.8 260.3h0"/><path class="c0" d="M110.0 261.3h0"/><path class="c22" d="M74.0 264.4h0"/><path class="c4" d="M98.6 254.2h0"/><path class="c20" d="M79.4 261.4h0"/><path class="c2" d="M98.8 258.7h0"/><path class="c5" d="M80.3 257.5h0"/><path class="c11" d="M89.4 256.6h0"/><path class="c4" d="M96.4 257.4h0"/><path class="c21" d="M74.8 265.1h0"/><path class="c3" d="M97.2 251.1h0"/><path class="c4" d="M98.5 254.7h0"/><path class="c16" d="M84.7 259.0h0"/><path class="c0" d="M127.8 221.6h0"/><path class="c9" d="M70.3 266.0h0"/><path class="c10" d="M70.6 266.1h0"/><path class="c19" d="M72.8 264.4h0"/><path class="c20" d="M82.2 260.5h0"/><path class="c19" d="M82.6 260.9h0"/><path class="c9" d="M81.0 264.2h0"/><path class="c20" d="M74.1 263.4h0"/><path class="c3" d="M79.0 257.4h0"/><path class="c0" d="M100.4 233.6h0"/><path class="c22" d="M78.3 262.3h0"/><path class="c10" d="M91.0 258.0h0"/><path class="c18" d="M84.1 259.7h0"/><path class="c19" d="M74.5 263.1h0"/><path class="c3" d="M100.4 255.0h0"/><path class="c0" d="M107.9 232.6h0"/><path class="c13" d="M71.3 265.9h0"/><path class="c16" d="M84.7 260.7h0"/><path class="c20" d="M77.6 261.7h0"/><path class="c17" d="M72.7 264.1h0"/><path class="c3" d="M101.4 252.8h0"/><path class="c20" d="M80.6 262.0h0"/><path class="c17" d="M75.9 265.3h0"/><path class="c3" d="M86.5 253.0h0"/><path class="c21" d="M80.2 261.7h0"/><path class="c23" d="M74.8 264.0h0"/><path class="c24" d="M76.4 263.8h0"/><path class="c3" d="M99.8 256.7h0"/><path class="c0" d="M83.1 241.1h0"/><path class="c20" d="M73.0 264.9h0"/><path class="c21" d="M78.8 263.2h0"/><path class="c19" d="M83.5 260.1h0"/><path class="c12" d="M86.5 257.4h0"/><path class="c14" d="M87.8 258.2h0"/><path class="c13" d="M71.5 266.0h0"/><path class="c11" d="M70.7 265.2h0"/><path class="c21" d="M77.5 264.0h0"/><path class="c11" d="M89.1 256.5h0"/><path class="c9" d="M70.3 266.0h0"/><path class="c16" d="M73.3 265.9h0"/><path class="c20" d="M81.1 261.7h0"/><path class="c8" d="M90.5 254.8h0"/><path class="c13" d="M88.5 257.4h0"/><path class="c19" d="M82.8 260.9h0"/><path class="c1" d="M106.9 247.6h0"/><path class="c18" d="M81.7 262.1h0"/><path class="c11" d="M89.8 258.7h0"/><path class="c18" d="M83.7 259.5h0"/><path class="c0" d="M143.0 203.3h0"/><path class="c6" d="M92.3 259.7h0"/><path class="c1" d="M103.2 245.3h0"/><path class="c1" d="M106.5 245.7h0"/><path class="c13" d="M86.5 257.8h0"/><path class="c20" d="M78.3 263.7h0"/><path class="c4" d="M91.4 252.6h0"/><path class="c17" d="M83.6 261.4h0"/><path class="c20" d="M82.0 260.5h0"/><path class="c6" d="M84.5 256.3h0"/><path class="c19" d="M83.5 260.0h0"/><path class="c1" d="M98.7 242.4h0"/><path class="c4" d="M91.1 261.4h0"/><path class="c22" d="M75.2 264.8h0"/><path class="c21" d="M79.2 262.1h0"/><path class="c0" d="M120.2 241.3h0"/><path class="c0" d="M176.0 117.5h0"/><path class="c5" d="M94.1 253.4h0"/><path class="c9" d="M78.9 265.2h0"/><path class="c6" d="M82.7 264.4h0"/><path class="c20" d="M80.0 262.2h0"/><path class="c18" d="M84.5 259.9h0"/><path class="c15" d="M86.0 259.1h0"/><path class="c9" d="M91.1 259.2h0"/><path class="c19" d="M79.6 260.9h0"/><path class="c11" d="M70.7 266.0h0"/><path class="c7" d="M93.7 256.0h0"/><path class="c0" d="M118.6 245.9h0"/><path class="c12" d="M79.8 259.2h0"/><path class="c7" d="M93.5 255.5h0"/><path class="c1" d="M72.3 260.2h0"/><path class="c1" d="M97.1 245.8h0"/><path class="c3" d="M99.1 251.3h0"/><path class="c0" d="M119.6 211.1h0"/><path class="c22" d="M74.1 264.4h0"/><path class="c22" d="M76.5 264.3h0"/><path class="c0" d="M88.7 219.1h0"/><path class="c6" d="M90.8 260.8h0"/><path class="c11" d="M87.1 261.2h0"/><path class="c0" d="M129.5 233.1h0"/><path class="c20" d="M81.3 261.3h0"/><path class="c1" d="M102.5 244.5h0"/><path class="c23" d="M75.3 263.3h0"/><path class="c10" d="M85.5 257.1h0"/><path class="c0" d="M156.7 219.7h0"/><path class="c10" d="M87.6 261.3h0"/><path class="c5" d="M96.7 256.4h0"/><path class="c18" d="M83.9 259.6h0"/><path class="c3" d="M93.8 249.6h0"/><path class="c19" d="M72.7 265.1h0"/><path class="c0" d="M90.5 245.4h0"/><path class="c6" d="M92.8 259.2h0"/><path class="c2" d="M86.3 264.1h0"/><path class="c9" d="M91.3 256.4h0"/><path class="c0" d="M112.3 250.6h0"/><path class="c12" d="M86.6 257.3h0"/><path class="c15" d="M81.7 259.0h0"/><path class="c0" d="M121.2 206.7h0"/><path class="c1" d="M77.1 256.6h0"/><path class="c0" d="M122.0 247.3h0"/><path class="c0" d="M119.1 235.6h0"/><path class="c21" d="M79.4 262.6h0"/><path class="c0" d="M110.2 230.8h0"/><path class="c24" d="M76.6 263.4h0"/><path class="c12" d="M89.6 258.7h0"/><path class="c3" d="M90.8 251.1h0"/><path class="c17" d="M72.1 265.4h0"/><path class="c12" d="M83.8 257.9h0"/><path class="c6" d="M94.4 256.5h0"/><path class="c0" d="M111.5 251.4h0"/><path class="c24" d="M76.0 263.1h0"/><path class="c14" d="M78.2 260.5h0"/><path class="c3" d="M101.7 254.8h0"/><path class="c3" d="M92.7 261.0h0"/><path class="c21" d="M79.3 261.8h0"/><path class="c12" d="M84.8 261.9h0"/><path class="c0" d="M102.1 241.9h0"/><path class="c13" d="M83.8 262.2h0"/><path class="c16" d="M79.9 263.5h0"/><path class="c12" d="M89.7 258.6h0"/><path class="c23" d="M77.5 263.4h0"/><path class="c10" d="M88.8 255.7h0"/><path class="c21" d="M78.8 263.0h0"/><path class="c23" d="M74.4 264.7h0"/><path class="c14" d="M85.5 258.3h0"/><path class="c23" d="M75.8 264.4h0"/><path class="c20" d="M74.3 265.4h0"/><path class="c1" d="M73.3 259.3h0"/><path class="c0" d="M84.3 237.8h0"/><path class="c18" d="M72.7 265.6h0"/><path class="c2" d="M100.2 250.6h0"/><path class="c22" d="M77.3 263.9h0"/><path class="c3" d="M91.7 251.3h0"/><path class="c5" d="M91.0 253.2h0"/><path class="c23" d="M74.5 264.4h0"/><path class="c6" d="M86.7 255.0h0"/><path class="c18" d="M73.2 263.7h0"/><path class="c16" d="M85.0 258.9h0"/><path class="c12" d="M87.8 260.5h0"/><path class="c1" d="M95.5 246.0h0"/><path class="c1" d="M84.2 252.4h0"/><path class="c20" d="M81.3 260.8h0"/><path class="c6" d="M94.7 255.4h0"/><path class="c3" d="M96.1 258.7h0"/><path class="c7" d="M88.9 254.6h0"/><path class="c5" d="M94.3 254.3h0"/><path class="c1" d="M98.5 245.8h0"/><path class="c20" d="M73.2 265.2h0"/><path class="c22" d="M77.1 262.2h0"/><path class="c0" d="M118.7 225.6h0"/><path class="c9" d="M86.6 261.9h0"/><path class="c10" d="M70.5 266.1h0"/><path class="c15" d="M71.9 266.0h0"/><path class="c4" d="M87.6 253.7h0"/><path class="c2" d="M96.6 247.7h0"/><path class="c12" d="M87.9 256.9h0"/><path class="c7" d="M83.7 256.8h0"/><path class="c8" d="M70.0 266.1h0"/><path class="c19" d="M82.8 259.8h0"/><path class="c0" d="M72.4 246.4h0"/><path class="c6" d="M93.5 254.9h0"/><path class="c0" d="M119.6 228.4h0"/><path class="c24" d="M76.2 263.5h0"/><path class="c0" d="M120.2 246.3h0"/><path class="c19" d="M72.7 265.2h0"/><path class="c7" d="M89.6 254.6h0"/><path class="c21" d="M74.5 265.0h0"/><path class="c1" d="M97.4 245.9h0"/><path class="c1" d="M85.4 249.2h0"/><path class="c9" d="M89.6 255.5h0"/><path class="c15" d="M71.8 265.9h0"/><path class="c16" d="M84.5 259.0h0"/><path class="c20" d="M81.1 261.0h0"/><path class="c8" d="M70.0 266.1h0"/><path class="c13" d="M80.3 263.8h0"/><path class="c4" d="M85.0 255.2h0"/><path class="c13" d="M71.0 265.3h0"/><path class="c24" d="M75.6 263.6h0"/><path class="c17" d="M72.2 265.2h0"/><path class="c14" d="M88.1 259.1h0"/><path class="c22" d="M74.6 263.6h0"/><path class="c16" d="M85.9 259.9h0"/><path class="c24" d="M76.0 263.8h0"/><path class="c11" d="M70.9 266.1h0"/><path class="c19" d="M77.6 264.3h0"/><path class="c15" d="M86.1 259.8h0"/><path class="c7" d="M93.7 256.7h0"/><path class="c24" d="M76.7 263.6h0"/><path class="c23" d="M74.5 264.4h0"/><path class="c3" d="M96.7 250.1h0"/><path class="c11" d="M84.0 257.7h0"/><path class="c20" d="M78.9 263.3h0"/><path class="c1" d="M97.5 242.3h0"/><path class="c17" d="M72.0 265.2h0"/><path class="c1" d="M100.6 258.4h0"/><path class="c13" d="M88.8 258.1h0"/><path class="c12" d="M86.4 261.0h0"/><path class="c12" d="M82.2 258.3h0"/><path class="c12" d="M78.1 265.2h0"/><path class="c1" d="M83.7 252.8h0"/><path class="c6" d="M94.9 255.1h0"/><path class="c7" d="M92.7 255.5h0"/><path class="c7" d="M91.7 259.9h0"/><path class="c4" d="M82.6 264.8h0"/><path class="c8" d="M92.6 256.2h0"/><path class="c20" d="M73.9 263.7h0"/><path class="c8" d="M91.9 255.4h0"/><path class="c14" d="M88.1 258.8h0"/><path class="c9" d="M70.2 266.1h0"/><path class="c4" d="M88.7 262.8h0"/><path class="c9" d="M90.4 255.4h0"/><path class="c14" d="M84.5 261.6h0"/><path class="c0" d="M88.6 247.2h0"/><path class="c3" d="M84.5 254.9h0"/><path class="c15" d="M86.6 259.5h0"/><path class="c2" d="M87.2 252.5h0"/><path class="c6" d="M92.5 253.9h0"/><path class="c1" d="M95.2 244.9h0"/><path class="c9" d="M91.4 255.8h0"/><path class="c3" d="M101.7 254.2h0"/><path class="c8" d="M91.2 255.4h0"/><path class="c14" d="M88.0 258.1h0"/><path class="c12" d="M77.7 260.3h0"/><path class="c8" d="M85.9 262.3h0"/><path class="c16" d="M83.2 259.0h0"/><path class="c5" d="M96.9 254.4h0"/><path class="c18" d="M84.3 259.9h0"/><path class="c12" d="M89.3 257.2h0"/><path class="c7" d="M93.0 258.0h0"/><path class="c16" d="M83.3 259.1h0"/><path class="c23" d="M77.8 263.1h0"/><path class="c23" d="M74.7 264.4h0"/><path class="c17" d="M82.5 261.9h0"/><path class="c19" d="M83.4 260.4h0"/><path class="c2" d="M93.7 261.1h0"/><path class="c17" d="M84.6 260.2h0"/><path class="c0" d="M126.3 234.8h0"/><path class="c7" d="M94.0 257.2h0"/><path class="c11" d="M89.7 257.0h0"/><path class="c19" d="M83.1 260.1h0"/><path class="c2" d="M92.9 262.1h0"/><path class="c13" d="M88.9 257.7h0"/><path class="c8" d="M91.6 255.3h0"/><path class="c14" d="M87.6 258.1h0"/><path class="c23" d="M75.4 264.5h0"/><path class="c6" d="M90.6 253.7h0"/><path class="c15" d="M85.9 260.4h0"/><path class="c15" d="M81.0 263.1h0"/><path class="c2" d="M100.3 250.1h0"/><path class="c13" d="M85.2 258.1h0"/><path class="c3" d="M98.9 257.5h0"/><path class="c15" d="M79.6 259.9h0"/><path class="c3" d="M101.3 252.0h0"/><path class="c9" d="M70.4 266.1h0"/><path class="c20" d="M81.5 260.8h0"/><path class="c0" d="M101.0 239.7h0"/><path class="c1" d="M102.0 257.2h0"/><path class="c15" d="M77.4 260.9h0"/><path class="c0" d="M88.7 209.4h0"/><path class="c16" d="M72.0 265.7h0"/><path class="c23" d="M74.8 264.6h0"/><path class="c20" d="M82.5 260.6h0"/><path class="c2" d="M99.5 248.4h0"/><path class="c0" d="M101.9 240.9h0"/><path class="c10" d="M75.0 261.3h0"/><path class="c0" d="M184.8 107.8h0"/><path class="c1" d="M79.0 255.8h0"/><path class="c3" d="M100.8 253.6h0"/><path class="c4" d="M99.5 255.6h0"/><path class="c20" d="M80.8 261.0h0"/><path class="c11" d="M89.0 256.1h0"/><path class="c10" d="M70.4 266.1h0"/><path class="c1" d="M104.9 247.0h0"/><path class="c14" d="M86.5 258.3h0"/><path class="c20" d="M80.4 262.1h0"/><path class="c22" d="M74.0 264.2h0"/><path class="c10" d="M88.5 255.7h0"/><path class="c24" d="M76.5 263.2h0"/><path class="c3" d="M95.3 249.9h0"/><path class="c22" d="M77.1 262.4h0"/><path class="c19" d="M72.8 264.9h0"/><path class="c14" d="M85.4 258.3h0"/><path class="c8" d="M84.0 263.1h0"/><path class="c10" d="M81.0 264.1h0"/><path class="c12" d="M89.3 258.8h0"/><path class="c1" d="M105.5 247.3h0"/><path class="c18" d="M73.3 263.8h0"/><path class="c0" d="M112.9 246.5h0"/><path class="c21" d="M73.4 264.5h0"/><path class="c20" d="M73.5 265.1h0"/><path class="c24" d="M76.5 264.0h0"/><path class="c3" d="M101.9 252.8h0"/><path class="c14" d="M80.1 263.8h0"/><path class="c7" d="M94.1 256.6h0"/><path class="c19" d="M77.2 264.7h0"/><path class="c16" d="M77.0 261.2h0"/><path class="c15" d="M85.9 258.7h0"/><path class="c21" d="M77.9 262.0h0"/><path class="c6" d="M86.4 255.4h0"/><path class="c9" d="M89.8 255.5h0"/><path class="c14" d="M87.4 258.5h0"/><path class="c12" d="M71.0 264.8h0"/><path class="c9" d="M92.2 257.1h0"/><path class="c21" d="M74.0 265.0h0"/><path class="c22" d="M78.9 262.3h0"/><path class="c20" d="M79.6 262.7h0"/><path class="c4" d="M96.3 251.8h0"/><path class="c4" d="M97.3 253.8h0"/><path class="c2" d="M93.4 248.6h0"/><path class="c10" d="M90.6 258.4h0"/><path class="c2" d="M90.7 249.6h0"/><path class="c3" d="M101.7 254.4h0"/><path class="c4" d="M97.7 256.7h0"/><path class="c24" d="M75.3 264.1h0"/><path class="c17" d="M79.7 263.4h0"/><path class="c18" d="M83.6 260.8h0"/><path class="c3" d="M83.8 264.7h0"/><path class="c10" d="M90.8 258.0h0"/><path class="c0" d="M86.8 212.2h0"/><path class="c7" d="M80.6 257.8h0"/><path class="c2" d="M91.5 249.5h0"/><path class="c14" d="M88.1 258.6h0"/><path class="c15" d="M82.7 262.3h0"/><path class="c17" d="M73.3 265.8h0"/><path class="c18" d="M72.5 265.2h0"/><path class="c2" d="M88.7 263.9h0"/><path class="c22" d="M76.2 262.6h0"/><path class="c19" d="M78.9 263.6h0"/><path class="c19" d="M72.8 265.0h0"/><path class="c20" d="M78.3 263.8h0"/><path class="c19" d="M82.5 260.2h0"/><path class="c0" d="M102.7 231.2h0"/><path class="c14" d="M88.2 258.8h0"/><path class="c15" d="M82.6 262.4h0"/><path class="c1" d="M105.8 251.3h0"/><path class="c11" d="M85.2 257.5h0"/><path class="c1" d="M100.4 248.2h0"/><path class="c15" d="M83.2 258.9h0"/><path class="c16" d="M83.1 258.9h0"/><path class="c0" d="M138.0 216.6h0"/><path class="c6" d="M72.6 262.1h0"/><path class="c17" d="M84.2 259.5h0"/><path class="c17" d="M83.0 261.7h0"/><path class="c0" d="M102.2 238.3h0"/><path class="c12" d="M70.9 265.7h0"/><path class="c6" d="M79.9 265.3h0"/><path class="c16" d="M81.2 259.4h0"/><path class="c0" d="M99.9 230.3h0"/><path class="c21" d="M79.5 261.9h0"/><path class="c3" d="M100.9 252.1h0"/><path class="c11" d="M86.2 257.2h0"/><path class="c20" d="M74.7 265.2h0"/><path class="c1" d="M93.5 262.8h0"/><path class="c20" d="M80.9 261.7h0"/><path class="c24" d="M76.6 263.0h0"/><path class="c23" d="M74.7 264.2h0"/><path class="c10" d="M79.4 264.8h0"/><path class="c12" d="M89.4 257.7h0"/><path class="c2" d="M97.0 259.1h0"/><path class="c3" d="M94.9 259.9h0"/><path class="c7" d="M91.8 255.0h0"/><path class="c0" d="M134.0 215.0h0"/><path class="c0" d="M113.9 256.0h0"/><path class="c22" d="M77.3 264.0h0"/><path class="c5" d="M87.8 253.9h0"/><path class="c3" d="M98.0 251.9h0"/><path class="c20" d="M78.9 261.5h0"/><path class="c12" d="M86.1 261.3h0"/><path class="c3" d="M90.7 251.9h0"/><path class="c17" d="M80.0 260.1h0"/><path class="c4" d="M90.1 262.2h0"/><path class="c0" d="M110.9 242.5h0"/><path class="c7" d="M89.2 254.3h0"/><path class="c23" d="M77.9 262.5h0"/><path class="c14" d="M80.9 259.2h0"/><path class="c5" d="M95.8 256.4h0"/><path class="c1" d="M91.5 246.4h0"/><path class="c5" d="M94.9 258.2h0"/><path class="c18" d="M84.2 260.2h0"/><path class="c12" d="M79.7 259.3h0"/><path class="c24" d="M75.4 263.9h0"/><path class="c21" d="M73.5 264.5h0"/><path class="c17" d="M72.2 265.4h0"/><path class="c24" d="M75.2 264.2h0"/><path class="c8" d="M90.9 255.2h0"/><path class="c23" d="M74.2 264.5h0"/><path class="c1" d="M102.7 246.1h0"/><path class="c0" d="M134.8 211.4h0"/><path class="c11" d="M70.9 266.1h0"/><path class="c18" d="M73.3 263.8h0"/><path class="c18" d="M77.7 261.3h0"/><path class="c20" d="M78.6 261.6h0"/><path class="c4" d="M94.0 251.4h0"/><path class="c24" d="M75.1 263.9h0"/><path class="c0" d="M85.9 246.0h0"/><path class="c6" d="M69.6 266.2h0"/><path class="c20" d="M81.0 261.8h0"/><path class="c21" d="M76.4 264.6h0"/><path class="c22" d="M73.8 264.3h0"/><path class="c20" d="M81.1 261.0h0"/><path class="c5" d="M91.8 253.3h0"/><path class="c8" d="M91.6 259.2h0"/><path class="c22" d="M78.3 262.8h0"/><path class="c17" d="M81.7 259.6h0"/><path class="c13" d="M71.5 266.0h0"/><path class="c9" d="M89.8 260.0h0"/><path class="c16" d="M81.2 262.7h0"/><path class="c19" d="M78.2 261.3h0"/><path class="c18" d="M72.8 265.5h0"/><path class="c1" d="M90.8 245.7h0"/><path class="c24" d="M76.2 263.8h0"/><path class="c0" d="M109.7 245.9h0"/><path class="c21" d="M75.4 262.9h0"/><path class="c15" d="M72.5 266.1h0"/><path class="c11" d="M70.6 266.0h0"/><path class="c1" d="M82.3 253.4h0"/><path class="c16" d="M85.5 259.4h0"/><path class="c1" d="M92.0 246.5h0"/><path class="c15" d="M85.9 258.7h0"/><path class="c17" d="M84.7 259.6h0"/><path class="c7" d="M87.7 254.9h0"/><path class="c13" d="M89.0 258.8h0"/><path class="c11" d="M90.3 257.9h0"/><path class="c4" d="M96.7 253.4h0"/><path class="c19" d="M74.8 265.4h0"/><path class="c18" d="M83.5 259.7h0"/><path class="c8" d="M93.0 257.1h0"/><path class="c7" d="M84.6 256.4h0"/><path class="c6" d="M87.6 254.4h0"/><path class="c3" d="M90.9 251.2h0"/><path class="c9" d="M90.2 255.3h0"/><path class="c23" d="M75.6 264.5h0"/><path class="c9" d="M87.8 255.7h0"/><path class="c11" d="M88.5 256.3h0"/><path class="c0" d="M100.1 170.6h0"/><path class="c2" d="M83.0 254.6h0"/><path class="c11" d="M89.8 256.6h0"/><path class="c6" d="M76.0 259.9h0"/><path class="c0" d="M99.1 260.5h0"/><path class="c21" d="M73.8 265.1h0"/><path class="c1" d="M100.9 258.6h0"/><path class="c8" d="M89.0 255.0h0"/><path class="c3" d="M81.5 255.9h0"/><path class="c0" d="M109.2 246.1h0"/><path class="c24" d="M75.5 263.6h0"/><path class="c7" d="M74.5 261.0h0"/><path class="c10" d="M88.2 255.9h0"/><path class="c12" d="M89.4 257.7h0"/><path class="c13" d="M86.8 257.9h0"/><path class="c2" d="M88.7 250.9h0"/><path class="c0" d="M116.7 249.0h0"/><path class="c5" d="M95.8 253.9h0"/><path class="c22" d="M78.5 262.6h0"/><path class="c18" d="M82.9 259.6h0"/><path class="c8" d="M93.2 256.6h0"/><path class="c18" d="M72.5 264.9h0"/><path class="c5" d="M94.1 254.0h0"/><path class="c2" d="M97.9 258.4h0"/><path class="c4" d="M96.6 253.9h0"/><path class="c0" d="M154.7 207.7h0"/><path class="c24" d="M77.2 262.8h0"/><path class="c10" d="M74.9 261.3h0"/><path class="c8" d="M83.0 263.7h0"/><path class="c17" d="M72.4 265.5h0"/><path class="c0" d="M138.4 233.3h0"/><path class="c13" d="M79.7 259.4h0"/><path class="c4" d="M98.4 255.0h0"/><path class="c5" d="M86.4 254.4h0"/><path class="c10" d="M79.8 258.9h0"/><path class="c21" d="M74.2 263.6h0"/><path class="c20" d="M78.3 261.6h0"/><path class="c23" d="M77.1 262.5h0"/><path class="c14" d="M71.8 266.0h0"/><path class="c4" d="M93.9 251.6h0"/><path class="c21" d="M79.6 262.0h0"/><path class="c6" d="M87.6 262.4h0"/><path class="c20" d="M76.6 264.7h0"/><path class="c8" d="M91.8 259.3h0"/><path class="c13" d="M87.8 257.3h0"/><path class="c10" d="M91.1 257.3h0"/><path class="c3" d="M97.6 251.4h0"/><path class="c24" d="M76.3 263.3h0"/><path class="c21" d="M76.2 262.4h0"/><path class="c6" d="M90.7 254.1h0"/><path class="c1" d="M103.3 245.5h0"/><path class="c20" d="M82.1 260.5h0"/><path class="c13" d="M85.6 258.1h0"/><path class="c12" d="M85.6 261.4h0"/><path class="c3" d="M100.4 253.1h0"/><path class="c21" d="M73.5 264.7h0"/><path class="c6" d="M92.1 260.0h0"/><path class="c22" d="M73.9 264.3h0"/><path class="c3" d="M101.0 254.6h0"/><path class="c12" d="M89.2 259.1h0"/><path class="c0" d="M96.6 232.2h0"/><path class="c23" d="M75.3 263.4h0"/><path class="c8" d="M90.1 255.1h0"/><path class="c5" d="M88.1 262.5h0"/><path class="c7" d="M88.4 261.8h0"/><path class="c18" d="M82.0 261.9h0"/><path class="c0" d="M113.1 232.2h0"/><path class="c1" d="M93.0 246.0h0"/><path class="c6" d="M90.6 253.8h0"/><path class="c19" d="M72.8 265.0h0"/><path class="c22" d="M78.5 262.3h0"/><path class="c16" d="M82.6 259.1h0"/><path class="c2" d="M83.4 254.2h0"/><path class="c0" d="M117.8 236.8h0"/><path class="c23" d="M75.0 263.6h0"/><path class="c4" d="M96.2 257.5h0"/><path class="c7" d="M88.5 261.8h0"/><path class="c9" d="M70.3 266.1h0"/><path class="c13" d="M87.5 260.1h0"/><path class="c16" d="M85.2 260.2h0"/><path class="c1" d="M96.0 260.5h0"/><path class="c0" d="M104.6 205.3h0"/><path class="c14" d="M86.3 260.4h0"/><path class="c19" d="M82.6 259.8h0"/><path class="c2" d="M87.2 252.3h0"/><path class="c19" d="M81.9 260.0h0"/><path class="c19" d="M83.4 260.3h0"/><path class="c1" d="M74.0 258.7h0"/><path class="c19" d="M72.7 264.8h0"/><path class="c22" d="M74.1 264.7h0"/><path class="c19" d="M83.5 260.5h0"/><path class="c0" d="M111.7 244.4h0"/><path class="c8" d="M91.5 259.4h0"/><path class="c17" d="M82.6 259.4h0"/><path class="c0" d="M107.3 250.7h0"/><path class="c19" d="M72.9 265.4h0"/><path class="c20" d="M78.6 261.5h0"/><path class="c23" d="M74.2 264.5h0"/><path class="c0" d="M113.9 251.3h0"/><path class="c20" d="M79.5 261.1h0"/><path class="c10" d="M88.5 260.7h0"/><path class="c0" d="M104.6 213.0h0"/><path class="c14" d="M77.2 265.3h0"/><path class="c1" d="M88.9 249.9h0"/><path class="c2" d="M81.9 255.0h0"/><path class="c15" d="M78.5 264.5h0"/><path class="c15" d="M72.1 265.9h0"/><path class="c21" d="M78.7 261.7h0"/><path class="c16" d="M82.6 259.1h0"/><path class="c0" d="M101.5 260.7h0"/><path class="c7" d="M87.7 262.0h0"/><path class="c10" d="M70.4 265.5h0"/><path class="c18" d="M84.4 260.0h0"/><path class="c14" d="M88.1 259.4h0"/><path class="c13" d="M79.5 259.5h0"/><path class="c14" d="M86.4 258.4h0"/><path class="c0" d="M110.8 255.8h0"/><path class="c20" d="M82.7 260.6h0"/><path class="c1" d="M100.8 246.7h0"/><path class="c23" d="M77.5 262.5h0"/><path class="c16" d="M79.4 260.2h0"/><path class="c12" d="M88.9 259.5h0"/><path class="c6" d="M90.7 260.9h0"/><path class="c22" d="M77.3 262.2h0"/><path class="c4" d="M81.9 256.1h0"/><path class="c20" d="M82.4 260.3h0"/><path class="c18" d="M83.3 260.9h0"/><path class="c23" d="M77.6 262.8h0"/><path class="c2" d="M96.8 249.7h0"/><path class="c5" d="M87.2 263.0h0"/><path class="c19" d="M82.4 260.0h0"/><path class="c14" d="M77.8 265.0h0"/><path class="c22" d="M75.0 263.2h0"/><path class="c10" d="M70.5 266.1h0"/><path class="c21" d="M74.8 265.0h0"/><path class="c9" d="M82.7 257.5h0"/><path class="c4" d="M98.7 253.6h0"/><path class="c2" d="M101.6 250.1h0"/><path class="c17" d="M83.7 259.3h0"/><path class="c15" d="M80.9 263.3h0"/><path class="c23" d="M75.1 264.7h0"/><path class="c0" d="M106.9 188.9h0"/><path class="c16" d="M82.5 259.1h0"/><path class="c11" d="M80.7 258.6h0"/><path class="c0" d="M100.9 240.1h0"/><path class="c1" d="M85.6 249.3h0"/><path class="c0" d="M112.7 259.1h0"/><path class="c0" d="M105.6 237.6h0"/><path class="c13" d="M87.0 257.7h0"/><path class="c22" d="M78.3 263.3h0"/><path class="c14" d="M88.1 259.4h0"/><path class="c11" d="M81.7 258.2h0"/><path class="c8" d="M75.1 261.0h0"/><path class="c16" d="M71.9 265.6h0"/><path class="c11" d="M81.2 258.5h0"/><path class="c8" d="M69.9 266.1h0"/><path class="c15" d="M71.9 266.0h0"/><path class="c0" d="M107.9 211.6h0"/><path class="c14" d="M83.5 258.6h0"/><path class="c11" d="M90.2 258.3h0"/><path class="c3" d="M96.3 259.1h0"/><path class="c18" d="M78.8 260.9h0"/><path class="c15" d="M71.8 264.7h0"/><path class="c10" d="M88.8 255.8h0"/><path class="c11" d="M84.7 257.6h0"/><path class="c12" d="M79.1 264.6h0"/><path class="c24" d="M76.6 263.3h0"/><path class="c0" d="M92.7 235.6h0"/><path class="c17" d="M84.4 259.6h0"/><path class="c0" d="M123.1 235.3h0"/><path class="c12" d="M71.1 266.0h0"/><path class="c4" d="M91.1 252.6h0"/><path class="c19" d="M72.8 265.1h0"/><path class="c12" d="M84.1 262.2h0"/><path class="c0" d="M92.6 242.3h0"/><path class="c3" d="M102.2 252.8h0"/><path class="c19" d="M83.4 260.7h0"/><path class="c4" d="M94.9 252.6h0"/><path class="c0" d="M120.5 205.0h0"/><path class="c20" d="M75.1 262.8h0"/><path class="c16" d="M84.6 260.8h0"/><path class="c18" d="M80.2 260.4h0"/><path class="c0" d="M177.7 148.0h0"/><path class="c0" d="M92.0 241.2h0"/><path class="c23" d="M75.3 263.3h0"/><path class="c1" d="M102.6 256.6h0"/><path class="c2" d="M79.3 256.3h0"/><path class="c16" d="M78.0 264.6h0"/><path class="c6" d="M91.5 260.4h0"/><path class="c5" d="M96.6 255.1h0"/><path class="c22" d="M74.1 263.9h0"/><path class="c5" d="M96.8 255.8h0"/><path class="c19" d="M80.6 260.5h0"/><path class="c13" d="M83.5 262.4h0"/><path class="c15" d="M71.6 264.9h0"/><path class="c20" d="M76.5 264.8h0"/><path class="c24" d="M75.6 263.7h0"/><path class="c14" d="M78.1 260.5h0"/><path class="c13" d="M81.8 263.1h0"/><path class="c19" d="M80.3 262.7h0"/><path class="c14" d="M75.4 261.7h0"/><path class="c14" d="M88.2 258.2h0"/><path class="c12" d="M82.4 258.3h0"/><path class="c9" d="M91.1 258.8h0"/><path class="c11" d="M83.0 263.0h0"/><path class="c8" d="M90.0 260.5h0"/><path class="c19" d="M72.8 265.2h0"/><path class="c2" d="M96.4 246.4h0"/><path class="c5" d="M83.6 256.0h0"/><path class="c12" d="M88.1 257.0h0"/><path class="c0" d="M108.9 246.7h0"/><path class="c12" d="M88.9 257.1h0"/><path class="c7" d="M87.7 254.8h0"/><path class="c19" d="M73.3 264.0h0"/><path class="c21" d="M80.4 261.6h0"/><path class="c15" d="M86.8 258.7h0"/><path class="c20" d="M80.9 260.6h0"/><path class="c3" d="M100.1 251.7h0"/><path class="c14" d="M87.7 258.8h0"/><path class="c20" d="M80.3 260.8h0"/><path class="c13" d="M84.9 258.2h0"/><path class="c13" d="M86.1 258.1h0"/><path class="c11" d="M89.1 259.9h0"/><path class="c0" d="M106.4 235.9h0"/><path class="c17" d="M81.5 259.7h0"/><path class="c11" d="M86.4 261.4h0"/><path class="c0" d="M95.1 240.9h0"/><path class="c0" d="M109.8 241.6h0"/><path class="c1" d="M102.1 244.5h0"/><path class="c1" d="M86.8 265.0h0"/><path class="c15" d="M84.6 261.2h0"/><path class="c14" d="M81.5 263.1h0"/><path class="c0" d="M109.9 254.7h0"/><path class="c0" d="M114.0 199.6h0"/><path class="c7" d="M76.2 260.0h0"/><path class="c0" d="M105.9 235.2h0"/><path class="c11" d="M85.4 257.4h0"/><path class="c19" d="M83.2 260.6h0"/><path class="c2" d="M95.2 260.1h0"/><path class="c11" d="M90.0 257.1h0"/><path class="c17" d="M73.0 265.8h0"/><path class="c1" d="M88.7 250.6h0"/><path class="c0" d="M114.0 227.0h0"/><path class="c11" d="M80.5 264.1h0"/><path class="c21" d="M78.1 263.7h0"/><path class="c17" d="M79.3 260.6h0"/><path class="c23" d="M75.6 263.2h0"/><path class="c2" d="M94.4 248.5h0"/><path class="c6" d="M84.5 263.6h0"/><path class="c19" d="M72.7 264.8h0"/><path class="c13" d="M88.0 257.7h0"/><path class="c1" d="M82.1 253.0h0"/><path class="c14" d="M87.2 259.8h0"/><path class="c2" d="M101.3 256.2h0"/><path class="c15" d="M72.0 265.9h0"/><path class="c16" d="M72.1 264.6h0"/><path class="c2" d="M102.9 253.4h0"/><path class="c6" d="M76.9 259.4h0"/><path class="c22" d="M78.2 262.4h0"/><path class="c22" d="M74.3 264.8h0"/><path class="c19" d="M80.9 262.2h0"/><path class="c1" d="M86.2 250.9h0"/><path class="c20" d="M76.4 264.8h0"/><path class="c1" d="M104.1 248.1h0"/><path class="c7" d="M87.1 255.0h0"/><path class="c7" d="M93.3 257.0h0"/><path class="c19" d="M80.7 260.5h0"/><path class="c8" d="M92.5 258.4h0"/><path class="c3" d="M94.9 250.4h0"/><path class="c21" d="M78.6 263.0h0"/><path class="c19" d="M79.1 261.0h0"/><path class="c1" d="M104.1 247.7h0"/><path class="c6" d="M93.5 258.9h0"/><path class="c21" d="M79.6 261.6h0"/><path class="c1" d="M85.8 250.9h0"/><path class="c2" d="M96.3 248.7h0"/><path class="c19" d="M82.0 260.0h0"/><path class="c4" d="M97.5 256.9h0"/><path class="c15" d="M78.6 260.5h0"/><path class="c20" d="M73.9 265.4h0"/><path class="c1" d="M104.1 255.0h0"/><path class="c0" d="M111.2 228.0h0"/><path class="c3" d="M93.5 250.8h0"/><path class="c12" d="M89.9 258.1h0"/><path class="c0" d="M113.7 250.5h0"/><path class="c20" d="M82.3 260.7h0"/><path class="c0" d="M86.7 248.4h0"/><path class="c1" d="M84.1 250.4h0"/><path class="c16" d="M82.3 259.2h0"/><path class="c21" d="M78.6 263.1h0"/><path class="c4" d="M94.1 251.7h0"/><path class="c24" d="M76.1 263.8h0"/><path class="c5" d="M84.5 255.9h0"/><path class="c12" d="M89.5 259.2h0"/><path class="c4" d="M98.3 255.0h0"/><path class="c1" d="M96.7 245.3h0"/><path class="c2" d="M102.7 254.9h0"/><path class="c20" d="M80.3 261.1h0"/><path class="c16" d="M84.9 260.5h0"/><path class="c11" d="M88.6 256.5h0"/><path class="c14" d="M83.8 258.6h0"/><path class="c20" d="M80.9 261.1h0"/><path class="c3" d="M92.3 250.4h0"/><path class="c20" d="M79.5 262.8h0"/><path class="c0" d="M95.0 235.9h0"/><path class="c0" d="M131.2 204.0h0"/><path class="c18" d="M80.6 262.7h0"/><path class="c1" d="M84.9 251.8h0"/><path class="c24" d="M76.6 263.2h0"/><path class="c12" d="M89.8 257.4h0"/><path class="c5" d="M96.6 256.5h0"/><path class="c15" d="M87.1 259.4h0"/><path class="c4" d="M91.7 252.1h0"/><path class="c16" d="M71.8 265.1h0"/><path class="c22" d="M74.5 264.9h0"/><path class="c6" d="M95.5 256.1h0"/><path class="c18" d="M72.4 264.9h0"/><path class="c6" d="M92.8 254.6h0"/><path class="c2" d="M96.3 259.6h0"/><path class="c2" d="M102.9 251.0h0"/><path class="c16" d="M72.1 264.5h0"/><path class="c10" d="M86.7 261.6h0"/><path class="c0" d="M103.1 262.2h0"/><path class="c0" d="M87.3 234.2h0"/><path class="c9" d="M70.3 266.1h0"/><path class="c8" d="M92.8 256.2h0"/><path class="c4" d="M97.3 252.8h0"/><path class="c9" d="M88.0 255.6h0"/><path class="c3" d="M101.4 251.9h0"/><path class="c0" d="M111.5 236.4h0"/><path class="c20" d="M82.6 260.6h0"/><path class="c3" d="M101.4 252.4h0"/><path class="c0" d="M90.8 241.0h0"/><path class="c14" d="M71.8 266.1h0"/><path class="c1" d="M103.6 247.2h0"/><path class="c10" d="M88.1 261.0h0"/><path class="c20" d="M79.8 261.2h0"/><path class="c20" d="M73.6 264.0h0"/><path class="c0" d="M174.5 178.2h0"/><path class="c17" d="M80.3 260.1h0"/><path class="c12" d="M89.3 256.8h0"/><path class="c11" d="M90.1 257.0h0"/><path class="c24" d="M75.1 264.4h0"/><path class="c4" d="M97.6 252.0h0"/><path class="c18" d="M72.6 265.3h0"/><path class="c0" d="M87.0 237.9h0"/><path class="c0" d="M87.2 243.5h0"/><path class="c24" d="M76.0 263.8h0"/><path class="c2" d="M76.6 258.3h0"/><path class="c3" d="M92.0 251.6h0"/><path class="c19" d="M72.9 264.6h0"/><path class="c20" d="M80.1 262.1h0"/><path class="c4" d="M96.4 257.8h0"/><path class="c3" d="M98.0 251.8h0"/><path class="c18" d="M81.0 262.4h0"/><path class="c4" d="M99.0 254.4h0"/><path class="c6" d="M85.7 262.9h0"/><path class="c20" d="M75.8 265.1h0"/><path class="c1" d="M94.7 246.1h0"/><path class="c11" d="M70.7 265.5h0"/><path class="c1" d="M102.4 256.9h0"/><path class="c14" d="M87.3 257.9h0"/><path class="c22" d="M78.5 262.5h0"/><path class="c2" d="M101.5 256.1h0"/><path class="c0" d="M98.4 191.9h0"/><path class="c24" d="M77.0 263.4h0"/><path class="c8" d="M92.4 258.0h0"/><path class="c13" d="M87.8 257.8h0"/><path class="c15" d="M85.9 258.7h0"/><path class="c9" d="M88.1 255.7h0"/><path class="c2" d="M96.4 247.9h0"/><path class="c19" d="M79.2 261.0h0"/><path class="c19" d="M81.6 261.6h0"/><path class="c20" d="M80.3 260.8h0"/><path class="c5" d="M92.7 252.9h0"/><path class="c8" d="M85.6 256.3h0"/><path class="c0" d="M103.2 220.9h0"/><path class="c15" d="M86.3 259.3h0"/><path class="c24" d="M77.3 263.2h0"/><path class="c22" d="M76.6 262.4h0"/><path class="c1" d="M89.9 249.2h0"/><path class="c16" d="M82.8 262.0h0"/><path class="c20" d="M81.9 261.2h0"/><path class="c3" d="M95.3 259.5h0"/><path class="c4" d="M99.3 256.0h0"/><path class="c10" d="M87.8 256.0h0"/><path class="c2" d="M84.3 253.8h0"/><path class="c22" d="M73.8 264.7h0"/><path class="c0" d="M90.1 246.5h0"/><path class="c14" d="M88.4 258.9h0"/><path class="c0" d="M126.6 216.9h0"/><path class="c0" d="M74.8 246.4h0"/><path class="c8" d="M92.7 255.8h0"/><path class="c8" d="M91.8 258.6h0"/><path class="c20" d="M80.1 262.4h0"/><path class="c0" d="M89.8 246.8h0"/><path class="c11" d="M87.8 256.4h0"/><path class="c23" d="M74.7 264.5h0"/><path class="c9" d="M92.0 256.7h0"/><path class="c22" d="M74.4 263.9h0"/><path class="c4" d="M86.2 254.1h0"/><path class="c14" d="M71.2 265.5h0"/><path class="c18" d="M84.0 260.6h0"/><path class="c1" d="M89.1 249.3h0"/><path class="c14" d="M79.1 259.8h0"/><path class="c4" d="M94.0 252.1h0"/><path class="c24" d="M77.3 263.4h0"/><path class="c24" d="M76.7 262.9h0"/><path class="c7" d="M92.1 259.6h0"/><path class="c9" d="M89.0 260.6h0"/><path class="c16" d="M85.4 259.7h0"/><path class="c24" d="M75.1 263.7h0"/><path class="c22" d="M74.3 263.7h0"/><path class="c0" d="M99.8 240.7h0"/><path class="c6" d="M93.7 254.9h0"/><path class="c0" d="M114.6 246.8h0"/><path class="c15" d="M71.8 265.6h0"/><path class="c4" d="M93.6 253.0h0"/><path class="c10" d="M81.2 258.2h0"/><path class="c23" d="M74.9 264.6h0"/><path class="c4" d="M96.9 253.6h0"/><path class="c20" d="M73.3 265.2h0"/><path class="c2" d="M103.6 252.3h0"/><path class="c22" d="M76.3 262.6h0"/><path class="c1" d="M97.5 243.4h0"/><path class="c18" d="M76.5 261.7h0"/><path class="c1" d="M101.5 245.4h0"/><path class="c1" d="M91.9 245.2h0"/><path class="c14" d="M87.8 259.3h0"/><path class="c20" d="M82.7 260.5h0"/><path class="c21" d="M77.6 261.9h0"/><path class="c15" d="M79.9 263.6h0"/><path class="c1" d="M100.4 245.9h0"/><path class="c19" d="M72.6 264.9h0"/><path class="c11" d="M87.4 256.6h0"/><path class="c17" d="M79.4 260.5h0"/><path class="c18" d="M84.0 259.6h0"/><path class="c12" d="M89.0 257.0h0"/><path class="c3" d="M97.2 250.8h0"/><path class="c0" d="M106.5 204.7h0"/><path class="c3" d="M99.4 256.1h0"/><path class="c8" d="M91.0 260.0h0"/><path class="c20" d="M75.9 262.4h0"/><path class="c19" d="M73.1 264.1h0"/><path class="c0" d="M98.0 223.8h0"/><path class="c12" d="M80.1 264.3h0"/><path class="c23" d="M77.2 263.8h0"/><path class="c12" d="M87.3 260.5h0"/><path class="c24" d="M76.0 264.2h0"/><path class="c12" d="M79.5 259.4h0"/><path class="c11" d="M70.8 266.0h0"/><path class="c8" d="M90.7 259.9h0"/><path class="c17" d="M85.1 260.0h0"/><path class="c0" d="M106.1 241.4h0"/><path class="c0" d="M137.0 198.0h0"/><path class="c12" d="M88.5 257.1h0"/><path class="c15" d="M86.2 258.8h0"/><path class="c3" d="M86.0 264.1h0"/><path class="c10" d="M90.3 258.9h0"/><path class="c23" d="M74.8 264.6h0"/><path class="c7" d="M92.4 259.2h0"/><path class="c0" d="M138.2 188.0h0"/><path class="c5" d="M93.0 253.6h0"/><path class="c6" d="M79.4 258.0h0"/><path class="c10" d="M86.1 257.1h0"/><path class="c16" d="M79.2 260.3h0"/><path class="c16" d="M85.3 260.1h0"/><path class="c0" d="M75.4 247.6h0"/><path class="c5" d="M83.6 264.2h0"/><path class="c1" d="M93.5 244.7h0"/><path class="c17" d="M83.5 259.3h0"/><path class="c20" d="M76.4 262.2h0"/><path class="c2" d="M95.9 246.2h0"/><path class="c0" d="M110.8 238.4h0"/><path class="c0" d="M153.5 213.7h0"/><path class="c10" d="M80.3 258.6h0"/><path class="c9" d="M70.4 266.1h0"/><path class="c4" d="M93.4 251.8h0"/><path class="c17" d="M76.5 265.1h0"/><path class="c4" d="M94.0 252.4h0"/><path class="c21" d="M80.1 262.0h0"/><path class="c24" d="M75.1 264.2h0"/><path class="c6" d="M88.0 254.4h0"/><path class="c22" d="M76.8 262.5h0"/><path class="c9" d="M90.2 255.3h0"/><path class="c3" d="M81.4 265.5h0"/><path class="c1" d="M107.7 246.6h0"/><path class="c5" d="M97.2 255.9h0"/><path class="c15" d="M80.9 259.3h0"/><path class="c9" d="M88.1 255.6h0"/><path class="c0" d="M118.9 237.2h0"/><path class="c22" d="M76.0 262.7h0"/><path class="c1" d="M104.9 256.0h0"/><path class="c6" d="M95.0 257.0h0"/><path class="c24" d="M75.5 264.0h0"/><path class="c0" d="M126.7 237.9h0"/><path class="c1" d="M81.9 252.7h0"/><path class="c16" d="M85.2 259.1h0"/><path class="c2" d="M80.3 256.1h0"/><path class="c9" d="M84.8 262.6h0"/><path class="c2" d="M103.2 251.4h0"/><path class="c0" d="M93.8 234.1h0"/><path class="c17" d="M83.4 259.4h0"/><path class="c15" d="M79.4 260.1h0"/><path class="c0" d="M116.7 255.2h0"/><path class="c0" d="M125.5 203.8h0"/><path class="c1" d="M101.3 243.8h0"/><path class="c22" d="M74.3 264.0h0"/><path class="c4" d="M96.7 257.6h0"/><path class="c22" d="M74.2 264.1h0"/><path class="c20" d="M75.0 265.2h0"/><path class="c4" d="M94.2 259.4h0"/><path class="c23" d="M77.2 262.5h0"/><path class="c17" d="M81.5 262.3h0"/><path class="c19" d="M76.4 264.9h0"/><path class="c18" d="M84.3 259.9h0"/><path class="c6" d="M79.3 258.1h0"/><path class="c11" d="M89.0 256.6h0"/><path class="c23" d="M75.1 264.7h0"/><path class="c4" d="M96.9 253.8h0"/><path class="c12" d="M82.4 263.1h0"/><path class="c7" d="M93.5 257.9h0"/><path class="c1" d="M103.9 249.1h0"/><path class="c4" d="M98.9 256.3h0"/><path class="c15" d="M83.0 262.1h0"/><path class="c13" d="M88.4 259.8h0"/><path class="c0" d="M103.7 217.2h0"/><path class="c19" d="M83.0 261.1h0"/><path class="c0" d="M121.5 234.1h0"/><path class="c24" d="M75.2 264.3h0"/><path class="c5" d="M79.6 257.9h0"/><path class="c0" d="M91.5 213.1h0"/><path class="c1" d="M106.1 254.0h0"/><path class="c15" d="M78.8 264.4h0"/><path class="c22" d="M78.4 262.8h0"/><path class="c19" d="M77.7 264.3h0"/><path class="c19" d="M83.5 259.9h0"/><path class="c0" d="M107.7 249.3h0"/><path class="c0" d="M123.1 247.2h0"/><path class="c8" d="M92.6 257.5h0"/><path class="c0" d="M125.5 159.2h0"/><path class="c24" d="M75.6 263.9h0"/><path class="c10" d="M88.8 260.6h0"/><path class="c18" d="M75.3 265.5h0"/><path class="c23" d="M74.4 264.5h0"/><path class="c0" d="M131.2 247.5h0"/><path class="c20" d="M77.2 264.5h0"/><path class="c14" d="M82.1 258.7h0"/><path class="c20" d="M77.7 261.8h0"/><path class="c14" d="M87.3 258.4h0"/><path class="c20" d="M82.0 261.2h0"/><path class="c3" d="M97.1 250.6h0"/><path class="c21" d="M75.6 262.8h0"/><path class="c2" d="M100.3 249.0h0"/><path class="c0" d="M107.2 249.1h0"/><path class="c24" d="M75.9 263.7h0"/><path class="c13" d="M84.1 262.1h0"/><path class="c0" d="M116.6 248.7h0"/><path class="c3" d="M88.6 252.7h0"/><path class="c1" d="M91.9 245.3h0"/><path class="c23" d="M77.8 262.7h0"/><path class="c12" d="M80.4 259.0h0"/><path class="c16" d="M85.5 259.4h0"/><path class="c23" d="M76.4 264.1h0"/><path class="c20" d="M82.4 260.6h0"/><path class="c8" d="M92.3 256.4h0"/><path class="c19" d="M72.9 265.1h0"/><path class="c20" d="M73.5 265.1h0"/><path class="c2" d="M99.6 250.0h0"/><path class="c16" d="M72.0 264.7h0"/><path class="c18" d="M80.9 262.4h0"/><path class="c17" d="M84.5 260.3h0"/><path class="c19" d="M82.8 260.6h0"/><path class="c4" d="M86.1 263.6h0"/><path class="c4" d="M96.3 252.0h0"/><path class="c10" d="M81.3 258.2h0"/><path class="c0" d="M102.6 260.7h0"/><path class="c3" d="M99.5 251.6h0"/><path class="c20" d="M79.6 262.7h0"/><path class="c24" d="M74.8 264.2h0"/><path class="c9" d="M88.3 255.5h0"/><path class="c0" d="M224.2 112.5h0"/><path class="c4" d="M95.3 253.7h0"/><path class="c0" d="M115.9 244.4h0"/><path class="c24" d="M76.2 263.5h0"/><path class="c0" d="M126.7 246.9h0"/><path class="c2" d="M95.6 247.5h0"/><path class="c17" d="M82.5 261.8h0"/><path class="c24" d="M76.4 263.3h0"/><path class="c3" d="M100.4 254.8h0"/><path class="c10" d="M90.9 257.5h0"/><path class="c12" d="M88.9 257.0h0"/><path class="c0" d="M84.5 247.7h0"/><path class="c6" d="M93.2 259.0h0"/><path class="c20" d="M79.6 261.1h0"/><path class="c9" d="M92.2 257.4h0"/><path class="c0" d="M123.4 233.1h0"/><path class="c6" d="M93.4 258.3h0"/><path class="c14" d="M86.0 260.8h0"/><path class="c0" d="M100.9 224.7h0"/><path class="c23" d="M74.9 263.7h0"/><path class="c1" d="M85.3 250.6h0"/><path class="c10" d="M70.5 266.1h0"/><path class="c22" d="M78.2 263.2h0"/><path class="c4" d="M96.1 252.3h0"/><path class="c0" d="M109.5 235.7h0"/><path class="c21" d="M79.9 261.6h0"/><path class="c11" d="M81.8 263.6h0"/><path class="c3" d="M92.3 250.4h0"/><path class="c0" d="M100.0 261.2h0"/><path class="c20" d="M80.5 260.7h0"/><path class="c17" d="M84.0 259.4h0"/><path class="c4" d="M99.9 253.6h0"/><path class="c5" d="M95.2 257.6h0"/><path class="c1" d="M99.4 243.2h0"/><path class="c18" d="M73.5 265.6h0"/><path class="c9" d="M84.3 257.2h0"/><path class="c5" d="M76.0 259.5h0"/><path class="c9" d="M70.3 266.1h0"/><path class="c20" d="M73.3 264.9h0"/><path class="c0" d="M109.3 255.1h0"/><path class="c24" d="M77.1 263.0h0"/><path class="c5" d="M96.2 254.7h0"/><path class="c0" d="M105.6 227.5h0"/><path class="c18" d="M81.0 262.6h0"/><path class="c4" d="M97.7 255.8h0"/><path class="c6" d="M94.5 256.7h0"/><path class="c2" d="M90.4 249.9h0"/><path class="c10" d="M86.8 261.6h0"/><path class="c16" d="M85.9 259.2h0"/><path class="c0" d="M111.4 251.8h0"/><path class="c1" d="M82.6 252.1h0"/><path class="c2" d="M96.6 246.5h0"/><path class="c0" d="M294.0 110.0h0"/><path class="c17" d="M72.1 265.2h0"/><path class="c18" d="M83.4 259.6h0"/><path class="c14" d="M87.6 259.0h0"/><path class="c0" d="M107.3 243.6h0"/><path class="c21" d="M73.6 265.1h0"/><path class="c0" d="M111.2 255.1h0"/><path class="c20" d="M82.6 260.4h0"/><path class="c19" d="M80.2 260.5h0"/><path class="c20" d="M73.0 264.5h0"/><path class="c14" d="M85.6 260.8h0"/><path class="c4" d="M81.5 256.7h0"/><path class="c17" d="M83.9 261.0h0"/><path class="c0" d="M81.9 249.0h0"/><path class="c13" d="M71.1 265.8h0"/><path class="c16" d="M78.3 260.8h0"/><path class="c0" d="M124.3 246.0h0"/><path class="c6" d="M93.8 258.2h0"/><path class="c0" d="M104.8 258.5h0"/><path class="c13" d="M87.9 259.9h0"/><path class="c0" d="M112.1 237.8h0"/><path class="c3" d="M87.8 263.2h0"/><path class="c5" d="M97.0 254.9h0"/><path class="c16" d="M85.4 259.5h0"/><path class="c19" d="M78.0 264.1h0"/><path class="c18" d="M83.9 260.7h0"/><path class="c23" d="M76.0 264.3h0"/><path class="c16" d="M78.4 260.7h0"/><path class="c11" d="M88.7 256.2h0"/><path class="c1" d="M103.5 248.6h0"/><path class="c24" d="M76.1 263.9h0"/><path class="c1" d="M96.7 244.9h0"/><path class="c0" d="M108.1 257.8h0"/><path class="c21" d="M76.5 264.6h0"/><path class="c0" d="M100.5 236.0h0"/><path class="c5" d="M96.1 254.9h0"/><path class="c15" d="M83.4 258.8h0"/><path class="c2" d="M100.7 249.0h0"/><path class="c13" d="M88.6 259.2h0"/><path class="c0" d="M94.3 218.6h0"/><path class="c3" d="M98.4 251.3h0"/><path class="c18" d="M83.3 259.7h0"/><path class="c11" d="M90.4 257.3h0"/><path class="c13" d="M71.3 266.1h0"/><path class="c16" d="M85.2 260.4h0"/><path class="c5" d="M95.5 255.3h0"/><path class="c5" d="M96.2 256.3h0"/><path class="c3" d="M84.2 255.0h0"/><path class="c6" d="M78.1 258.6h0"/><path class="c13" d="M86.9 260.4h0"/><path class="c13" d="M87.4 260.4h0"/><path class="c12" d="M86.1 261.3h0"/><path class="c19" d="M73.6 263.7h0"/><path class="c2" d="M95.1 248.9h0"/><path class="c23" d="M74.4 264.6h0"/><path class="c20" d="M78.5 261.5h0"/><path class="c0" d="M140.3 228.6h0"/><path class="c23" d="M77.6 262.5h0"/><path class="c18" d="M81.7 259.7h0"/><path class="c20" d="M82.0 261.1h0"/><path class="c13" d="M87.4 260.1h0"/><path class="c1" d="M102.9 248.6h0"/><path class="c14" d="M73.2 263.1h0"/><path class="c15" d="M79.2 260.2h0"/><path class="c7" d="M93.7 257.3h0"/><path class="c20" d="M76.2 264.9h0"/><path class="c20" d="M80.0 262.1h0"/><path class="c9" d="M86.0 262.2h0"/><path class="c14" d="M80.3 259.4h0"/><path class="c0" d="M138.8 200.5h0"/><path class="c3" d="M97.7 251.6h0"/><path class="c15" d="M87.2 259.1h0"/><path class="c1" d="M99.7 241.9h0"/><path class="c9" d="M70.1 266.0h0"/><path class="c20" d="M81.0 260.9h0"/><path class="c19" d="M72.7 264.8h0"/><path class="c10" d="M90.5 256.2h0"/><path class="c23" d="M76.4 264.2h0"/><path class="c11" d="M80.3 258.8h0"/><path class="c6" d="M92.2 254.4h0"/><path class="c24" d="M77.0 263.6h0"/><path class="c0" d="M86.9 240.9h0"/><path class="c14" d="M71.5 265.8h0"/><path class="c3" d="M90.0 251.7h0"/><path class="c19" d="M82.7 261.0h0"/><path class="c20" d="M79.9 262.3h0"/><path class="c23" d="M77.3 262.4h0"/><path class="c20" d="M81.1 261.2h0"/><path class="c20" d="M80.9 262.0h0"/><path class="c13" d="M88.9 258.0h0"/><path class="c3" d="M102.3 252.0h0"/><path class="c9" d="M89.1 255.5h0"/><path class="c2" d="M101.7 256.0h0"/><path class="c13" d="M89.0 258.6h0"/><path class="c16" d="M75.0 262.3h0"/><path class="c12" d="M89.9 257.6h0"/><path class="c21" d="M79.2 262.0h0"/><path class="c6" d="M93.3 254.2h0"/><path class="c15" d="M71.5 265.3h0"/><path class="c5" d="M90.8 253.2h0"/><path class="c23" d="M74.7 264.2h0"/><path class="c15" d="M76.9 261.1h0"/><path class="c19" d="M79.9 260.7h0"/><path class="c19" d="M73.1 265.4h0"/><path class="c21" d="M80.0 261.8h0"/><path class="c11" d="M87.7 256.7h0"/><path class="c20" d="M79.7 261.2h0"/><path class="c13" d="M76.8 260.8h0"/><path class="c21" d="M75.4 265.0h0"/><path class="c0" d="M125.6 240.7h0"/><path class="c23" d="M77.0 263.8h0"/><path class="c3" d="M86.7 252.9h0"/><path class="c15" d="M87.3 259.3h0"/><path class="c14" d="M86.9 260.0h0"/><path class="c14" d="M86.4 258.2h0"/><path class="c20" d="M77.1 264.4h0"/><path class="c7" d="M88.3 254.8h0"/><path class="c18" d="M82.7 261.5h0"/><path class="c17" d="M79.9 260.3h0"/><path class="c18" d="M75.5 265.3h0"/><path class="c4" d="M98.3 253.7h0"/><path class="c2" d="M94.5 247.2h0"/><path class="c10" d="M91.1 256.6h0"/><path class="c4" d="M71.7 262.2h0"/><path class="c0" d="M111.0 236.9h0"/><path class="c4" d="M89.5 253.1h0"/><path class="c1" d="M104.3 246.5h0"/><path class="c0" d="M112.0 242.0h0"/><path class="c11" d="M70.7 266.0h0"/><path class="c20" d="M78.6 263.5h0"/><path class="c2" d="M83.4 254.5h0"/><path class="c21" d="M75.2 263.0h0"/><path class="c1" d="M96.4 244.4h0"/><path class="c18" d="M80.5 262.7h0"/><path class="c19" d="M81.3 261.8h0"/><path class="c8" d="M78.5 259.1h0"/><path class="c17" d="M82.5 259.4h0"/><path class="c20" d="M82.6 260.4h0"/><path class="c14" d="M81.4 259.1h0"/><path class="c0" d="M118.0 237.8h0"/><path class="c15" d="M80.4 259.6h0"/><path class="c1" d="M92.6 263.2h0"/><path class="c24" d="M75.5 264.4h0"/><path class="c6" d="M85.9 255.4h0"/><path class="c15" d="M72.0 266.1h0"/><path class="c2" d="M104.0 253.2h0"/><path class="c18" d="M81.4 262.3h0"/><path class="c0" d="M92.0 264.3h0"/><path class="c2" d="M99.5 250.1h0"/><path class="c1" d="M104.1 248.8h0"/><path class="c2" d="M87.9 252.0h0"/><path class="c22" d="M78.7 262.5h0"/><path class="c0" d="M93.0 240.9h0"/><path class="c3" d="M89.4 262.6h0"/><path class="c20" d="M73.5 265.2h0"/><path class="c17" d="M80.4 263.1h0"/><path class="c20" d="M77.9 261.7h0"/><path class="c24" d="M76.3 263.8h0"/><path class="c24" d="M77.3 262.8h0"/><path class="c0" d="M102.9 243.6h0"/><path class="c3" d="M102.5 253.0h0"/><path class="c10" d="M77.7 259.8h0"/><path class="c17" d="M72.2 265.1h0"/><path class="c2" d="M102.9 252.8h0"/><path class="c0" d="M105.6 230.3h0"/><path class="c2" d="M86.0 252.8h0"/><path class="c17" d="M78.3 260.9h0"/><path class="c2" d="M90.6 250.9h0"/><path class="c7" d="M93.0 255.0h0"/><path class="c14" d="M87.9 259.0h0"/><path class="c0" d="M98.8 241.6h0"/><path class="c23" d="M76.2 263.0h0"/><path class="c20" d="M73.3 264.8h0"/><path class="c1" d="M82.1 253.6h0"/><path class="c16" d="M77.2 261.1h0"/><path class="c18" d="M80.9 260.1h0"/><path class="c0" d="M138.0 168.7h0"/><path class="c23" d="M77.9 262.8h0"/><path class="c17" d="M83.8 259.2h0"/><path class="c3" d="M100.7 255.3h0"/><path class="c15" d="M79.7 263.8h0"/><path class="c21" d="M80.6 261.5h0"/><path class="c5" d="M95.8 257.2h0"/><path class="c17" d="M79.1 260.6h0"/><path class="c6" d="M87.8 262.1h0"/><path class="c19" d="M80.9 260.5h0"/><path class="c0" d="M106.8 242.7h0"/><path class="c15" d="M81.0 259.4h0"/><path class="c18" d="M81.5 262.1h0"/><path class="c16" d="M84.9 259.3h0"/><path class="c4" d="M90.0 253.0h0"/><path class="c4" d="M91.3 252.0h0"/><path class="c24" d="M75.2 263.6h0"/><path class="c19" d="M77.0 264.6h0"/><path class="c22" d="M74.5 264.8h0"/><path class="c2" d="M98.2 248.8h0"/><path class="c0" d="M113.2 241.5h0"/><path class="c19" d="M79.0 261.0h0"/><path class="c12" d="M70.9 265.9h0"/><path class="c21" d="M78.2 263.5h0"/><path class="c0" d="M108.4 228.4h0"/><path class="c21" d="M77.8 263.8h0"/><path class="c1" d="M106.9 247.5h0"/><path class="c20" d="M80.0 260.8h0"/><path class="c2" d="M100.6 249.5h0"/><path class="c20" d="M81.6 261.3h0"/><path class="c14" d="M86.4 258.2h0"/><path class="c21" d="M73.8 264.9h0"/><path class="c21" d="M76.5 262.3h0"/><path class="c1" d="M105.7 248.3h0"/></g></g></g>
<g clip-path="url(#cb)"><g filter="url(#bl)"><g fill="none" stroke-width="2.5" stroke-linecap="round"><path class="c24" d="M544.8 129.7h0"/><path class="c3" d="M572.9 102.1h0"/><path class="c2" d="M574.1 94.0h0"/><path class="c5" d="M548.2 143.6h0"/><path class="c12" d="M554.1 110.6h0"/><path class="c9" d="M525.1 154.3h0"/><path class="c13" d="M553.9 131.7h0"/><path class="c24" d="M550.8 125.9h0"/><path class="c0" d="M546.2 85.7h0"/><path class="c16" d="M535.4 140.2h0"/><path class="c24" d="M545.8 131.7h0"/><path class="c11" d="M542.1 141.5h0"/><path class="c5" d="M569.3 111.2h0"/><path class="c6" d="M517.9 158.4h0"/><path class="c0" d="M456.6 194.4h0"/><path class="c2" d="M510.4 154.3h0"/><path class="c10" d="M533.2 131.8h0"/><path class="c21" d="M551.0 120.3h0"/><path class="c15" d="M555.6 113.1h0"/><path class="c0" d="M490.8 239.6h0"/><path class="c0" d="M541.2 176.2h0"/><path class="c3" d="M544.5 111.6h0"/><path class="c15" d="M533.0 140.7h0"/><path class="c23" d="M551.6 121.7h0"/><path class="c14" d="M533.8 134.3h0"/><path class="c10" d="M545.9 140.7h0"/><path class="c22" d="M547.5 124.4h0"/><path class="c19" d="M557.5 118.1h0"/><path class="c17" d="M548.8 135.0h0"/><path class="c5" d="M551.0 107.0h0"/><path class="c20" d="M555.2 124.4h0"/><path class="c12" d="M538.0 127.9h0"/><path class="c4" d="M532.4 156.7h0"/><path class="c8" d="M541.9 121.1h0"/><path class="c3" d="M548.6 145.6h0"/><path class="c11" d="M533.0 146.5h0"/><path class="c10" d="M559.3 105.7h0"/><path class="c1" d="M564.5 87.7h0"/><path class="c10" d="M549.1 114.4h0"/><path class="c2" d="M504.7 165.4h0"/><path class="c17" d="M559.0 120.3h0"/><path class="c19" d="M541.8 137.7h0"/><path class="c1" d="M521.7 173.8h0"/><path class="c23" d="M550.0 122.8h0"/><path class="c15" d="M541.8 126.8h0"/><path class="c15" d="M534.7 141.1h0"/><path class="c10" d="M532.4 147.8h0"/><path class="c4" d="M554.5 138.2h0"/><path class="c10" d="M527.4 151.4h0"/><path class="c0" d="M488.6 206.9h0"/><path class="c19" d="M539.2 130.7h0"/><path class="c9" d="M525.1 144.5h0"/><path class="c16" d="M546.2 136.9h0"/><path class="c9" d="M564.5 118.9h0"/><path class="c1" d="M499.8 173.6h0"/><path class="c0" d="M499.2 155.5h0"/><path class="c16" d="M555.4 113.8h0"/><path class="c23" d="M550.9 122.8h0"/><path class="c2" d="M509.1 177.8h0"/><path class="c9" d="M540.4 124.1h0"/><path class="c12" d="M563.5 115.4h0"/><path class="c7" d="M550.2 110.4h0"/><path class="c3" d="M509.6 171.7h0"/><path class="c23" d="M549.1 129.4h0"/><path class="c7" d="M564.4 121.1h0"/><path class="c1" d="M504.6 158.4h0"/><path class="c19" d="M540.1 138.1h0"/><path class="c6" d="M525.7 138.5h0"/><path class="c19" d="M556.7 120.4h0"/><path class="c1" d="M523.9 172.3h0"/><path class="c15" d="M556.9 126.3h0"/><path class="c3" d="M510.6 158.6h0"/><path class="c14" d="M549.7 117.3h0"/><path class="c21" d="M549.6 121.3h0"/><path class="c24" d="M547.9 126.5h0"/><path class="c22" d="M551.0 128.7h0"/><path class="c12" d="M537.6 143.2h0"/><path class="c7" d="M566.9 107.5h0"/><path class="c8" d="M529.4 153.4h0"/><path class="c0" d="M572.0 73.4h0"/><path class="c12" d="M563.1 117.7h0"/><path class="c3" d="M538.7 117.8h0"/><path class="c6" d="M567.5 114.1h0"/><path class="c1" d="M515.4 137.9h0"/><path class="c2" d="M574.5 90.1h0"/><path class="c18" d="M557.9 121.4h0"/><path class="c19" d="M555.1 118.0h0"/><path class="c10" d="M551.9 111.4h0"/><path class="c3" d="M542.0 113.1h0"/><path class="c3" d="M524.2 165.4h0"/><path class="c0" d="M585.8 89.1h0"/><path class="c6" d="M568.7 108.2h0"/><path class="c1" d="M498.4 175.1h0"/><path class="c7" d="M526.2 138.1h0"/><path class="c13" d="M531.1 143.4h0"/><path class="c16" d="M534.6 134.3h0"/><path class="c14" d="M540.1 141.1h0"/><path class="c23" d="M550.2 127.9h0"/><path class="c4" d="M523.5 163.8h0"/><path class="c11" d="M528.4 142.3h0"/><path class="c11" d="M526.4 147.2h0"/><path class="c2" d="M518.9 173.9h0"/><path class="c11" d="M526.5 145.0h0"/><path class="c7" d="M567.0 111.2h0"/><path class="c11" d="M526.3 145.4h0"/><path class="c0" d="M527.5 114.5h0"/><path class="c8" d="M558.7 104.6h0"/><path class="c1" d="M577.6 94.0h0"/><path class="c3" d="M534.2 156.2h0"/><path class="c0" d="M540.5 164.4h0"/><path class="c10" d="M529.2 149.7h0"/><path class="c15" d="M561.2 115.4h0"/><path class="c22" d="M546.5 133.7h0"/><path class="c12" d="M536.0 144.5h0"/><path class="c22" d="M554.2 121.7h0"/><path class="c6" d="M544.8 144.0h0"/><path class="c2" d="M518.2 175.4h0"/><path class="c20" d="M555.8 120.2h0"/><path class="c20" d="M555.2 123.9h0"/><path class="c1" d="M498.8 173.8h0"/><path class="c15" d="M549.1 135.6h0"/><path class="c10" d="M530.8 149.7h0"/><path class="c0" d="M507.3 139.0h0"/><path class="c7" d="M523.7 158.1h0"/><path class="c23" d="M542.5 135.3h0"/><path class="c0" d="M498.0 191.9h0"/><path class="c1" d="M562.2 92.9h0"/><path class="c15" d="M558.4 124.4h0"/><path class="c6" d="M516.8 158.8h0"/><path class="c6" d="M559.4 130.0h0"/><path class="c8" d="M541.8 144.1h0"/><path class="c8" d="M565.3 105.1h0"/><path class="c19" d="M555.6 118.4h0"/><path class="c11" d="M562.6 120.1h0"/><path class="c13" d="M532.7 144.3h0"/><path class="c22" d="M547.6 124.6h0"/><path class="c19" d="M539.4 130.7h0"/><path class="c13" d="M551.8 134.2h0"/><path class="c22" d="M550.7 121.7h0"/><path class="c16" d="M551.5 132.6h0"/><path class="c6" d="M518.4 154.3h0"/><path class="c24" d="M543.9 133.1h0"/><path class="c11" d="M542.6 122.7h0"/><path class="c15" d="M546.7 120.5h0"/><path class="c3" d="M547.5 107.3h0"/><path class="c10" d="M532.6 147.5h0"/><path class="c20" d="M539.7 137.3h0"/><path class="c22" d="M539.4 133.1h0"/><path class="c20" d="M547.5 123.0h0"/><path class="c8" d="M545.2 142.6h0"/><path class="c24" d="M549.5 128.0h0"/><path class="c18" d="M536.0 134.1h0"/><path class="c10" d="M525.8 145.3h0"/><path class="c4" d="M512.3 157.6h0"/><path class="c14" d="M532.8 142.1h0"/><path class="c6" d="M521.0 161.5h0"/><path class="c0" d="M567.0 139.3h0"/><path class="c11" d="M539.6 126.2h0"/><path class="c0" d="M523.2 180.8h0"/><path class="c3" d="M508.5 169.1h0"/><path class="c24" d="M549.2 123.9h0"/><path class="c18" d="M551.0 118.5h0"/><path class="c15" d="M560.8 115.7h0"/><path class="c16" d="M534.0 137.1h0"/><path class="c24" d="M542.6 133.7h0"/><path class="c0" d="M508.6 189.4h0"/><path class="c0" d="M465.6 228.1h0"/><path class="c14" d="M560.3 111.2h0"/><path class="c19" d="M543.4 136.8h0"/><path class="c20" d="M548.3 121.8h0"/><path class="c0" d="M491.8 205.0h0"/><path class="c24" d="M549.7 126.8h0"/><path class="c10" d="M545.9 140.2h0"/><path class="c16" d="M547.4 120.3h0"/><path class="c23" d="M545.6 128.1h0"/><path class="c6" d="M538.8 148.3h0"/><path class="c3" d="M507.3 164.7h0"/><path class="c0" d="M479.4 196.0h0"/><path class="c17" d="M549.6 134.4h0"/><path class="c8" d="M566.0 106.7h0"/><path class="c17" d="M552.4 117.5h0"/><path class="c3" d="M541.9 149.5h0"/><path class="c1" d="M508.7 152.7h0"/><path class="c21" d="M539.2 136.7h0"/><path class="c15" d="M536.9 130.8h0"/><path class="c2" d="M507.9 174.1h0"/><path class="c20" d="M553.8 126.4h0"/><path class="c6" d="M516.4 159.2h0"/><path class="c14" d="M553.9 113.4h0"/><path class="c8" d="M520.4 152.9h0"/><path class="c7" d="M520.4 156.7h0"/><path class="c6" d="M550.4 108.2h0"/><path class="c0" d="M488.0 218.8h0"/><path class="c24" d="M544.9 129.5h0"/><path class="c14" d="M560.7 121.3h0"/><path class="c23" d="M540.6 132.8h0"/><path class="c7" d="M519.3 151.6h0"/><path class="c0" d="M495.5 186.9h0"/><path class="c9" d="M557.1 105.9h0"/><path class="c15" d="M534.0 141.5h0"/><path class="c6" d="M568.3 103.6h0"/><path class="c6" d="M567.0 115.2h0"/><path class="c1" d="M563.5 92.1h0"/><path class="c24" d="M548.5 125.4h0"/><path class="c20" d="M554.7 125.7h0"/><path class="c7" d="M546.3 142.0h0"/><path class="c5" d="M534.6 126.4h0"/><path class="c20" d="M548.0 122.1h0"/><path class="c11" d="M536.8 128.3h0"/><path class="c6" d="M527.7 135.0h0"/><path class="c6" d="M560.9 101.6h0"/><path class="c8" d="M523.2 155.5h0"/><path class="c9" d="M524.9 145.3h0"/><path class="c0" d="M580.0 77.5h0"/><path class="c7" d="M555.2 134.8h0"/><path class="c10" d="M530.8 134.4h0"/><path class="c4" d="M569.4 114.8h0"/><path class="c0" d="M461.0 206.4h0"/><path class="c23" d="M545.6 128.6h0"/><path class="c18" d="M547.4 121.4h0"/><path class="c24" d="M548.4 129.3h0"/><path class="c6" d="M550.7 139.6h0"/><path class="c13" d="M538.3 142.2h0"/><path class="c2" d="M503.8 177.1h0"/><path class="c17" d="M556.9 115.5h0"/><path class="c2" d="M533.8 123.5h0"/><path class="c16" d="M554.7 114.8h0"/><path class="c24" d="M547.8 131.1h0"/><path class="c22" d="M538.9 135.8h0"/><path class="c2" d="M532.4 124.7h0"/><path class="c14" d="M555.1 112.4h0"/><path class="c13" d="M552.3 114.4h0"/><path class="c5" d="M564.2 99.7h0"/><path class="c11" d="M527.0 148.5h0"/><path class="c2" d="M536.2 158.3h0"/><path class="c13" d="M544.9 121.5h0"/><path class="c22" d="M548.6 123.0h0"/><path class="c3" d="M535.7 155.9h0"/><path class="c12" d="M539.7 142.8h0"/><path class="c8" d="M522.8 145.8h0"/><path class="c9" d="M529.1 152.3h0"/><path class="c14" d="M554.8 129.7h0"/><path class="c8" d="M538.2 125.8h0"/><path class="c7" d="M533.3 151.5h0"/><path class="c13" d="M534.0 144.3h0"/><path class="c9" d="M521.7 153.6h0"/><path class="c7" d="M563.8 122.7h0"/><path class="c3" d="M543.7 148.0h0"/><path class="c23" d="M541.0 135.6h0"/><path class="c22" d="M547.3 125.1h0"/><path class="c1" d="M554.5 97.3h0"/><path class="c10" d="M556.2 107.6h0"/><path class="c19" d="M537.7 132.3h0"/><path class="c6" d="M537.2 124.4h0"/><path class="c24" d="M548.3 129.1h0"/><path class="c21" d="M544.2 128.4h0"/><path class="c2" d="M539.4 115.6h0"/><path class="c8" d="M554.2 106.2h0"/><path class="c22" d="M551.8 121.5h0"/><path class="c15" d="M561.2 116.0h0"/><path class="c22" d="M548.6 123.1h0"/><path class="c15" d="M553.9 130.4h0"/><path class="c3" d="M517.9 168.4h0"/><path class="c11" d="M558.9 107.4h0"/><path class="c14" d="M532.6 138.2h0"/><path class="c24" d="M551.9 123.6h0"/><path class="c12" d="M559.9 124.3h0"/><path class="c5" d="M516.8 164.0h0"/><path class="c0" d="M501.8 188.8h0"/><path class="c14" d="M550.1 135.4h0"/><path class="c2" d="M511.8 175.2h0"/><path class="c5" d="M551.7 139.6h0"/><path class="c3" d="M571.9 99.6h0"/><path class="c12" d="M562.5 118.7h0"/><path class="c0" d="M483.0 221.0h0"/><path class="c18" d="M555.9 124.8h0"/><path class="c15" d="M559.7 121.9h0"/><path class="c12" d="M551.4 114.2h0"/><path class="c24" d="M542.9 132.3h0"/><path class="c9" d="M561.1 105.3h0"/><path class="c3" d="M510.0 164.0h0"/><path class="c24" d="M547.8 127.9h0"/><path class="c14" d="M560.3 111.3h0"/><path class="c8" d="M545.8 141.9h0"/><path class="c2" d="M504.0 167.1h0"/><path class="c22" d="M547.6 123.7h0"/><path class="c6" d="M518.3 155.5h0"/><path class="c21" d="M546.7 124.4h0"/><path class="c14" d="M560.0 111.0h0"/><path class="c8" d="M549.2 112.9h0"/><path class="c7" d="M529.0 154.5h0"/><path class="c12" d="M533.3 132.6h0"/><path class="c22" d="M546.6 126.3h0"/><path class="c24" d="M546.0 129.4h0"/><path class="c14" d="M533.0 142.7h0"/><path class="c0" d="M496.1 203.8h0"/><path class="c0" d="M552.7 159.7h0"/><path class="c13" d="M534.0 143.7h0"/><path class="c5" d="M523.0 141.6h0"/><path class="c1" d="M571.3 120.4h0"/><path class="c4" d="M565.6 98.3h0"/><path class="c0" d="M585.8 75.7h0"/><path class="c0" d="M580.7 93.8h0"/><path class="c3" d="M544.1 111.5h0"/><path class="c6" d="M568.7 103.9h0"/><path class="c0" d="M564.8 82.9h0"/><path class="c14" d="M548.9 136.3h0"/><path class="c13" d="M557.2 109.6h0"/><path class="c4" d="M543.0 114.3h0"/><path class="c22" d="M548.5 123.5h0"/><path class="c17" d="M553.2 129.6h0"/><path class="c24" d="M544.9 131.9h0"/><path class="c4" d="M562.8 128.2h0"/><path class="c24" d="M541.8 132.4h0"/><path class="c0" d="M466.9 213.5h0"/><path class="c4" d="M564.8 98.6h0"/><path class="c5" d="M525.0 136.9h0"/><path class="c17" d="M549.4 134.4h0"/><path class="c5" d="M515.0 164.8h0"/><path class="c17" d="M559.2 119.1h0"/><path class="c5" d="M556.7 135.5h0"/><path class="c22" d="M540.4 136.3h0"/><path class="c9" d="M546.8 116.0h0"/><path class="c8" d="M535.0 148.8h0"/><path class="c3" d="M527.6 131.1h0"/><path class="c7" d="M526.0 156.8h0"/><path class="c10" d="M525.2 150.9h0"/><path class="c9" d="M523.0 152.3h0"/><path class="c11" d="M528.9 142.7h0"/><path class="c5" d="M517.9 150.4h0"/><path class="c7" d="M552.1 138.1h0"/><path class="c13" d="M560.7 122.3h0"/><path class="c19" d="M538.6 138.0h0"/><path class="c13" d="M562.3 114.0h0"/><path class="c20" d="M541.1 137.1h0"/><path class="c10" d="M529.9 136.4h0"/><path class="c4" d="M518.4 146.5h0"/><path class="c11" d="M563.1 111.3h0"/><path class="c9" d="M560.4 104.9h0"/><path class="c0" d="M573.0 132.6h0"/><path class="c4" d="M569.3 114.3h0"/><path class="c24" d="M547.3 130.5h0"/><path class="c14" d="M552.8 132.3h0"/><path class="c0" d="M491.8 213.1h0"/><path class="c12" d="M555.1 110.5h0"/><path class="c3" d="M511.6 170.3h0"/><path class="c0" d="M481.8 210.0h0"/><path class="c2" d="M559.9 134.7h0"/><path class="c2" d="M517.0 173.1h0"/><path class="c8" d="M552.7 108.1h0"/><path class="c10" d="M525.9 151.9h0"/><path class="c11" d="M531.7 134.7h0"/><path class="c1" d="M498.2 165.6h0"/><path class="c20" d="M556.4 121.6h0"/><path class="c21" d="M551.8 128.4h0"/><path class="c4" d="M571.5 100.0h0"/><path class="c13" d="M535.8 143.2h0"/><path class="c15" d="M533.4 140.8h0"/><path class="c18" d="M557.8 122.6h0"/><path class="c0" d="M483.6 190.0h0"/><path class="c6" d="M568.9 104.8h0"/><path class="c20" d="M543.6 136.3h0"/><path class="c5" d="M564.3 99.9h0"/><path class="c7" d="M524.8 141.4h0"/><path class="c24" d="M551.6 124.1h0"/><path class="c12" d="M534.2 145.0h0"/><path class="c4" d="M554.2 102.7h0"/><path class="c17" d="M539.3 139.1h0"/><path class="c4" d="M546.0 110.4h0"/><path class="c1" d="M520.4 174.3h0"/><path class="c16" d="M554.6 115.1h0"/><path class="c22" d="M539.3 135.4h0"/><path class="c13" d="M553.0 113.1h0"/><path class="c10" d="M546.0 140.4h0"/><path class="c19" d="M546.1 135.6h0"/><path class="c8" d="M544.0 142.6h0"/><path class="c11" d="M527.4 145.1h0"/><path class="c19" d="M556.5 118.7h0"/><path class="c24" d="M546.0 132.0h0"/><path class="c11" d="M529.6 147.2h0"/><path class="c16" d="M534.4 135.3h0"/><path class="c6" d="M519.7 147.8h0"/><path class="c3" d="M507.7 162.9h0"/><path class="c11" d="M536.0 144.8h0"/><path class="c0" d="M572.4 125.3h0"/><path class="c2" d="M516.6 173.8h0"/><path class="c13" d="M545.2 139.2h0"/><path class="c24" d="M544.1 131.9h0"/><path class="c4" d="M511.0 166.9h0"/><path class="c8" d="M547.4 140.6h0"/><path class="c23" d="M552.3 122.1h0"/><path class="c18" d="M554.3 117.0h0"/><path class="c24" d="M549.0 125.3h0"/><path class="c21" d="M547.2 134.1h0"/><path class="c12" d="M529.9 144.3h0"/><path class="c5" d="M567.9 114.6h0"/><path class="c14" d="M558.2 110.8h0"/><path class="c5" d="M514.9 164.4h0"/><path class="c10" d="M550.9 112.4h0"/><path class="c0" d="M486.8 204.4h0"/><path class="c20" d="M540.1 130.7h0"/><path class="c2" d="M532.0 160.5h0"/><path class="c4" d="M544.0 113.4h0"/><path class="c15" d="M536.7 141.6h0"/><path class="c2" d="M504.1 173.0h0"/><path class="c1" d="M565.8 85.5h0"/><path class="c18" d="M554.2 127.5h0"/><path class="c9" d="M527.6 139.1h0"/><path class="c5" d="M534.3 152.7h0"/><path class="c14" d="M559.6 123.1h0"/><path class="c0" d="M470.9 211.6h0"/><path class="c22" d="M552.8 126.1h0"/><path class="c0" d="M541.4 164.8h0"/><path class="c2" d="M517.0 145.2h0"/><path class="c2" d="M573.9 91.2h0"/><path class="c8" d="M559.8 127.3h0"/><path class="c0" d="M498.6 201.9h0"/><path class="c18" d="M540.9 138.4h0"/><path class="c15" d="M558.0 125.0h0"/><path class="c23" d="M539.7 133.3h0"/><path class="c18" d="M535.5 135.6h0"/><path class="c0" d="M526.0 124.1h0"/><path class="c0" d="M579.5 103.4h0"/><path class="c17" d="M550.5 118.3h0"/><path class="c10" d="M553.2 110.5h0"/><path class="c17" d="M559.0 118.1h0"/><path class="c1" d="M539.5 108.9h0"/><path class="c19" d="M537.6 132.9h0"/><path class="c24" d="M546.8 131.0h0"/><path class="c23" d="M548.4 131.6h0"/><path class="c24" d="M550.4 124.5h0"/><path class="c19" d="M557.0 118.3h0"/><path class="c0" d="M490.5 182.5h0"/><path class="c20" d="M546.7 124.2h0"/><path class="c6" d="M518.9 160.2h0"/><path class="c0" d="M498.0 216.9h0"/><path class="c21" d="M549.8 121.2h0"/><path class="c10" d="M564.0 110.7h0"/><path class="c10" d="M563.3 108.2h0"/><path class="c17" d="M552.2 117.3h0"/><path class="c0" d="M579.2 68.7h0"/><path class="c1" d="M579.6 80.6h0"/><path class="c11" d="M526.9 147.8h0"/><path class="c11" d="M528.5 147.2h0"/><path class="c15" d="M535.1 142.0h0"/><path class="c13" d="M557.3 126.7h0"/><path class="c24" d="M541.0 133.0h0"/><path class="c20" d="M543.3 128.3h0"/><path class="c15" d="M554.2 113.6h0"/><path class="c14" d="M532.7 136.1h0"/><path class="c17" d="M547.8 120.3h0"/><path class="c0" d="M548.7 88.8h0"/><path class="c15" d="M545.6 137.9h0"/><path class="c0" d="M491.8 196.9h0"/><path class="c1" d="M575.0 82.5h0"/><path class="c1" d="M572.8 89.2h0"/><path class="c3" d="M529.3 160.4h0"/><path class="c1" d="M537.7 163.8h0"/><path class="c7" d="M521.1 148.4h0"/><path class="c8" d="M566.5 107.8h0"/><path class="c24" d="M544.1 132.0h0"/><path class="c2" d="M563.7 129.2h0"/><path class="c0" d="M475.2 223.1h0"/><path class="c12" d="M533.3 145.5h0"/><path class="c23" d="M551.2 122.1h0"/><path class="c16" d="M559.4 114.3h0"/><path class="c0" d="M463.4 202.8h0"/><path class="c24" d="M541.0 134.1h0"/><path class="c12" d="M561.0 108.5h0"/><path class="c18" d="M558.1 121.3h0"/><path class="c0" d="M489.0 220.2h0"/><path class="c3" d="M521.4 166.0h0"/><path class="c0" d="M575.0 70.5h0"/><path class="c5" d="M516.1 152.7h0"/><path class="c19" d="M556.9 117.9h0"/><path class="c11" d="M557.6 107.4h0"/><path class="c9" d="M533.1 148.2h0"/><path class="c0" d="M500.4 153.6h0"/><path class="c13" d="M537.6 142.8h0"/><path class="c16" d="M555.6 114.0h0"/><path class="c21" d="M538.1 133.7h0"/><path class="c12" d="M532.1 134.7h0"/><path class="c13" d="M532.0 136.7h0"/><path class="c17" d="M551.6 131.9h0"/><path class="c19" d="M542.2 137.6h0"/><path class="c6" d="M555.1 103.9h0"/><path class="c11" d="M561.5 122.8h0"/><path class="c4" d="M511.6 160.2h0"/><path class="c22" d="M538.6 135.3h0"/><path class="c14" d="M550.7 135.1h0"/><path class="c6" d="M551.9 106.9h0"/><path class="c11" d="M556.5 107.8h0"/><path class="c0" d="M496.8 209.4h0"/><path class="c24" d="M547.2 127.8h0"/><path class="c23" d="M540.9 135.5h0"/><path class="c3" d="M544.0 110.9h0"/><path class="c5" d="M556.1 102.8h0"/><path class="c17" d="M554.7 115.7h0"/><path class="c22" d="M540.7 135.7h0"/><path class="c9" d="M565.6 108.3h0"/><path class="c14" d="M534.8 143.3h0"/><path class="c22" d="M551.7 121.0h0"/><path class="c6" d="M533.6 152.7h0"/><path class="c16" d="M544.1 137.9h0"/><path class="c15" d="M533.8 140.4h0"/><path class="c12" d="M530.2 140.5h0"/><path class="c3" d="M508.4 167.2h0"/><path class="c24" d="M546.1 129.7h0"/><path class="c14" d="M537.2 142.5h0"/><path class="c1" d="M562.9 87.9h0"/><path class="c4" d="M522.2 164.6h0"/><path class="c7" d="M549.2 111.5h0"/><path class="c13" d="M562.0 113.8h0"/><path class="c15" d="M533.6 136.5h0"/><path class="c23" d="M547.2 126.0h0"/><path class="c22" d="M546.4 133.8h0"/><path class="c22" d="M552.5 120.7h0"/><path class="c10" d="M538.6 126.9h0"/><path class="c14" d="M552.1 115.2h0"/><path class="c0" d="M468.1 216.2h0"/><path class="c3" d="M544.6 147.7h0"/><path class="c7" d="M566.2 103.6h0"/><path class="c0" d="M470.2 198.8h0"/><path class="c19" d="M536.1 137.3h0"/><path class="c8" d="M548.7 113.3h0"/><path class="c11" d="M564.0 115.8h0"/><path class="c19" d="M537.4 138.2h0"/><path class="c12" d="M532.6 134.6h0"/><path class="c7" d="M522.7 145.5h0"/><path class="c4" d="M545.2 110.9h0"/><path class="c11" d="M563.7 115.3h0"/><path class="c20" d="M556.3 122.0h0"/><path class="c6" d="M516.2 158.2h0"/><path class="c16" d="M535.3 140.0h0"/><path class="c2" d="M531.7 160.8h0"/><path class="c23" d="M551.0 128.0h0"/><path class="c0" d="M598.1 71.4h0"/><path class="c3" d="M523.4 166.2h0"/><path class="c7" d="M520.4 156.2h0"/><path class="c14" d="M560.3 112.6h0"/><path class="c24" d="M546.8 129.5h0"/><path class="c7" d="M565.5 117.9h0"/><path class="c0" d="M548.7 84.6h0"/><path class="c1" d="M504.3 179.6h0"/><path class="c9" d="M523.6 154.8h0"/><path class="c17" d="M547.5 135.8h0"/><path class="c14" d="M559.4 123.3h0"/><path class="c16" d="M559.9 115.5h0"/><path class="c11" d="M563.2 110.1h0"/><path class="c1" d="M576.0 90.0h0"/><path class="c7" d="M519.9 159.1h0"/><path class="c16" d="M533.9 139.7h0"/><path class="c11" d="M551.0 113.8h0"/><path class="c23" d="M551.9 122.4h0"/><path class="c4" d="M514.7 167.2h0"/><path class="c1" d="M580.1 96.8h0"/><path class="c2" d="M525.4 130.5h0"/><path class="c8" d="M566.4 107.5h0"/><path class="c7" d="M536.1 149.3h0"/><path class="c11" d="M557.0 108.1h0"/><path class="c14" d="M561.2 120.5h0"/><path class="c0" d="M470.6 182.5h0"/><path class="c15" d="M559.7 112.7h0"/><path class="c18" d="M558.7 118.3h0"/><path class="c16" d="M553.4 116.0h0"/><path class="c21" d="M553.3 126.3h0"/><path class="c9" d="M522.9 154.9h0"/><path class="c13" d="M538.6 128.5h0"/><path class="c7" d="M524.3 157.7h0"/><path class="c15" d="M547.3 119.5h0"/><path class="c6" d="M532.3 129.0h0"/><path class="c4" d="M541.7 116.5h0"/><path class="c10" d="M546.2 140.5h0"/><path class="c5" d="M538.9 149.0h0"/><path class="c14" d="M532.4 139.1h0"/><path class="c18" d="M558.2 118.5h0"/><path class="c2" d="M574.2 108.9h0"/><path class="c6" d="M527.1 135.2h0"/><path class="c5" d="M517.6 151.2h0"/><path class="c11" d="M527.9 149.0h0"/><path class="c0" d="M609.0 62.1h0"/><path class="c21" d="M553.8 125.9h0"/><path class="c0" d="M478.5 205.9h0"/><path class="c7" d="M547.3 141.8h0"/><path class="c4" d="M514.0 155.2h0"/><path class="c6" d="M518.5 154.2h0"/><path class="c7" d="M528.6 135.0h0"/><path class="c0" d="M542.3 100.0h0"/><path class="c3" d="M567.8 120.9h0"/><path class="c13" d="M561.8 112.8h0"/><path class="c0" d="M504.2 185.0h0"/><path class="c1" d="M504.9 181.9h0"/><path class="c15" d="M561.0 116.6h0"/><path class="c15" d="M554.5 113.9h0"/><path class="c0" d="M487.5 178.1h0"/><path class="c9" d="M532.1 149.4h0"/><path class="c2" d="M500.2 173.7h0"/><path class="c14" d="M561.9 115.4h0"/><path class="c0" d="M519.6 109.4h0"/><path class="c14" d="M549.2 136.0h0"/><path class="c14" d="M561.9 116.2h0"/><path class="c11" d="M532.9 146.8h0"/><path class="c21" d="M553.1 126.4h0"/><path class="c18" d="M543.1 127.3h0"/><path class="c10" d="M548.1 115.9h0"/><path class="c0" d="M522.2 191.9h0"/><path class="c2" d="M537.9 116.6h0"/><path class="c10" d="M529.2 150.2h0"/><path class="c16" d="M552.4 131.3h0"/><path class="c21" d="M547.1 124.1h0"/><path class="c7" d="M523.0 145.0h0"/><path class="c14" d="M557.7 111.1h0"/><path class="c12" d="M550.3 115.0h0"/><path class="c8" d="M539.3 124.3h0"/><path class="c10" d="M523.0 150.9h0"/><path class="c14" d="M554.4 113.3h0"/><path class="c18" d="M544.0 126.2h0"/><path class="c7" d="M518.7 153.1h0"/><path class="c6" d="M560.8 101.9h0"/><path class="c8" d="M559.5 103.7h0"/><path class="c3" d="M515.3 149.0h0"/><path class="c5" d="M514.2 163.0h0"/><path class="c17" d="M544.2 137.6h0"/><path class="c12" d="M530.3 142.3h0"/><path class="c6" d="M569.4 106.0h0"/><path class="c21" d="M539.6 131.5h0"/><path class="c8" d="M557.5 105.1h0"/><path class="c22" d="M550.1 121.7h0"/><path class="c13" d="M537.1 142.9h0"/><path class="c0" d="M483.0 201.9h0"/><path class="c21" d="M540.6 130.7h0"/><path class="c2" d="M564.2 94.8h0"/><path class="c0" d="M511.5 133.0h0"/><path class="c7" d="M533.3 151.2h0"/><path class="c4" d="M511.3 163.9h0"/><path class="c24" d="M550.3 125.2h0"/><path class="c23" d="M539.5 134.2h0"/><path class="c5" d="M563.1 100.9h0"/><path class="c0" d="M580.5 97.8h0"/><path class="c20" d="M539.3 137.3h0"/><path class="c5" d="M569.2 100.8h0"/><path class="c6" d="M521.3 161.1h0"/><path class="c2" d="M572.7 94.8h0"/><path class="c7" d="M561.6 102.6h0"/><path class="c10" d="M536.5 128.3h0"/><path class="c11" d="M553.7 133.7h0"/><path class="c5" d="M540.9 119.7h0"/><path class="c10" d="M524.3 151.6h0"/><path class="c10" d="M526.6 143.4h0"/><path class="c23" d="M542.8 134.8h0"/><path class="c1" d="M512.4 179.1h0"/><path class="c7" d="M561.3 103.2h0"/><path class="c5" d="M514.1 157.7h0"/><path class="c3" d="M565.8 96.3h0"/><path class="c8" d="M530.5 152.0h0"/><path class="c11" d="M528.2 142.3h0"/><path class="c23" d="M551.6 125.8h0"/><path class="c4" d="M538.0 120.8h0"/><path class="c7" d="M519.6 155.7h0"/><path class="c16" d="M559.2 113.8h0"/><path class="c24" d="M545.5 131.6h0"/><path class="c11" d="M562.8 109.0h0"/><path class="c10" d="M529.2 139.3h0"/><path class="c13" d="M546.3 119.5h0"/><path class="c16" d="M536.3 140.9h0"/><path class="c5" d="M568.4 113.4h0"/><path class="c9" d="M529.3 152.1h0"/><path class="c16" d="M550.3 134.2h0"/><path class="c15" d="M537.1 141.6h0"/><path class="c7" d="M531.2 152.9h0"/><path class="c14" d="M552.7 114.8h0"/><path class="c20" d="M553.4 127.5h0"/><path class="c17" d="M556.2 126.0h0"/><path class="c5" d="M514.4 157.2h0"/><path class="c7" d="M518.3 159.2h0"/><path class="c13" d="M556.4 110.6h0"/><path class="c1" d="M535.7 162.4h0"/><path class="c9" d="M535.0 129.3h0"/><path class="c3" d="M509.6 162.8h0"/><path class="c14" d="M552.0 133.8h0"/><path class="c13" d="M561.0 121.4h0"/><path class="c4" d="M537.2 122.5h0"/><path class="c20" d="M555.0 119.4h0"/><path class="c14" d="M550.6 135.3h0"/><path class="c23" d="M552.2 122.6h0"/><path class="c13" d="M562.4 116.7h0"/><path class="c6" d="M518.8 161.7h0"/><path class="c1" d="M566.1 90.4h0"/><path class="c6" d="M520.4 160.0h0"/><path class="c18" d="M558.5 116.5h0"/><path class="c3" d="M573.2 106.1h0"/><path class="c1" d="M577.4 85.9h0"/><path class="c16" d="M558.1 123.5h0"/><path class="c12" d="M560.6 123.2h0"/><path class="c0" d="M381.9 261.4h0"/><path class="c12" d="M542.7 140.7h0"/><path class="c5" d="M527.9 133.3h0"/><path class="c0" d="M456.9 222.8h0"/><path class="c6" d="M537.2 149.1h0"/><path class="c3" d="M512.1 154.0h0"/><path class="c23" d="M547.5 125.4h0"/><path class="c10" d="M535.4 129.3h0"/><path class="c7" d="M565.6 102.6h0"/><path class="c8" d="M566.4 108.4h0"/><path class="c5" d="M512.6 161.7h0"/><path class="c9" d="M536.7 146.6h0"/><path class="c0" d="M476.6 230.2h0"/><path class="c24" d="M545.2 133.1h0"/><path class="c0" d="M477.2 214.8h0"/><path class="c13" d="M558.8 109.5h0"/><path class="c24" d="M549.1 128.6h0"/><path class="c10" d="M535.2 146.4h0"/><path class="c20" d="M539.7 137.2h0"/><path class="c13" d="M546.0 119.7h0"/><path class="c12" d="M532.3 134.7h0"/><path class="c17" d="M552.2 131.2h0"/><path class="c7" d="M536.0 148.5h0"/><path class="c24" d="M550.1 126.1h0"/><path class="c0" d="M484.2 196.2h0"/><path class="c8" d="M520.6 150.1h0"/><path class="c10" d="M562.5 106.9h0"/><path class="c7" d="M526.7 137.4h0"/><path class="c23" d="M542.4 134.6h0"/><path class="c10" d="M555.9 107.8h0"/><path class="c12" d="M552.1 134.9h0"/><path class="c21" d="M555.4 121.5h0"/><path class="c17" d="M536.0 139.7h0"/><path class="c6" d="M557.3 132.5h0"/><path class="c19" d="M548.6 120.6h0"/><path class="c15" d="M536.1 131.8h0"/><path class="c21" d="M554.7 124.0h0"/><path class="c8" d="M522.1 154.6h0"/><path class="c0" d="M486.1 192.5h0"/><path class="c23" d="M552.7 124.3h0"/><path class="c24" d="M545.6 133.0h0"/><path class="c14" d="M537.8 141.9h0"/><path class="c5" d="M538.7 122.2h0"/><path class="c3" d="M570.1 96.6h0"/><path class="c22" d="M546.7 133.2h0"/><path class="c7" d="M519.3 155.4h0"/><path class="c13" d="M562.3 117.7h0"/><path class="c17" d="M549.9 133.9h0"/><path class="c5" d="M569.0 100.6h0"/><path class="c9" d="M528.2 152.5h0"/><path class="c22" d="M544.1 135.2h0"/><path class="c19" d="M537.1 133.0h0"/><path class="c13" d="M531.3 142.1h0"/><path class="c22" d="M538.9 134.9h0"/><path class="c6" d="M553.4 137.9h0"/><path class="c22" d="M549.9 129.8h0"/><path class="c24" d="M550.5 125.7h0"/><path class="c1" d="M517.5 139.1h0"/><path class="c10" d="M524.5 147.7h0"/><path class="c22" d="M542.5 130.3h0"/><path class="c7" d="M527.3 137.2h0"/><path class="c3" d="M524.5 164.4h0"/><path class="c4" d="M515.3 166.8h0"/><path class="c5" d="M570.4 105.9h0"/><path class="c7" d="M541.8 119.9h0"/><path class="c22" d="M547.8 124.3h0"/><path class="c12" d="M530.7 145.4h0"/><path class="c24" d="M548.0 129.3h0"/><path class="c22" d="M541.0 131.4h0"/><path class="c24" d="M540.9 133.9h0"/><path class="c19" d="M548.8 133.9h0"/><path class="c3" d="M528.9 129.4h0"/><path class="c1" d="M518.5 133.4h0"/><path class="c20" d="M553.3 127.3h0"/><path class="c24" d="M544.3 131.8h0"/><path class="c1" d="M551.1 98.5h0"/><path class="c22" d="M549.5 130.7h0"/><path class="c18" d="M554.2 127.3h0"/><path class="c0" d="M525.6 174.8h0"/><path class="c20" d="M547.9 122.0h0"/><path class="c14" d="M558.0 111.0h0"/><path class="c21" d="M540.1 136.6h0"/><path class="c18" d="M540.6 129.2h0"/><path class="c23" d="M549.5 129.8h0"/><path class="c2" d="M567.2 95.1h0"/><path class="c2" d="M504.5 167.3h0"/><path class="c7" d="M521.8 145.7h0"/><path class="c20" d="M549.4 120.9h0"/><path class="c0" d="M491.9 177.5h0"/><path class="c13" d="M539.1 142.1h0"/><path class="c15" d="M537.1 141.2h0"/><path class="c16" d="M557.7 113.6h0"/><path class="c22" d="M550.1 129.7h0"/><path class="c13" d="M560.4 122.4h0"/><path class="c16" d="M551.7 116.7h0"/><path class="c19" d="M556.5 117.9h0"/><path class="c23" d="M542.3 134.5h0"/><path class="c14" d="M548.5 136.7h0"/><path class="c0" d="M496.8 185.6h0"/><path class="c18" d="M537.2 138.8h0"/><path class="c11" d="M525.8 148.2h0"/><path class="c19" d="M551.6 130.1h0"/><path class="c4" d="M512.4 159.8h0"/><path class="c23" d="M543.5 130.3h0"/><path class="c4" d="M527.9 159.8h0"/><path class="c13" d="M558.5 110.2h0"/><path class="c5" d="M560.1 101.6h0"/><path class="c14" d="M561.2 113.6h0"/><path class="c20" d="M542.9 136.6h0"/><path class="c17" d="M552.7 130.8h0"/><path class="c6" d="M517.7 153.4h0"/><path class="c0" d="M486.1 213.1h0"/><path class="c12" d="M555.9 109.8h0"/><path class="c0" d="M554.9 145.8h0"/><path class="c1" d="M545.0 157.5h0"/><path class="c23" d="M550.8 127.0h0"/><path class="c10" d="M543.2 141.9h0"/><path class="c23" d="M541.3 132.2h0"/><path class="c20" d="M546.1 135.0h0"/><path class="c3" d="M539.8 152.2h0"/><path class="c16" d="M560.4 117.2h0"/><path class="c17" d="M534.6 136.8h0"/><path class="c8" d="M528.1 154.3h0"/><path class="c0" d="M465.2 187.9h0"/><path class="c7" d="M557.2 104.3h0"/><path class="c22" d="M551.3 127.6h0"/><path class="c10" d="M534.7 129.8h0"/><path class="c7" d="M559.2 129.6h0"/><path class="c0" d="M590.4 74.9h0"/><path class="c24" d="M541.8 131.9h0"/><path class="c14" d="M558.6 110.9h0"/><path class="c3" d="M513.4 151.9h0"/><path class="c4" d="M528.4 159.5h0"/><path class="c8" d="M539.6 146.0h0"/><path class="c18" d="M555.2 126.3h0"/><path class="c6" d="M552.1 106.2h0"/><path class="c8" d="M556.9 131.0h0"/><path class="c24" d="M551.6 124.1h0"/><path class="c7" d="M553.9 105.6h0"/><path class="c3" d="M560.5 98.6h0"/><path class="c5" d="M563.2 99.8h0"/><path class="c24" d="M548.1 128.2h0"/><path class="c1" d="M516.9 179.6h0"/><path class="c22" d="M543.7 135.3h0"/><path class="c4" d="M553.7 102.6h0"/><path class="c2" d="M576.7 96.6h0"/><path class="c4" d="M542.7 114.1h0"/><path class="c18" d="M556.3 116.6h0"/><path class="c16" d="M558.8 114.4h0"/><path class="c20" d="M540.2 130.4h0"/><path class="c10" d="M525.1 147.8h0"/><path class="c16" d="M559.7 114.8h0"/><path class="c1" d="M499.5 163.4h0"/><path class="c1" d="M570.8 121.2h0"/><path class="c3" d="M513.7 153.0h0"/><path class="c3" d="M538.4 118.1h0"/><path class="c3" d="M547.9 145.2h0"/><path class="c9" d="M525.0 144.1h0"/><path class="c15" d="M533.7 135.8h0"/><path class="c13" d="M555.5 111.3h0"/><path class="c12" d="M531.9 135.1h0"/><path class="c5" d="M555.8 102.6h0"/><path class="c22" d="M550.6 121.4h0"/><path class="c10" d="M562.6 107.1h0"/><path class="c13" d="M531.5 137.8h0"/><path class="c14" d="M545.0 122.1h0"/><path class="c12" d="M529.9 144.7h0"/><path class="c13" d="M553.0 113.0h0"/><path class="c4" d="M570.4 100.6h0"/><path class="c10" d="M563.6 109.5h0"/><path class="c2" d="M502.4 169.2h0"/><path class="c2" d="M507.8 154.5h0"/><path class="c3" d="M563.5 128.1h0"/><path class="c10" d="M538.5 126.9h0"/><path class="c18" d="M546.8 135.6h0"/><path class="c24" d="M543.3 131.6h0"/><path class="c6" d="M568.3 102.8h0"/><path class="c4" d="M553.5 102.8h0"/><path class="c11" d="M527.0 145.2h0"/><path class="c10" d="M529.5 137.5h0"/><path class="c2" d="M575.5 108.6h0"/><path class="c10" d="M564.4 117.0h0"/><path class="c3" d="M572.3 99.7h0"/><path class="c14" d="M555.0 129.6h0"/><path class="c1" d="M521.2 130.6h0"/><path class="c24" d="M541.5 133.1h0"/><path class="c13" d="M537.2 142.8h0"/><path class="c9" d="M522.1 149.9h0"/><path class="c9" d="M530.1 151.5h0"/><path class="c5" d="M517.2 164.5h0"/><path class="c9" d="M522.1 148.8h0"/><path class="c13" d="M531.6 143.9h0"/><path class="c2" d="M505.3 173.6h0"/><path class="c23" d="M542.1 131.0h0"/><path class="c1" d="M542.5 160.0h0"/><path class="c24" d="M544.9 131.1h0"/><path class="c20" d="M549.2 120.7h0"/><path class="c14" d="M534.1 142.8h0"/><path class="c9" d="M532.4 131.5h0"/><path class="c22" d="M553.9 124.2h0"/><path class="c19" d="M545.6 135.7h0"/><path class="c13" d="M537.3 143.2h0"/><path class="c15" d="M536.1 141.4h0"/><path class="c2" d="M534.0 159.6h0"/><path class="c15" d="M552.1 132.9h0"/><path class="c20" d="M556.2 121.3h0"/><path class="c11" d="M545.4 118.9h0"/><path class="c8" d="M564.2 120.5h0"/><path class="c17" d="M542.3 127.7h0"/><path class="c22" d="M548.3 132.3h0"/><path class="c20" d="M547.7 122.1h0"/><path class="c22" d="M552.1 121.6h0"/><path class="c15" d="M547.8 119.3h0"/><path class="c2" d="M521.9 133.6h0"/><path class="c19" d="M549.9 120.0h0"/><path class="c10" d="M527.4 141.1h0"/><path class="c7" d="M566.5 104.8h0"/><path class="c0" d="M479.2 211.9h0"/><path class="c4" d="M546.7 110.1h0"/><path class="c21" d="M553.7 120.7h0"/><path class="c16" d="M555.3 127.8h0"/><path class="c19" d="M547.2 122.2h0"/><path class="c0" d="M579.9 75.5h0"/><path class="c10" d="M560.5 106.1h0"/><path class="c13" d="M547.5 118.6h0"/><path class="c23" d="M542.8 134.4h0"/><path class="c1" d="M501.8 181.2h0"/><path class="c19" d="M550.2 119.6h0"/><path class="c0" d="M538.1 108.6h0"/><path class="c19" d="M542.2 137.6h0"/><path class="c23" d="M542.9 130.9h0"/><path class="c0" d="M509.2 219.4h0"/><path class="c0" d="M585.3 84.0h0"/><path class="c11" d="M563.4 118.3h0"/><path class="c15" d="M550.4 134.8h0"/><path class="c7" d="M526.7 156.0h0"/><path class="c0" d="M487.4 202.5h0"/><path class="c24" d="M548.0 131.0h0"/><path class="c5" d="M524.0 160.4h0"/><path class="c12" d="M538.6 143.1h0"/><path class="c12" d="M559.4 109.1h0"/><path class="c0" d="M596.6 54.0h0"/><path class="c6" d="M516.7 159.3h0"/><path class="c11" d="M563.5 114.1h0"/><path class="c2" d="M538.4 117.0h0"/><path class="c22" d="M540.7 131.7h0"/><path class="c10" d="M563.0 107.0h0"/><path class="c4" d="M511.0 167.5h0"/><path class="c1" d="M545.2 153.1h0"/><path class="c15" d="M560.2 113.3h0"/><path class="c8" d="M559.0 104.0h0"/><path class="c20" d="M541.5 129.4h0"/><path class="c14" d="M556.9 110.7h0"/><path class="c19" d="M536.7 133.7h0"/><path class="c4" d="M510.4 162.7h0"/><path class="c15" d="M532.9 138.8h0"/><path class="c5" d="M564.3 100.5h0"/><path class="c0" d="M506.8 196.2h0"/><path class="c22" d="M539.1 136.1h0"/><path class="c10" d="M541.4 124.1h0"/><path class="c21" d="M548.3 133.1h0"/><path class="c4" d="M569.2 113.2h0"/><path class="c5" d="M526.2 159.8h0"/><path class="c10" d="M524.4 153.0h0"/><path class="c0" d="M484.9 198.1h0"/><path class="c2" d="M561.6 132.0h0"/><path class="c17" d="M544.4 124.8h0"/><path class="c0" d="M503.0 216.9h0"/><path class="c10" d="M525.9 144.5h0"/><path class="c15" d="M559.5 122.7h0"/><path class="c11" d="M557.0 108.2h0"/><path class="c20" d="M553.1 127.5h0"/><path class="c0" d="M565.1 77.8h0"/><path class="c22" d="M543.6 129.0h0"/><path class="c18" d="M536.3 138.3h0"/><path class="c4" d="M529.7 158.0h0"/><path class="c8" d="M523.3 145.7h0"/><path class="c11" d="M527.1 144.6h0"/><path class="c23" d="M550.3 123.0h0"/><path class="c3" d="M547.3 106.7h0"/><path class="c0" d="M492.5 173.8h0"/><path class="c18" d="M536.4 133.8h0"/><path class="c0" d="M489.6 177.3h0"/><path class="c8" d="M523.9 156.7h0"/><path class="c19" d="M557.2 120.8h0"/><path class="c24" d="M547.6 127.1h0"/><path class="c20" d="M546.3 124.8h0"/><path class="c1" d="M519.7 180.0h0"/><path class="c17" d="M540.5 128.8h0"/><path class="c2" d="M517.9 140.6h0"/><path class="c21" d="M538.1 133.9h0"/><path class="c5" d="M526.5 134.6h0"/><path class="c24" d="M548.4 130.2h0"/><path class="c24" d="M545.3 133.0h0"/><path class="c18" d="M536.4 138.8h0"/><path class="c9" d="M544.7 118.4h0"/><path class="c13" d="M539.7 141.9h0"/><path class="c22" d="M542.2 130.1h0"/><path class="c7" d="M562.3 103.4h0"/><path class="c4" d="M567.0 120.2h0"/><path class="c20" d="M543.4 128.4h0"/><path class="c13" d="M534.6 131.8h0"/><path class="c0" d="M539.3 166.6h0"/><path class="c6" d="M523.9 158.9h0"/><path class="c11" d="M561.3 122.9h0"/><path class="c8" d="M522.1 154.8h0"/><path class="c21" d="M546.4 134.2h0"/><path class="c1" d="M567.5 90.1h0"/><path class="c4" d="M571.2 102.3h0"/><path class="c19" d="M557.4 121.5h0"/><path class="c23" d="M549.6 129.1h0"/><path class="c3" d="M541.7 151.2h0"/><path class="c15" d="M561.3 117.5h0"/><path class="c24" d="M542.4 133.6h0"/><path class="c20" d="M545.3 125.7h0"/><path class="c4" d="M514.2 153.5h0"/><path class="c21" d="M551.8 120.0h0"/><path class="c10" d="M555.4 107.4h0"/><path class="c0" d="M473.1 219.0h0"/><path class="c1" d="M498.9 164.6h0"/><path class="c18" d="M536.3 137.9h0"/><path class="c7" d="M526.7 156.5h0"/><path class="c1" d="M576.9 106.1h0"/><path class="c18" d="M542.6 127.6h0"/><path class="c11" d="M544.5 140.8h0"/><path class="c7" d="M534.8 149.2h0"/><path class="c11" d="M534.7 130.4h0"/><path class="c16" d="M536.7 140.7h0"/><path class="c11" d="M542.5 141.6h0"/><path class="c4" d="M526.0 161.5h0"/><path class="c0" d="M506.1 190.0h0"/><path class="c14" d="M561.6 113.1h0"/><path class="c3" d="M572.0 98.3h0"/><path class="c11" d="M527.3 144.3h0"/><path class="c7" d="M562.4 124.9h0"/><path class="c24" d="M546.2 130.9h0"/><path class="c2" d="M508.5 175.5h0"/><path class="c3" d="M550.1 143.8h0"/><path class="c16" d="M560.0 117.7h0"/><path class="c9" d="M522.0 149.4h0"/><path class="c22" d="M552.9 125.1h0"/><path class="c11" d="M550.5 114.2h0"/><path class="c8" d="M566.5 107.8h0"/><path class="c7" d="M520.0 149.2h0"/><path class="c7" d="M566.8 105.8h0"/><path class="c5" d="M564.7 100.5h0"/><path class="c8" d="M565.0 104.2h0"/><path class="c4" d="M571.6 106.2h0"/><path class="c0" d="M466.2 219.8h0"/><path class="c4" d="M518.5 147.0h0"/><path class="c21" d="M541.7 136.4h0"/><path class="c24" d="M545.6 132.0h0"/><path class="c4" d="M542.2 116.1h0"/><path class="c20" d="M540.3 137.3h0"/><path class="c17" d="M558.0 114.6h0"/><path class="c15" d="M544.5 123.5h0"/><path class="c2" d="M502.3 178.0h0"/><path class="c11" d="M530.1 138.9h0"/><path class="c24" d="M546.5 130.7h0"/><path class="c13" d="M555.1 110.9h0"/><path class="c11" d="M525.4 150.8h0"/><path class="c6" d="M533.7 152.0h0"/><path class="c5" d="M561.5 100.6h0"/><path class="c12" d="M548.6 116.6h0"/><path class="c1" d="M577.4 109.3h0"/><path class="c21" d="M554.8 123.3h0"/><path class="c22" d="M548.2 123.2h0"/><path class="c20" d="M554.0 119.2h0"/><path class="c16" d="M554.2 115.1h0"/><path class="c23" d="M547.9 131.7h0"/><path class="c16" d="M555.9 126.6h0"/><path class="c24" d="M545.2 131.8h0"/><path class="c2" d="M571.0 117.5h0"/><path class="c7" d="M552.5 106.8h0"/><path class="c0" d="M465.6 224.0h0"/><path class="c23" d="M540.8 134.8h0"/><path class="c0" d="M584.9 86.4h0"/><path class="c1" d="M566.1 88.6h0"/><path class="c1" d="M501.8 163.1h0"/><path class="c11" d="M536.0 145.0h0"/><path class="c21" d="M553.8 120.7h0"/><path class="c6" d="M548.4 141.4h0"/><path class="c20" d="M556.2 123.0h0"/><path class="c20" d="M551.0 119.9h0"/><path class="c2" d="M548.8 147.0h0"/><path class="c22" d="M548.9 132.0h0"/><path class="c9" d="M522.1 149.1h0"/><path class="c24" d="M541.5 132.3h0"/><path class="c8" d="M565.9 110.0h0"/><path class="c2" d="M505.0 161.8h0"/><path class="c12" d="M554.4 110.9h0"/><path class="c9" d="M565.1 109.3h0"/><path class="c16" d="M557.3 124.6h0"/><path class="c5" d="M524.8 137.4h0"/><path class="c17" d="M557.3 123.8h0"/><path class="c8" d="M557.8 130.3h0"/><path class="c23" d="M543.9 134.7h0"/><path class="c15" d="M558.2 124.4h0"/><path class="c23" d="M541.9 135.2h0"/><path class="c8" d="M529.1 135.6h0"/><path class="c0" d="M563.5 83.1h0"/><path class="c11" d="M527.4 147.3h0"/><path class="c0" d="M481.3 183.4h0"/><path class="c6" d="M516.5 161.2h0"/><path class="c3" d="M534.7 123.0h0"/><path class="c2" d="M508.6 154.8h0"/><path class="c1" d="M514.4 177.6h0"/><path class="c15" d="M561.2 117.7h0"/><path class="c18" d="M549.3 134.1h0"/><path class="c4" d="M547.3 109.7h0"/><path class="c24" d="M547.5 131.5h0"/><path class="c4" d="M515.8 153.2h0"/><path class="c20" d="M544.6 135.7h0"/><path class="c8" d="M539.6 145.4h0"/><path class="c4" d="M567.9 99.0h0"/><path class="c9" d="M531.1 150.7h0"/><path class="c19" d="M554.1 126.7h0"/><path class="c10" d="M564.3 110.3h0"/><path class="c17" d="M558.9 120.2h0"/><path class="c0" d="M557.5 148.0h0"/><path class="c1" d="M557.7 93.2h0"/><path class="c7" d="M555.9 134.0h0"/><path class="c0" d="M539.3 105.5h0"/><path class="c5" d="M544.7 113.7h0"/><path class="c0" d="M501.1 201.2h0"/><path class="c2" d="M570.6 92.4h0"/><path class="c7" d="M528.2 154.9h0"/><path class="c11" d="M562.2 121.5h0"/><path class="c4" d="M521.9 140.0h0"/><path class="c12" d="M537.7 143.5h0"/><path class="c2" d="M532.3 123.4h0"/><path class="c18" d="M549.7 133.7h0"/><path class="c13" d="M562.3 112.3h0"/><path class="c2" d="M541.1 152.2h0"/><path class="c24" d="M547.3 130.6h0"/><path class="c6" d="M522.1 159.5h0"/><path class="c23" d="M549.9 129.4h0"/><path class="c1" d="M507.6 178.9h0"/><path class="c24" d="M550.8 123.4h0"/><path class="c1" d="M573.4 80.7h0"/><path class="c12" d="M546.6 138.7h0"/><path class="c5" d="M513.2 161.2h0"/><path class="c19" d="M541.1 129.5h0"/><path class="c9" d="M528.2 138.0h0"/><path class="c10" d="M525.5 151.4h0"/><path class="c18" d="M551.7 131.5h0"/><path class="c1" d="M519.0 132.2h0"/><path class="c3" d="M520.5 140.0h0"/><path class="c0" d="M490.3 159.6h0"/><path class="c11" d="M547.3 139.0h0"/><path class="c1" d="M562.6 89.7h0"/><path class="c0" d="M495.5 220.6h0"/><path class="c6" d="M519.2 150.8h0"/><path class="c8" d="M565.6 105.8h0"/><path class="c8" d="M524.9 156.0h0"/><path class="c24" d="M550.3 124.3h0"/><path class="c7" d="M568.1 108.3h0"/><path class="c8" d="M566.0 113.5h0"/><path class="c24" d="M547.9 126.7h0"/><path class="c23" d="M551.5 126.2h0"/><path class="c13" d="M536.0 143.8h0"/><path class="c12" d="M560.7 108.4h0"/><path class="c17" d="M534.9 136.1h0"/><path class="c10" d="M549.6 137.8h0"/><path class="c6" d="M548.4 141.6h0"/><path class="c16" d="M554.7 114.5h0"/><path class="c19" d="M542.8 137.1h0"/><path class="c7" d="M530.5 153.7h0"/><path class="c23" d="M550.1 128.7h0"/><path class="c6" d="M551.3 107.3h0"/><path class="c1" d="M518.6 134.2h0"/><path class="c1" d="M570.9 82.2h0"/><path class="c5" d="M568.3 100.0h0"/><path class="c8" d="M545.9 116.4h0"/><path class="c3" d="M521.1 139.4h0"/><path class="c24" d="M549.2 124.2h0"/><path class="c11" d="M529.5 140.6h0"/><path class="c9" d="M523.8 154.5h0"/><path class="c9" d="M553.1 135.8h0"/><path class="c13" d="M560.4 110.1h0"/><path class="c5" d="M550.1 108.6h0"/><path class="c4" d="M537.5 151.6h0"/><path class="c13" d="M552.3 133.7h0"/><path class="c1" d="M499.6 171.4h0"/><path class="c10" d="M562.1 106.0h0"/><path class="c7" d="M558.0 103.9h0"/><path class="c8" d="M541.1 144.5h0"/><path class="c12" d="M548.6 137.7h0"/><path class="c0" d="M552.1 86.1h0"/><path class="c22" d="M552.2 121.6h0"/><path class="c0" d="M552.5 167.0h0"/><path class="c10" d="M532.7 132.2h0"/><path class="c24" d="M545.1 132.8h0"/><path class="c10" d="M551.3 136.8h0"/><path class="c16" d="M548.4 135.5h0"/><path class="c18" d="M551.6 131.1h0"/><path class="c24" d="M542.7 134.2h0"/><path class="c2" d="M567.8 93.4h0"/><path class="c8" d="M548.7 113.3h0"/><path class="c2" d="M542.6 150.9h0"/><path class="c21" d="M553.6 120.0h0"/><path class="c24" d="M548.9 127.9h0"/><path class="c5" d="M518.8 148.6h0"/><path class="c24" d="M543.2 130.9h0"/><path class="c11" d="M563.3 109.9h0"/><path class="c22" d="M551.4 121.0h0"/><path class="c5" d="M528.7 158.4h0"/><path class="c9" d="M524.9 154.5h0"/><path class="c15" d="M548.8 118.4h0"/><path class="c14" d="M534.9 143.2h0"/><path class="c3" d="M563.5 97.3h0"/><path class="c2" d="M522.8 169.1h0"/><path class="c8" d="M553.8 135.7h0"/><path class="c22" d="M547.3 133.4h0"/><path class="c20" d="M555.2 124.0h0"/><path class="c13" d="M562.6 116.8h0"/><path class="c19" d="M546.3 135.3h0"/><path class="c5" d="M513.0 159.0h0"/><path class="c7" d="M566.6 113.0h0"/><path class="c20" d="M545.4 135.4h0"/><path class="c2" d="M564.2 93.2h0"/><path class="c21" d="M553.5 120.0h0"/><path class="c5" d="M539.2 122.0h0"/><path class="c0" d="M580.9 70.4h0"/><path class="c19" d="M557.2 118.5h0"/><path class="c21" d="M538.6 135.9h0"/><path class="c5" d="M516.1 155.6h0"/><path class="c6" d="M516.3 159.4h0"/><path class="c17" d="M546.8 136.2h0"/><path class="c9" d="M563.2 106.5h0"/><path class="c22" d="M546.3 133.9h0"/><path class="c15" d="M546.0 137.7h0"/><path class="c6" d="M564.0 100.9h0"/><path class="c24" d="M546.6 129.9h0"/><path class="c22" d="M549.9 121.7h0"/><path class="c18" d="M558.0 117.3h0"/><path class="c23" d="M552.1 125.6h0"/><path class="c17" d="M557.7 114.9h0"/><path class="c4" d="M518.6 167.3h0"/><path class="c6" d="M517.3 154.3h0"/><path class="c0" d="M599.9 62.5h0"/><path class="c10" d="M525.5 153.0h0"/><path class="c4" d="M513.7 165.8h0"/><path class="c22" d="M552.8 120.8h0"/><path class="c24" d="M548.3 127.8h0"/><path class="c17" d="M557.7 115.2h0"/><path class="c22" d="M539.4 133.8h0"/><path class="c4" d="M529.5 158.1h0"/><path class="c0" d="M590.7 63.2h0"/><path class="c2" d="M541.9 153.1h0"/><path class="c22" d="M546.1 126.7h0"/><path class="c11" d="M552.1 135.2h0"/><path class="c19" d="M553.2 118.7h0"/><path class="c1" d="M506.0 179.8h0"/><path class="c7" d="M567.8 107.7h0"/><path class="c24" d="M550.6 123.9h0"/><path class="c15" d="M556.0 112.4h0"/><path class="c0" d="M485.1 175.6h0"/><path class="c9" d="M537.8 146.2h0"/><path class="c22" d="M539.9 132.5h0"/><path class="c0" d="M569.4 81.1h0"/><path class="c19" d="M547.1 135.3h0"/><path class="c2" d="M501.6 169.3h0"/><path class="c13" d="M557.2 110.0h0"/><path class="c6" d="M517.3 155.7h0"/><path class="c20" d="M547.1 134.3h0"/><path class="c13" d="M561.4 120.3h0"/><path class="c3" d="M541.2 114.7h0"/><path class="c8" d="M557.9 130.1h0"/><path class="c6" d="M545.8 114.2h0"/><path class="c5" d="M514.3 164.4h0"/><path class="c19" d="M549.2 133.6h0"/><path class="c8" d="M522.4 147.3h0"/><path class="c1" d="M557.2 96.0h0"/><path class="c21" d="M549.3 121.6h0"/><path class="c24" d="M547.0 127.9h0"/><path class="c17" d="M559.3 117.5h0"/><path class="c14" d="M560.3 122.1h0"/><path class="c23" d="M546.8 127.4h0"/><path class="c0" d="M502.4 193.8h0"/><path class="c15" d="M545.6 121.4h0"/><path class="c8" d="M548.6 113.7h0"/><path class="c13" d="M531.7 138.8h0"/><path class="c0" d="M506.8 215.6h0"/><path class="c0" d="M507.5 133.0h0"/><path class="c11" d="M541.5 124.3h0"/><path class="c17" d="M543.4 137.9h0"/><path class="c5" d="M517.5 163.6h0"/><path class="c0" d="M528.1 170.3h0"/><path class="c7" d="M523.3 143.9h0"/><path class="c8" d="M530.8 132.8h0"/><path class="c8" d="M547.0 140.9h0"/><path class="c6" d="M518.4 161.1h0"/><path class="c18" d="M557.9 118.4h0"/><path class="c14" d="M546.4 137.8h0"/><path class="c20" d="M555.4 122.9h0"/><path class="c21" d="M546.8 124.7h0"/><path class="c12" d="M534.1 131.9h0"/><path class="c2" d="M517.9 173.8h0"/><path class="c10" d="M564.3 109.8h0"/><path class="c23" d="M543.6 130.5h0"/><path class="c1" d="M558.4 91.1h0"/><path class="c24" d="M546.9 130.3h0"/><path class="c19" d="M541.5 129.3h0"/><path class="c22" d="M543.0 135.6h0"/><path class="c9" d="M542.3 122.0h0"/><path class="c17" d="M558.7 120.7h0"/><path class="c9" d="M533.5 130.1h0"/><path class="c21" d="M554.3 120.3h0"/><path class="c5" d="M548.0 143.1h0"/><path class="c17" d="M546.5 121.8h0"/><path class="c3" d="M540.0 115.4h0"/><path class="c3" d="M505.0 169.7h0"/><path class="c0" d="M619.5 31.9h0"/><path class="c16" d="M534.1 139.0h0"/><path class="c22" d="M548.7 131.7h0"/><path class="c4" d="M570.8 108.7h0"/><path class="c14" d="M561.4 112.6h0"/><path class="c23" d="M548.8 123.6h0"/><path class="c7" d="M527.1 155.5h0"/><path class="c2" d="M562.2 95.4h0"/><path class="c4" d="M514.7 153.7h0"/><path class="c15" d="M560.8 118.0h0"/><path class="c3" d="M551.3 102.7h0"/><path class="c13" d="M530.7 141.1h0"/><path class="c23" d="M547.6 125.8h0"/><path class="c17" d="M540.6 128.7h0"/><path class="c19" d="M547.8 121.9h0"/><path class="c0" d="M561.5 82.9h0"/><path class="c24" d="M543.4 131.4h0"/><path class="c22" d="M538.9 133.9h0"/><path class="c0" d="M517.9 124.0h0"/><path class="c13" d="M544.0 122.5h0"/><path class="c5" d="M527.7 134.1h0"/><path class="c17" d="M558.2 114.8h0"/><path class="c18" d="M539.9 129.7h0"/><path class="c7" d="M559.2 103.2h0"/><path class="c9" d="M565.1 109.5h0"/><path class="c9" d="M522.7 148.4h0"/><path class="c19" d="M554.8 117.7h0"/><path class="c10" d="M526.5 144.6h0"/><path class="c13" d="M554.9 130.1h0"/><path class="c19" d="M538.8 137.9h0"/><path class="c18" d="M547.5 135.3h0"/><path class="c5" d="M538.7 148.9h0"/><path class="c2" d="M519.5 174.1h0"/><path class="c1" d="M580.8 81.8h0"/><path class="c11" d="M528.1 146.7h0"/><path class="c0" d="M470.6 227.5h0"/><path class="c17" d="M551.5 117.4h0"/><path class="c9" d="M555.3 106.6h0"/><path class="c2" d="M508.9 154.8h0"/><path class="c22" d="M548.7 123.2h0"/><path class="c24" d="M547.9 130.0h0"/><path class="c9" d="M527.5 140.4h0"/><path class="c13" d="M560.7 111.2h0"/><path class="c9" d="M559.9 105.4h0"/><path class="c7" d="M518.9 159.3h0"/><path class="c5" d="M520.1 164.3h0"/><path class="c2" d="M519.7 170.8h0"/><path class="c18" d="M546.9 135.8h0"/><path class="c11" d="M528.7 141.3h0"/><path class="c4" d="M532.5 127.6h0"/><path class="c15" d="M559.6 113.4h0"/><path class="c22" d="M545.1 127.8h0"/><path class="c14" d="M549.0 136.2h0"/><path class="c4" d="M533.2 155.1h0"/><path class="c14" d="M554.2 130.2h0"/><path class="c23" d="M539.9 132.8h0"/><path class="c10" d="M527.0 152.3h0"/><path class="c6" d="M518.4 151.2h0"/><path class="c5" d="M518.4 164.8h0"/><path class="c1" d="M570.4 83.3h0"/><path class="c22" d="M547.6 132.6h0"/><path class="c11" d="M557.2 108.2h0"/><path class="c11" d="M553.3 134.2h0"/><path class="c6" d="M541.9 146.0h0"/><path class="c6" d="M566.7 101.1h0"/><path class="c0" d="M532.8 177.3h0"/><path class="c3" d="M508.7 160.2h0"/><path class="c17" d="M543.1 126.6h0"/><path class="c1" d="M505.4 158.7h0"/><path class="c2" d="M574.4 107.6h0"/><path class="c24" d="M549.1 125.0h0"/><path class="c22" d="M541.5 131.2h0"/><path class="c11" d="M540.1 143.1h0"/><path class="c19" d="M537.5 132.5h0"/><path class="c6" d="M546.9 142.7h0"/><path class="c23" d="M550.5 122.0h0"/><path class="c20" d="M553.0 127.7h0"/><path class="c10" d="M557.3 106.5h0"/><path class="c6" d="M517.8 157.7h0"/><path class="c3" d="M513.0 152.1h0"/><path class="c10" d="M523.2 150.8h0"/><path class="c20" d="M542.6 137.0h0"/><path class="c18" d="M555.7 116.2h0"/><path class="c15" d="M533.4 138.4h0"/><path class="c21" d="M554.2 120.6h0"/><path class="c15" d="M533.9 139.8h0"/><path class="c10" d="M523.3 149.1h0"/><path class="c12" d="M529.2 143.0h0"/><path class="c14" d="M560.9 120.0h0"/><path class="c12" d="M555.7 110.2h0"/><path class="c7" d="M553.2 107.0h0"/><path class="c21" d="M549.4 131.6h0"/><path class="c3" d="M525.6 164.2h0"/><path class="c9" d="M564.9 107.2h0"/><path class="c5" d="M540.0 119.9h0"/><path class="c9" d="M534.6 129.3h0"/><path class="c4" d="M532.8 127.3h0"/><path class="c12" d="M528.7 144.5h0"/><path class="c12" d="M530.4 139.9h0"/><path class="c20" d="M544.5 136.2h0"/><path class="c14" d="M554.2 113.4h0"/><path class="c1" d="M576.7 83.9h0"/><path class="c2" d="M566.1 93.7h0"/><path class="c2" d="M525.3 131.8h0"/><path class="c13" d="M557.0 109.8h0"/><path class="c17" d="M557.8 114.4h0"/><path class="c20" d="M555.2 120.1h0"/><path class="c21" d="M554.4 120.6h0"/><path class="c3" d="M573.4 109.1h0"/><path class="c11" d="M541.3 124.6h0"/><path class="c23" d="M548.1 124.9h0"/><path class="c1" d="M562.1 136.6h0"/><path class="c15" d="M533.6 135.1h0"/><path class="c7" d="M552.5 106.8h0"/><path class="c16" d="M541.2 139.3h0"/><path class="c12" d="M534.3 145.1h0"/><path class="c2" d="M542.6 109.5h0"/><path class="c15" d="M560.4 120.8h0"/><path class="c23" d="M545.8 128.4h0"/><path class="c17" d="M558.4 115.3h0"/><path class="c15" d="M538.3 129.6h0"/><path class="c2" d="M523.5 169.3h0"/><path class="c22" d="M552.9 125.4h0"/><path class="c0" d="M491.8 184.4h0"/><path class="c9" d="M542.6 142.7h0"/><path class="c1" d="M531.6 164.6h0"/><path class="c3" d="M541.9 112.8h0"/><path class="c0" d="M502.0 108.0h0"/><path class="c0" d="M573.9 77.5h0"/><path class="c14" d="M555.2 112.7h0"/><path class="c20" d="M552.0 119.6h0"/><path class="c3" d="M574.1 108.4h0"/><path class="c5" d="M540.8 119.2h0"/><path class="c7" d="M552.1 108.1h0"/><path class="c8" d="M544.4 142.7h0"/><path class="c9" d="M536.7 146.8h0"/><path class="c21" d="M549.7 131.2h0"/><path class="c7" d="M566.9 113.3h0"/><path class="c19" d="M538.4 138.0h0"/><path class="c16" d="M536.6 131.7h0"/><path class="c24" d="M549.6 125.5h0"/><path class="c9" d="M565.6 111.5h0"/><path class="c24" d="M542.1 133.8h0"/><path class="c11" d="M551.5 135.7h0"/><path class="c14" d="M559.4 110.7h0"/><path class="c5" d="M514.1 162.7h0"/><path class="c17" d="M548.1 135.5h0"/><path class="c13" d="M533.9 143.3h0"/><path class="c17" d="M557.5 114.3h0"/><path class="c23" d="M549.1 123.0h0"/><path class="c19" d="M557.6 120.6h0"/><path class="c6" d="M566.9 103.3h0"/><path class="c17" d="M558.3 115.8h0"/><path class="c23" d="M548.3 131.3h0"/><path class="c9" d="M555.9 106.4h0"/><path class="c22" d="M539.5 135.8h0"/><path class="c14" d="M552.3 133.4h0"/><path class="c0" d="M455.2 202.1h0"/><path class="c13" d="M559.7 110.4h0"/><path class="c4" d="M510.6 164.8h0"/><path class="c11" d="M530.8 147.1h0"/><path class="c4" d="M527.4 160.3h0"/><path class="c4" d="M511.2 159.6h0"/><path class="c11" d="M525.8 150.0h0"/><path class="c13" d="M543.0 140.2h0"/><path class="c3" d="M515.5 170.8h0"/><path class="c23" d="M540.8 134.9h0"/><path class="c23" d="M550.4 122.8h0"/><path class="c24" d="M551.4 125.6h0"/><path class="c0" d="M536.2 165.0h0"/><path class="c8" d="M541.9 121.5h0"/><path class="c0" d="M448.5 225.4h0"/><path class="c8" d="M561.1 104.4h0"/><path class="c17" d="M535.5 134.0h0"/><path class="c17" d="M551.7 132.1h0"/><path class="c24" d="M547.6 129.9h0"/><path class="c10" d="M556.4 130.6h0"/><path class="c15" d="M534.4 140.9h0"/><path class="c24" d="M550.0 125.1h0"/><path class="c15" d="M553.1 131.2h0"/><path class="c17" d="M554.7 116.1h0"/><path class="c0" d="M470.1 180.8h0"/><path class="c24" d="M549.6 124.2h0"/><path class="c12" d="M532.5 146.0h0"/><path class="c20" d="M550.2 120.3h0"/><path class="c2" d="M576.8 94.4h0"/><path class="c0" d="M526.1 176.1h0"/><path class="c19" d="M539.3 130.9h0"/><path class="c4" d="M570.8 111.2h0"/><path class="c16" d="M537.3 140.6h0"/><path class="c3" d="M551.7 102.2h0"/><path class="c24" d="M545.9 129.7h0"/><path class="c24" d="M549.5 124.5h0"/><path class="c9" d="M523.7 147.5h0"/><path class="c15" d="M553.3 114.5h0"/><path class="c4" d="M512.4 158.6h0"/><path class="c1" d="M499.2 178.4h0"/><path class="c10" d="M555.4 107.7h0"/><path class="c12" d="M530.1 145.3h0"/><path class="c15" d="M536.2 141.5h0"/><path class="c0" d="M474.4 231.9h0"/><path class="c19" d="M540.4 130.1h0"/><path class="c13" d="M562.8 115.9h0"/><path class="c16" d="M554.5 128.2h0"/><path class="c5" d="M566.3 100.3h0"/><path class="c2" d="M509.8 152.6h0"/><path class="c7" d="M565.9 103.7h0"/><path class="c17" d="M538.6 139.8h0"/><path class="c23" d="M548.3 124.6h0"/><path class="c17" d="M535.0 135.8h0"/><path class="c19" d="M536.7 137.1h0"/><path class="c16" d="M534.0 137.0h0"/><path class="c0" d="M471.9 225.0h0"/><path class="c7" d="M539.2 123.5h0"/><path class="c3" d="M511.8 155.1h0"/><path class="c1" d="M573.6 86.2h0"/><path class="c2" d="M575.3 96.0h0"/><path class="c8" d="M532.7 130.2h0"/><path class="c11" d="M526.2 150.6h0"/><path class="c19" d="M557.2 122.1h0"/><path class="c7" d="M565.2 119.4h0"/><path class="c16" d="M560.3 115.8h0"/><path class="c24" d="M545.7 131.5h0"/><path class="c8" d="M561.7 103.5h0"/><path class="c12" d="M559.6 124.6h0"/><path class="c2" d="M518.0 176.2h0"/><path class="c12" d="M553.8 111.6h0"/><path class="c12" d="M554.6 131.1h0"/><path class="c0" d="M486.1 195.6h0"/><path class="c13" d="M539.1 142.2h0"/><path class="c9" d="M558.4 128.8h0"/><path class="c4" d="M570.7 110.8h0"/><path class="c17" d="M557.2 123.9h0"/><path class="c8" d="M529.7 152.9h0"/><path class="c19" d="M538.8 131.0h0"/><path class="c2" d="M505.9 163.5h0"/><path class="c23" d="M542.6 130.6h0"/><path class="c14" d="M545.4 121.1h0"/><path class="c24" d="M541.6 133.1h0"/><path class="c23" d="M551.9 125.3h0"/><path class="c18" d="M557.4 122.4h0"/><path class="c21" d="M550.4 120.8h0"/><path class="c0" d="M478.7 181.6h0"/><path class="c2" d="M507.1 157.9h0"/><path class="c6" d="M525.3 138.1h0"/><path class="c9" d="M565.4 113.5h0"/><path class="c1" d="M517.3 176.6h0"/><path class="c0" d="M502.5 121.3h0"/><path class="c15" d="M533.9 141.8h0"/><path class="c6" d="M538.2 148.6h0"/><path class="c11" d="M529.7 148.6h0"/><path class="c8" d="M562.0 124.8h0"/><path class="c9" d="M522.8 149.9h0"/><path class="c22" d="M553.5 123.2h0"/><path class="c13" d="M559.0 109.6h0"/><path class="c2" d="M553.6 142.8h0"/><path class="c8" d="M564.5 104.4h0"/><path class="c15" d="M533.1 138.6h0"/><path class="c11" d="M537.2 144.3h0"/><path class="c23" d="M543.1 130.0h0"/><path class="c7" d="M545.0 143.4h0"/><path class="c16" d="M554.1 115.6h0"/><path class="c15" d="M533.8 134.9h0"/><path class="c8" d="M529.5 153.3h0"/><path class="c19" d="M556.7 122.4h0"/><path class="c9" d="M551.1 137.3h0"/><path class="c7" d="M566.3 114.2h0"/><path class="c24" d="M542.2 132.1h0"/><path class="c5" d="M514.4 163.2h0"/><path class="c0" d="M562.5 143.8h0"/><path class="c11" d="M563.2 109.5h0"/><path class="c6" d="M567.6 111.9h0"/><path class="c20" d="M552.8 119.6h0"/><path class="c1" d="M563.5 86.1h0"/><path class="c4" d="M543.4 114.0h0"/><path class="c19" d="M537.2 133.0h0"/><path class="c22" d="M551.5 127.5h0"/><path class="c2" d="M506.2 162.7h0"/><path class="c2" d="M535.1 158.0h0"/><path class="c0" d="M529.5 117.0h0"/><path class="c24" d="M546.8 131.4h0"/><path class="c10" d="M530.8 148.5h0"/><path class="c10" d="M531.8 133.3h0"/><path class="c10" d="M524.8 148.6h0"/><path class="c6" d="M522.1 160.6h0"/><path class="c21" d="M550.4 120.5h0"/><path class="c8" d="M539.5 145.6h0"/><path class="c6" d="M523.6 158.7h0"/><path class="c19" d="M557.3 117.8h0"/><path class="c16" d="M534.5 135.9h0"/><path class="c8" d="M521.4 149.2h0"/><path class="c6" d="M517.7 159.1h0"/><path class="c17" d="M550.7 132.9h0"/><path class="c18" d="M554.6 117.5h0"/><path class="c24" d="M548.4 130.0h0"/><path class="c2" d="M528.8 163.7h0"/><path class="c5" d="M569.7 108.6h0"/><path class="c13" d="M532.4 135.8h0"/><path class="c24" d="M542.1 133.5h0"/><path class="c9" d="M552.3 136.4h0"/><path class="c13" d="M551.2 115.4h0"/><path class="c1" d="M567.5 86.2h0"/><path class="c1" d="M543.5 106.1h0"/><path class="c8" d="M522.2 155.7h0"/><path class="c11" d="M542.5 141.6h0"/><path class="c2" d="M536.2 158.9h0"/><path class="c11" d="M535.8 145.2h0"/><path class="c8" d="M564.5 104.8h0"/><path class="c13" d="M531.9 142.8h0"/><path class="c19" d="M551.2 119.0h0"/><path class="c21" d="M538.1 136.4h0"/><path class="c15" d="M544.2 123.6h0"/><path class="c1" d="M537.9 111.1h0"/><path class="c8" d="M565.7 106.7h0"/><path class="c7" d="M519.2 157.9h0"/><path class="c23" d="M544.1 134.3h0"/><path class="c11" d="M558.8 126.5h0"/><path class="c4" d="M567.2 98.7h0"/><path class="c18" d="M555.7 116.3h0"/><path class="c23" d="M551.3 122.6h0"/><path class="c1" d="M575.5 87.8h0"/><path class="c6" d="M520.1 161.2h0"/><path class="c6" d="M545.4 143.7h0"/><path class="c12" d="M557.2 108.4h0"/><path class="c7" d="M529.4 154.2h0"/><path class="c22" d="M539.8 136.3h0"/><path class="c10" d="M523.6 152.7h0"/><path class="c9" d="M522.6 152.0h0"/><path class="c4" d="M557.9 134.5h0"/><path class="c0" d="M577.6 78.6h0"/><path class="c7" d="M518.9 158.8h0"/><path class="c1" d="M576.0 110.7h0"/><path class="c21" d="M541.5 130.3h0"/><path class="c2" d="M542.7 153.3h0"/><path class="c0" d="M552.0 154.5h0"/><path class="c12" d="M541.5 125.3h0"/><path class="c24" d="M549.6 126.9h0"/><path class="c22" d="M539.1 134.5h0"/><path class="c10" d="M528.3 150.2h0"/><path class="c8" d="M551.3 110.5h0"/><path class="c13" d="M536.8 142.8h0"/><path class="c0" d="M540.2 102.8h0"/><path class="c2" d="M512.7 174.2h0"/><path class="c15" d="M559.8 122.2h0"/><path class="c22" d="M549.4 130.9h0"/><path class="c0" d="M509.9 186.9h0"/><path class="c13" d="M562.5 117.8h0"/><path class="c16" d="M560.2 115.0h0"/><path class="c2" d="M504.9 173.3h0"/><path class="c12" d="M547.9 137.8h0"/><path class="c3" d="M567.6 122.3h0"/><path class="c18" d="M538.2 131.2h0"/><path class="c6" d="M521.5 145.0h0"/><path class="c9" d="M543.5 142.1h0"/><path class="c10" d="M539.4 144.2h0"/><path class="c13" d="M531.3 141.4h0"/><path class="c16" d="M551.2 133.5h0"/><path class="c17" d="M551.1 118.2h0"/><path class="c15" d="M536.2 131.8h0"/><path class="c18" d="M556.8 115.9h0"/><path class="c9" d="M525.9 153.5h0"/><path class="c10" d="M529.8 149.3h0"/><path class="c21" d="M548.5 122.2h0"/><path class="c0" d="M490.5 200.0h0"/><path class="c14" d="M553.3 113.7h0"/><path class="c24" d="M551.0 123.2h0"/><path class="c14" d="M535.9 131.3h0"/><path class="c17" d="M535.3 138.4h0"/><path class="c8" d="M562.1 124.3h0"/><path class="c0" d="M508.6 203.1h0"/><path class="c10" d="M523.9 150.4h0"/><path class="c3" d="M518.5 142.9h0"/><path class="c6" d="M547.4 142.4h0"/><path class="c6" d="M559.9 102.5h0"/><path class="c18" d="M543.9 126.2h0"/><path class="c9" d="M539.3 144.8h0"/><path class="c10" d="M561.7 106.0h0"/><path class="c6" d="M537.8 149.5h0"/><path class="c14" d="M551.9 115.5h0"/><path class="c24" d="M546.1 129.6h0"/><path class="c1" d="M519.9 177.8h0"/><path class="c3" d="M509.2 172.8h0"/><path class="c2" d="M502.2 176.7h0"/><path class="c11" d="M563.2 111.0h0"/><path class="c12" d="M558.7 126.0h0"/><path class="c22" d="M549.4 130.5h0"/><path class="c18" d="M557.7 117.2h0"/><path class="c2" d="M575.0 102.4h0"/><path class="c14" d="M541.3 140.3h0"/><path class="c7" d="M567.0 110.4h0"/><path class="c2" d="M512.8 176.5h0"/><path class="c18" d="M555.7 125.1h0"/><path class="c3" d="M508.3 171.1h0"/><path class="c2" d="M546.8 105.1h0"/><path class="c1" d="M572.7 83.0h0"/><path class="c9" d="M530.5 150.2h0"/><path class="c5" d="M543.1 145.9h0"/><path class="c14" d="M532.2 141.3h0"/><path class="c17" d="M542.3 138.5h0"/><path class="c3" d="M512.9 171.3h0"/><path class="c3" d="M544.2 148.1h0"/><path class="c4" d="M532.2 127.8h0"/><path class="c13" d="M542.7 140.4h0"/><path class="c14" d="M561.8 114.6h0"/><path class="c0" d="M459.8 219.8h0"/><path class="c1" d="M578.6 93.8h0"/><path class="c0" d="M558.8 78.7h0"/><path class="c1" d="M541.8 158.5h0"/><path class="c9" d="M553.7 108.4h0"/><path class="c22" d="M550.8 121.6h0"/><path class="c5" d="M517.9 151.0h0"/><path class="c16" d="M541.5 127.5h0"/><path class="c0" d="M523.8 127.5h0"/><path class="c1" d="M530.3 164.4h0"/><path class="c7" d="M522.6 157.3h0"/><path class="c7" d="M556.9 132.6h0"/><path class="c0" d="M594.3 86.0h0"/><path class="c7" d="M519.9 149.7h0"/><path class="c3" d="M509.7 155.9h0"/><path class="c16" d="M554.8 115.0h0"/><path class="c1" d="M569.3 122.7h0"/><path class="c16" d="M551.6 116.7h0"/><path class="c20" d="M555.6 120.9h0"/><path class="c5" d="M514.4 165.0h0"/><path class="c17" d="M541.7 138.4h0"/><path class="c12" d="M530.9 137.2h0"/><path class="c23" d="M545.4 128.3h0"/><path class="c24" d="M542.4 133.8h0"/><path class="c24" d="M543.3 134.0h0"/><path class="c1" d="M499.3 163.1h0"/><path class="c8" d="M521.3 148.3h0"/><path class="c0" d="M489.4 179.4h0"/><path class="c15" d="M560.0 121.9h0"/><path class="c1" d="M569.1 87.1h0"/><path class="c1" d="M577.4 82.6h0"/><path class="c1" d="M577.0 93.3h0"/><path class="c14" d="M534.2 142.7h0"/><path class="c6" d="M524.0 158.9h0"/><path class="c5" d="M568.8 112.2h0"/><path class="c14" d="M532.0 142.0h0"/><path class="c23" d="M551.4 126.4h0"/><path class="c23" d="M541.4 132.1h0"/><path class="c11" d="M552.1 111.8h0"/><path class="c6" d="M518.6 163.3h0"/><path class="c20" d="M547.4 122.6h0"/><path class="c3" d="M507.8 166.5h0"/><path class="c3" d="M510.3 169.5h0"/><path class="c11" d="M539.5 126.4h0"/><path class="c5" d="M559.7 130.5h0"/><path class="c4" d="M516.7 167.2h0"/><path class="c13" d="M554.6 112.0h0"/><path class="c16" d="M553.1 130.8h0"/><path class="c12" d="M549.5 116.3h0"/><path class="c7" d="M559.9 103.5h0"/><path class="c4" d="M522.8 139.3h0"/><path class="c11" d="M531.9 134.5h0"/><path class="c23" d="M545.5 128.2h0"/><path class="c17" d="M559.3 119.5h0"/><path class="c17" d="M556.4 125.7h0"/><path class="c12" d="M529.4 145.7h0"/><path class="c10" d="M557.5 128.9h0"/><path class="c8" d="M549.3 113.1h0"/><path class="c20" d="M556.1 119.6h0"/><path class="c7" d="M529.6 154.7h0"/><path class="c0" d="M493.6 208.8h0"/><path class="c10" d="M524.0 149.7h0"/><path class="c11" d="M560.9 107.0h0"/><path class="c6" d="M539.2 122.4h0"/><path class="c8" d="M520.4 152.8h0"/><path class="c18" d="M535.2 135.8h0"/><path class="c12" d="M540.1 126.5h0"/><path class="c1" d="M535.7 116.0h0"/><path class="c14" d="M535.8 142.5h0"/><path class="c23" d="M540.3 134.2h0"/><path class="c20" d="M546.9 134.8h0"/><path class="c0" d="M494.2 185.0h0"/><path class="c4" d="M552.7 102.9h0"/><path class="c2" d="M507.3 157.2h0"/><path class="c7" d="M568.1 105.9h0"/><path class="c5" d="M518.3 165.2h0"/><path class="c18" d="M547.8 135.2h0"/><path class="c22" d="M552.2 121.3h0"/><path class="c20" d="M537.3 136.2h0"/><path class="c5" d="M554.7 102.6h0"/><path class="c12" d="M532.9 133.4h0"/><path class="c18" d="M545.5 124.0h0"/><path class="c24" d="M549.3 127.1h0"/><path class="c10" d="M557.3 106.8h0"/><path class="c24" d="M550.3 125.5h0"/><path class="c24" d="M543.2 134.0h0"/><path class="c2" d="M575.3 97.8h0"/><path class="c0" d="M493.8 169.4h0"/><path class="c22" d="M543.3 135.6h0"/><path class="c5" d="M561.8 100.4h0"/><path class="c0" d="M481.8 190.6h0"/><path class="c3" d="M511.7 168.6h0"/><path class="c16" d="M557.8 114.0h0"/><path class="c4" d="M561.6 99.3h0"/><path class="c14" d="M535.2 142.5h0"/><path class="c8" d="M554.2 107.2h0"/><path class="c17" d="M547.5 120.5h0"/><path class="c23" d="M544.0 134.1h0"/><path class="c0" d="M467.5 233.8h0"/><path class="c2" d="M572.3 93.7h0"/><path class="c0" d="M555.0 88.6h0"/><path class="c13" d="M558.8 109.6h0"/><path class="c19" d="M553.8 127.6h0"/><path class="c10" d="M544.2 119.6h0"/><path class="c12" d="M542.7 123.4h0"/><path class="c10" d="M563.7 108.7h0"/><path class="c15" d="M557.3 112.6h0"/><path class="c19" d="M537.2 133.6h0"/><path class="c15" d="M549.6 117.9h0"/><path class="c9" d="M542.0 143.1h0"/><path class="c1" d="M573.9 85.1h0"/><path class="c0" d="M546.9 97.4h0"/><path class="c6" d="M555.4 103.8h0"/><path class="c0" d="M546.2 169.5h0"/><path class="c16" d="M556.6 125.8h0"/><path class="c22" d="M554.4 122.7h0"/><path class="c3" d="M534.6 155.2h0"/><path class="c16" d="M557.0 113.3h0"/><path class="c18" d="M558.9 117.9h0"/><path class="c15" d="M542.5 126.0h0"/><path class="c10" d="M527.7 141.5h0"/><path class="c19" d="M553.9 127.5h0"/><path class="c7" d="M522.0 158.6h0"/><path class="c17" d="M538.0 130.6h0"/><path class="c4" d="M518.7 167.0h0"/><path class="c24" d="M547.6 129.6h0"/><path class="c9" d="M523.0 153.6h0"/><path class="c20" d="M554.2 126.1h0"/><path class="c12" d="M547.7 138.0h0"/><path class="c11" d="M526.6 150.1h0"/><path class="c22" d="M541.1 131.2h0"/><path class="c7" d="M539.3 147.2h0"/><path class="c19" d="M556.8 122.2h0"/><path class="c22" d="M539.3 133.2h0"/><path class="c6" d="M569.5 107.0h0"/><path class="c0" d="M483.6 211.3h0"/><path class="c5" d="M550.9 140.7h0"/><path class="c19" d="M545.7 124.9h0"/><path class="c10" d="M526.1 143.7h0"/><path class="c4" d="M527.3 132.3h0"/><path class="c19" d="M538.6 131.3h0"/><path class="c5" d="M517.6 164.3h0"/><path class="c1" d="M565.4 83.9h0"/><path class="c2" d="M511.7 173.3h0"/><path class="c11" d="M561.1 123.3h0"/><path class="c24" d="M548.7 127.9h0"/><path class="c16" d="M537.5 130.6h0"/><path class="c5" d="M543.4 115.2h0"/><path class="c15" d="M546.1 120.7h0"/><path class="c12" d="M562.2 120.6h0"/><path class="c24" d="M544.1 132.9h0"/><path class="c22" d="M538.5 134.5h0"/><path class="c10" d="M561.3 107.0h0"/><path class="c8" d="M557.6 130.7h0"/><path class="c3" d="M512.9 169.7h0"/><path class="c6" d="M535.8 150.5h0"/><path class="c13" d="M559.9 123.7h0"/><path class="c3" d="M550.5 143.3h0"/><path class="c23" d="M543.5 134.6h0"/><path class="c2" d="M501.4 174.2h0"/><path class="c3" d="M568.9 96.0h0"/><path class="c7" d="M567.3 104.5h0"/><path class="c19" d="M541.0 137.8h0"/><path class="c1" d="M560.0 94.8h0"/><path class="c3" d="M509.0 172.9h0"/><path class="c0" d="M503.2 143.2h0"/><path class="c24" d="M543.2 133.7h0"/><path class="c23" d="M547.7 124.8h0"/><path class="c11" d="M559.7 107.0h0"/><path class="c18" d="M558.7 119.5h0"/><path class="c0" d="M560.0 87.5h0"/><path class="c2" d="M575.5 100.1h0"/><path class="c16" d="M557.0 113.0h0"/><path class="c13" d="M552.6 113.9h0"/><path class="c5" d="M524.0 139.4h0"/><path class="c11" d="M558.4 127.3h0"/><path class="c8" d="M526.1 154.8h0"/><path class="c10" d="M527.2 151.3h0"/><path class="c3" d="M510.6 157.7h0"/><path class="c4" d="M572.2 102.9h0"/><path class="c21" d="M537.8 135.4h0"/><path class="c14" d="M534.2 142.8h0"/><path class="c8" d="M550.3 111.5h0"/><path class="c23" d="M544.5 133.9h0"/><path class="c14" d="M537.6 142.1h0"/><path class="c24" d="M544.9 129.6h0"/><path class="c24" d="M549.0 125.1h0"/><path class="c14" d="M560.3 111.9h0"/><path class="c24" d="M548.1 129.4h0"/><path class="c17" d="M539.7 139.1h0"/><path class="c8" d="M526.7 155.0h0"/><path class="c18" d="M553.2 128.8h0"/><path class="c19" d="M536.8 133.8h0"/><path class="c22" d="M539.4 136.2h0"/><path class="c0" d="M489.9 168.2h0"/><path class="c19" d="M541.6 137.6h0"/><path class="c0" d="M553.9 94.9h0"/><path class="c1" d="M546.3 102.6h0"/><path class="c12" d="M529.4 143.4h0"/><path class="c12" d="M554.8 110.3h0"/><path class="c15" d="M560.5 120.4h0"/><path class="c8" d="M523.3 145.2h0"/><path class="c20" d="M547.5 122.9h0"/><path class="c19" d="M556.9 122.8h0"/><path class="c9" d="M524.9 153.5h0"/><path class="c12" d="M562.8 110.7h0"/><path class="c15" d="M557.4 112.1h0"/><path class="c4" d="M571.5 100.4h0"/><path class="c7" d="M567.9 107.3h0"/><path class="c0" d="M496.0 166.1h0"/><path class="c15" d="M550.5 134.9h0"/><path class="c15" d="M560.0 121.5h0"/><path class="c0" d="M483.0 169.6h0"/><path class="c13" d="M531.8 137.7h0"/><path class="c5" d="M523.5 162.0h0"/><path class="c14" d="M532.6 140.7h0"/><path class="c0" d="M534.3 174.9h0"/><path class="c8" d="M564.9 119.2h0"/><path class="c0" d="M537.5 168.0h0"/><path class="c3" d="M517.1 171.3h0"/><path class="c24" d="M548.2 128.6h0"/><path class="c9" d="M522.8 150.2h0"/><path class="c0" d="M468.5 236.5h0"/><path class="c5" d="M512.8 160.0h0"/><path class="c10" d="M525.4 151.7h0"/><path class="c15" d="M550.3 117.1h0"/><path class="c4" d="M547.3 144.8h0"/><path class="c6" d="M518.5 163.3h0"/><path class="c9" d="M526.3 153.2h0"/><path class="c8" d="M526.4 140.9h0"/><path class="c0" d="M457.1 226.6h0"/><path class="c0" d="M496.2 173.1h0"/><path class="c21" d="M554.8 124.1h0"/><path class="c0" d="M458.4 230.9h0"/><path class="c22" d="M552.4 125.9h0"/><path class="c5" d="M517.1 164.4h0"/><path class="c9" d="M559.6 104.7h0"/><path class="c8" d="M526.5 155.2h0"/><path class="c6" d="M518.5 152.6h0"/><path class="c23" d="M549.4 123.2h0"/><path class="c1" d="M546.4 151.6h0"/><path class="c10" d="M563.7 118.5h0"/><path class="c8" d="M553.7 107.6h0"/><path class="c11" d="M548.0 138.7h0"/><path class="c12" d="M531.6 136.3h0"/><path class="c21" d="M539.0 136.2h0"/><path class="c15" d="M532.8 139.2h0"/><path class="c20" d="M537.6 136.5h0"/><path class="c14" d="M562.1 117.0h0"/><path class="c9" d="M530.0 150.9h0"/><path class="c19" d="M555.5 125.1h0"/><path class="c10" d="M537.1 127.7h0"/><path class="c12" d="M529.4 144.5h0"/><path class="c3" d="M524.0 164.1h0"/><path class="c2" d="M504.4 176.8h0"/><path class="c12" d="M530.2 142.9h0"/><path class="c5" d="M537.5 150.9h0"/><path class="c2" d="M540.1 154.1h0"/><path class="c2" d="M502.8 165.3h0"/><path class="c4" d="M520.9 165.9h0"/><path class="c0" d="M519.3 181.5h0"/><path class="c21" d="M538.3 135.6h0"/><path class="c24" d="M547.9 130.8h0"/><path class="c3" d="M526.3 162.5h0"/><path class="c2" d="M510.2 174.3h0"/><path class="c6" d="M516.8 157.1h0"/><path class="c4" d="M517.1 168.0h0"/><path class="c24" d="M550.3 126.7h0"/><path class="c16" d="M547.9 119.5h0"/><path class="c20" d="M554.1 119.8h0"/><path class="c17" d="M558.2 122.4h0"/><path class="c18" d="M537.2 132.7h0"/><path class="c6" d="M523.9 141.1h0"/><path class="c12" d="M529.7 146.4h0"/><path class="c11" d="M537.5 128.2h0"/><path class="c21" d="M545.8 125.9h0"/><path class="c10" d="M528.1 151.6h0"/><path class="c6" d="M527.3 156.9h0"/><path class="c13" d="M547.3 118.2h0"/><path class="c2" d="M502.7 173.8h0"/><path class="c3" d="M506.7 168.3h0"/><path class="c5" d="M561.9 127.4h0"/><path class="c21" d="M539.2 131.9h0"/><path class="c1" d="M514.4 178.4h0"/><path class="c0" d="M493.8 176.2h0"/><path class="c12" d="M532.3 144.8h0"/><path class="c17" d="M559.6 117.6h0"/><path class="c0" d="M482.4 217.5h0"/><path class="c14" d="M552.2 133.0h0"/><path class="c14" d="M534.0 133.6h0"/><path class="c8" d="M548.8 113.8h0"/><path class="c6" d="M567.6 104.0h0"/><path class="c8" d="M520.3 153.7h0"/><path class="c0" d="M546.5 100.1h0"/><path class="c9" d="M522.0 149.3h0"/><path class="c17" d="M557.2 123.9h0"/><path class="c18" d="M536.3 137.7h0"/><path class="c19" d="M536.9 137.4h0"/><path class="c17" d="M556.9 115.2h0"/><path class="c20" d="M543.8 127.9h0"/><path class="c9" d="M522.7 152.6h0"/><path class="c14" d="M542.4 125.6h0"/><path class="c13" d="M552.9 132.9h0"/><path class="c23" d="M549.1 129.8h0"/><path class="c2" d="M559.4 135.6h0"/><path class="c14" d="M560.6 111.9h0"/><path class="c17" d="M558.1 114.5h0"/><path class="c21" d="M551.8 128.0h0"/><path class="c9" d="M565.3 111.3h0"/><path class="c5" d="M527.8 157.8h0"/><path class="c12" d="M562.4 112.0h0"/><path class="c6" d="M542.3 118.4h0"/><path class="c19" d="M536.4 134.2h0"/><path class="c15" d="M559.7 112.5h0"/><path class="c20" d="M537.2 137.0h0"/><path class="c20" d="M554.3 119.1h0"/><path class="c8" d="M558.0 104.9h0"/><path class="c10" d="M563.7 119.3h0"/><path class="c18" d="M549.4 119.3h0"/><path class="c0" d="M512.5 143.2h0"/><path class="c12" d="M562.4 110.7h0"/><path class="c2" d="M530.8 161.6h0"/><path class="c7" d="M518.4 159.4h0"/><path class="c0" d="M531.2 184.5h0"/><path class="c4" d="M513.2 156.3h0"/><path class="c18" d="M544.4 136.8h0"/><path class="c12" d="M562.1 111.0h0"/><path class="c20" d="M552.6 119.3h0"/><path class="c1" d="M553.4 98.4h0"/><path class="c19" d="M538.2 138.4h0"/><path class="c21" d="M538.3 133.9h0"/><path class="c10" d="M563.2 120.7h0"/><path class="c14" d="M561.4 118.7h0"/><path class="c19" d="M540.9 129.3h0"/><path class="c14" d="M561.7 116.0h0"/><path class="c20" d="M540.8 130.2h0"/><path class="c4" d="M534.0 155.4h0"/><path class="c15" d="M532.9 137.4h0"/><path class="c18" d="M552.3 117.9h0"/><path class="c23" d="M542.9 130.5h0"/><path class="c21" d="M540.9 136.8h0"/><path class="c22" d="M550.6 121.3h0"/><path class="c20" d="M555.1 119.5h0"/><path class="c9" d="M526.2 141.5h0"/><path class="c12" d="M529.4 144.3h0"/><path class="c11" d="M562.2 107.7h0"/><path class="c21" d="M554.4 124.4h0"/><path class="c21" d="M550.5 121.1h0"/><path class="c17" d="M541.2 138.7h0"/><path class="c3" d="M519.6 141.2h0"/><path class="c23" d="M540.1 133.8h0"/><path class="c16" d="M539.5 140.1h0"/><path class="c16" d="M539.1 140.2h0"/><path class="c11" d="M527.3 143.9h0"/><path class="c17" d="M534.9 136.5h0"/><path class="c10" d="M543.5 121.1h0"/><path class="c24" d="M547.6 130.4h0"/><path class="c15" d="M561.2 116.6h0"/><path class="c16" d="M560.3 117.4h0"/><path class="c21" d="M540.9 130.8h0"/><path class="c2" d="M523.8 167.1h0"/><path class="c24" d="M547.5 128.2h0"/><path class="c1" d="M547.5 150.0h0"/><path class="c24" d="M544.4 130.8h0"/><path class="c18" d="M538.1 138.6h0"/><path class="c24" d="M543.7 131.1h0"/><path class="c16" d="M560.0 118.1h0"/><path class="c1" d="M577.8 89.2h0"/><path class="c20" d="M540.7 137.2h0"/><path class="c5" d="M570.6 102.7h0"/><path class="c2" d="M550.1 146.4h0"/><path class="c17" d="M558.7 120.6h0"/><path class="c2" d="M517.7 174.7h0"/><path class="c18" d="M535.8 136.2h0"/><path class="c3" d="M506.0 167.5h0"/><path class="c23" d="M540.7 132.5h0"/><path class="c5" d="M514.8 155.7h0"/><path class="c2" d="M506.9 163.2h0"/><path class="c5" d="M566.3 120.8h0"/><path class="c3" d="M544.3 110.9h0"/><path class="c4" d="M515.1 166.5h0"/><path class="c1" d="M571.1 87.7h0"/><path class="c2" d="M503.6 175.9h0"/><path class="c18" d="M537.5 131.7h0"/><path class="c1" d="M560.8 91.6h0"/><path class="c14" d="M532.1 140.5h0"/><path class="c3" d="M573.1 107.0h0"/><path class="c23" d="M548.6 131.0h0"/><path class="c10" d="M534.3 147.3h0"/><path class="c9" d="M564.3 105.9h0"/><path class="c1" d="M535.2 116.7h0"/><path class="c23" d="M552.9 123.8h0"/><path class="c17" d="M550.2 133.8h0"/><path class="c7" d="M530.0 153.3h0"/><path class="c24" d="M550.1 124.2h0"/><path class="c7" d="M537.6 125.4h0"/><path class="c3" d="M507.4 165.5h0"/><path class="c0" d="M479.0 184.8h0"/><path class="c14" d="M559.2 123.5h0"/><path class="c3" d="M509.8 172.4h0"/><path class="c18" d="M537.4 132.1h0"/><path class="c15" d="M551.9 133.1h0"/><path class="c18" d="M557.9 120.7h0"/><path class="c2" d="M560.1 134.4h0"/><path class="c0" d="M589.4 62.5h0"/><path class="c1" d="M523.7 177.2h0"/><path class="c4" d="M566.7 98.5h0"/><path class="c24" d="M550.7 124.0h0"/><path class="c6" d="M517.5 161.1h0"/><path class="c8" d="M555.6 133.4h0"/><path class="c19" d="M553.8 118.0h0"/><path class="c8" d="M521.7 156.5h0"/><path class="c5" d="M548.6 109.0h0"/><path class="c16" d="M540.6 128.4h0"/><path class="c21" d="M541.1 136.6h0"/><path class="c5" d="M530.0 130.9h0"/><path class="c13" d="M531.8 137.8h0"/><path class="c3" d="M573.9 98.1h0"/><path class="c17" d="M557.1 124.7h0"/><path class="c11" d="M537.5 128.2h0"/><path class="c18" d="M557.4 117.1h0"/><path class="c24" d="M542.4 133.5h0"/><path class="c9" d="M561.8 105.8h0"/><path class="c11" d="M527.3 146.6h0"/><path class="c0" d="M562.7 155.2h0"/><path class="c0" d="M490.5 211.3h0"/><path class="c6" d="M516.5 162.4h0"/><path class="c7" d="M553.0 137.1h0"/><path class="c24" d="M547.8 126.1h0"/><path class="c18" d="M551.6 118.3h0"/><path class="c24" d="M543.0 132.5h0"/><path class="c10" d="M533.5 131.2h0"/><path class="c2" d="M572.3 114.1h0"/><path class="c9" d="M551.2 112.0h0"/><path class="c1" d="M499.0 163.6h0"/><path class="c8" d="M522.4 155.4h0"/><path class="c18" d="M556.8 123.4h0"/><path class="c8" d="M526.0 141.4h0"/><path class="c4" d="M517.0 168.3h0"/><path class="c22" d="M539.7 136.3h0"/><path class="c1" d="M541.2 158.8h0"/><path class="c2" d="M569.4 92.9h0"/><path class="c11" d="M559.2 126.4h0"/><path class="c18" d="M547.3 121.8h0"/><path class="c18" d="M550.8 118.8h0"/><path class="c24" d="M550.5 125.0h0"/><path class="c9" d="M564.7 106.5h0"/><path class="c2" d="M565.9 127.1h0"/><path class="c1" d="M578.5 86.9h0"/><path class="c8" d="M525.6 155.2h0"/><path class="c16" d="M554.2 114.9h0"/><path class="c9" d="M553.4 135.8h0"/><path class="c20" d="M544.2 127.4h0"/><path class="c3" d="M509.3 163.3h0"/><path class="c7" d="M535.2 127.2h0"/><path class="c2" d="M513.4 176.5h0"/><path class="c24" d="M547.0 129.1h0"/><path class="c2" d="M544.6 107.7h0"/><path class="c7" d="M562.2 125.2h0"/><path class="c10" d="M564.2 118.1h0"/><path class="c18" d="M551.8 118.2h0"/><path class="c21" d="M554.0 125.1h0"/><path class="c8" d="M531.2 132.7h0"/><path class="c21" d="M545.8 126.3h0"/><path class="c12" d="M534.3 144.9h0"/><path class="c21" d="M539.3 131.9h0"/><path class="c22" d="M538.7 134.6h0"/><path class="c13" d="M545.2 139.2h0"/><path class="c23" d="M552.1 125.0h0"/><path class="c5" d="M533.7 153.2h0"/><path class="c18" d="M537.4 138.9h0"/><path class="c0" d="M526.0 115.3h0"/><path class="c16" d="M536.1 140.4h0"/><path class="c3" d="M556.1 138.3h0"/><path class="c16" d="M559.8 119.6h0"/><path class="c3" d="M536.6 154.1h0"/><path class="c23" d="M546.5 127.0h0"/><path class="c9" d="M533.0 148.9h0"/><path class="c0" d="M528.4 183.9h0"/><path class="c2" d="M576.4 104.0h0"/><path class="c0" d="M508.9 131.4h0"/><path class="c4" d="M512.9 168.4h0"/><path class="c0" d="M579.9 72.6h0"/><path class="c10" d="M533.1 131.5h0"/><path class="c22" d="M551.1 121.2h0"/><path class="c1" d="M518.0 139.2h0"/><path class="c10" d="M564.2 109.1h0"/><path class="c1" d="M578.8 85.4h0"/><path class="c5" d="M538.1 123.1h0"/><path class="c9" d="M530.8 150.4h0"/><path class="c12" d="M551.3 114.1h0"/><path class="c7" d="M565.4 119.5h0"/><path class="c19" d="M536.0 136.1h0"/><path class="c24" d="M545.9 130.7h0"/><path class="c11" d="M525.0 149.3h0"/><path class="c13" d="M530.9 141.8h0"/><path class="c0" d="M489.9 202.5h0"/><path class="c10" d="M526.4 151.2h0"/><path class="c0" d="M581.8 77.9h0"/><path class="c20" d="M556.0 120.9h0"/><path class="c10" d="M529.5 150.6h0"/><path class="c8" d="M541.1 122.9h0"/><path class="c2" d="M574.1 96.6h0"/><path class="c0" d="M496.1 182.5h0"/><path class="c1" d="M514.2 141.3h0"/><path class="c11" d="M528.6 147.3h0"/><path class="c21" d="M544.4 127.9h0"/><path class="c21" d="M550.5 130.7h0"/><path class="c11" d="M564.1 113.9h0"/><path class="c12" d="M531.1 144.3h0"/><path class="c0" d="M591.1 68.3h0"/><path class="c21" d="M554.7 122.7h0"/><path class="c8" d="M520.2 153.6h0"/><path class="c9" d="M545.8 117.0h0"/><path class="c10" d="M556.9 106.9h0"/><path class="c0" d="M551.2 158.7h0"/><path class="c0" d="M486.1 221.5h0"/><path class="c10" d="M534.9 146.7h0"/><path class="c10" d="M524.1 148.3h0"/><path class="c7" d="M527.9 135.7h0"/><path class="c9" d="M565.3 115.2h0"/><path class="c24" d="M546.8 131.7h0"/><path class="c9" d="M531.4 132.8h0"/><path class="c20" d="M554.5 125.8h0"/><path class="c23" d="M552.7 122.3h0"/><path class="c5" d="M521.1 143.7h0"/><path class="c2" d="M560.4 97.0h0"/><path class="c12" d="M552.8 133.8h0"/><path class="c1" d="M573.1 83.6h0"/><path class="c24" d="M549.0 126.8h0"/><path class="c17" d="M534.5 138.0h0"/><path class="c10" d="M525.7 151.2h0"/><path class="c2" d="M513.7 148.8h0"/><path class="c13" d="M532.1 142.8h0"/><path class="c24" d="M548.1 129.9h0"/><path class="c12" d="M530.3 145.5h0"/><path class="c13" d="M533.6 144.4h0"/><path class="c20" d="M540.8 129.9h0"/><path class="c1" d="M510.3 179.5h0"/><path class="c22" d="M553.5 121.8h0"/><path class="c4" d="M515.0 168.9h0"/><path class="c20" d="M554.4 125.6h0"/><path class="c24" d="M542.0 132.8h0"/><path class="c13" d="M555.8 111.1h0"/><path class="c23" d="M547.8 131.6h0"/><path class="c15" d="M551.6 133.7h0"/><path class="c9" d="M524.2 153.9h0"/><path class="c21" d="M538.5 136.9h0"/><path class="c22" d="M547.2 133.4h0"/><path class="c11" d="M560.4 107.5h0"/><path class="c1" d="M514.5 142.5h0"/><path class="c7" d="M525.3 140.7h0"/><path class="c22" d="M539.6 136.0h0"/><path class="c6" d="M515.6 162.0h0"/><path class="c12" d="M560.1 124.5h0"/><path class="c11" d="M530.8 137.0h0"/><path class="c3" d="M510.4 172.2h0"/><path class="c24" d="M544.2 132.0h0"/><path class="c16" d="M557.7 113.3h0"/><path class="c18" d="M558.3 119.2h0"/><path class="c2" d="M508.4 156.8h0"/><path class="c6" d="M567.6 112.9h0"/><path class="c12" d="M546.1 119.1h0"/><path class="c3" d="M531.5 126.2h0"/><path class="c20" d="M543.3 136.4h0"/><path class="c24" d="M544.7 130.7h0"/><path class="c0" d="M533.8 177.5h0"/><path class="c8" d="M542.7 120.5h0"/><path class="c16" d="M559.7 114.4h0"/><path class="c7" d="M519.3 150.6h0"/><path class="c18" d="M535.8 135.7h0"/><path class="c24" d="M542.6 132.6h0"/><path class="c7" d="M523.6 158.2h0"/><path class="c2" d="M573.9 109.0h0"/><path class="c1" d="M521.7 177.4h0"/><path class="c17" d="M558.1 115.4h0"/><path class="c2" d="M504.6 167.2h0"/><path class="c2" d="M566.9 124.1h0"/><path class="c2" d="M521.3 171.7h0"/><path class="c11" d="M556.7 129.5h0"/><path class="c14" d="M539.0 128.4h0"/><path class="c18" d="M548.2 120.4h0"/><path class="c9" d="M556.0 132.0h0"/><path class="c23" d="M548.7 124.0h0"/><path class="c11" d="M526.4 147.5h0"/><path class="c23" d="M548.1 124.2h0"/><path class="c23" d="M548.0 131.9h0"/><path class="c4" d="M560.4 100.5h0"/><path class="c2" d="M522.8 133.8h0"/><path class="c17" d="M558.9 119.1h0"/><path class="c10" d="M536.1 145.7h0"/><path class="c24" d="M548.5 126.0h0"/><path class="c2" d="M525.9 165.0h0"/><path class="c0" d="M520.7 183.3h0"/><path class="c2" d="M525.3 131.3h0"/><path class="c12" d="M533.3 132.5h0"/><path class="c19" d="M547.5 122.1h0"/><path class="c10" d="M528.3 141.1h0"/><path class="c15" d="M534.7 133.6h0"/><path class="c9" d="M524.0 146.9h0"/><path class="c15" d="M551.6 116.4h0"/><path class="c5" d="M553.3 103.9h0"/><path class="c1" d="M575.3 113.6h0"/><path class="c20" d="M539.4 137.7h0"/><path class="c8" d="M522.2 155.7h0"/><path class="c0" d="M498.0 181.2h0"/><path class="c1" d="M539.5 161.2h0"/><path class="c5" d="M567.5 100.5h0"/><path class="c9" d="M562.4 105.1h0"/><path class="c14" d="M532.8 135.6h0"/><path class="c22" d="M539.3 135.3h0"/><path class="c6" d="M515.6 160.9h0"/><path class="c17" d="M534.9 137.9h0"/><path class="c0" d="M500.5 134.5h0"/><path class="c19" d="M554.8 118.6h0"/><path class="c7" d="M553.3 105.9h0"/><path class="c12" d="M558.9 125.5h0"/><path class="c8" d="M545.1 116.8h0"/><path class="c13" d="M561.3 112.3h0"/><path class="c14" d="M544.0 139.0h0"/><path class="c1" d="M524.1 128.5h0"/><path class="c3" d="M509.8 165.8h0"/><path class="c0" d="M531.2 174.5h0"/><path class="c2" d="M502.5 178.1h0"/><path class="c12" d="M563.1 117.5h0"/><path class="c3" d="M513.9 170.1h0"/><path class="c9" d="M557.5 105.8h0"/><path class="c18" d="M556.8 123.5h0"/><path class="c0" d="M528.9 174.5h0"/><path class="c8" d="M531.3 152.0h0"/><path class="c9" d="M530.5 150.6h0"/><path class="c24" d="M547.4 129.8h0"/><path class="c15" d="M544.3 123.3h0"/><path class="c24" d="M549.9 127.5h0"/><path class="c1" d="M531.5 122.3h0"/><path class="c4" d="M554.4 102.6h0"/><path class="c12" d="M529.0 145.9h0"/><path class="c10" d="M564.4 114.4h0"/><path class="c22" d="M554.0 123.8h0"/><path class="c0" d="M592.7 61.8h0"/><path class="c23" d="M540.2 133.1h0"/><path class="c24" d="M543.7 132.1h0"/><path class="c10" d="M563.3 108.4h0"/><path class="c12" d="M556.3 109.4h0"/><path class="c24" d="M546.2 130.8h0"/><path class="c15" d="M561.2 116.8h0"/><path class="c3" d="M514.9 169.5h0"/><path class="c0" d="M496.8 206.9h0"/><path class="c11" d="M556.1 108.7h0"/><path class="c3" d="M571.3 95.7h0"/><path class="c15" d="M533.0 138.3h0"/><path class="c0" d="M513.0 129.5h0"/><path class="c3" d="M510.3 156.8h0"/><path class="c17" d="M544.2 125.3h0"/><path class="c24" d="M545.1 130.8h0"/><path class="c0" d="M509.2 191.9h0"/><path class="c9" d="M546.8 116.2h0"/><path class="c1" d="M580.2 81.4h0"/><path class="c6" d="M519.1 161.6h0"/><path class="c18" d="M535.6 137.6h0"/><path class="c14" d="M561.4 119.6h0"/><path class="c2" d="M546.7 148.4h0"/><path class="c21" d="M555.2 123.1h0"/><path class="c0" d="M480.5 208.1h0"/><path class="c22" d="M544.2 128.5h0"/><path class="c15" d="M553.5 131.0h0"/><path class="c11" d="M554.5 109.9h0"/><path class="c11" d="M560.7 107.8h0"/><path class="c2" d="M503.5 168.0h0"/><path class="c9" d="M529.4 137.0h0"/><path class="c0" d="M494.9 193.1h0"/><path class="c22" d="M549.5 130.5h0"/><path class="c18" d="M553.2 117.7h0"/><path class="c17" d="M554.2 128.4h0"/><path class="c3" d="M526.3 162.9h0"/><path class="c22" d="M539.4 134.4h0"/><path class="c19" d="M552.4 129.4h0"/><path class="c11" d="M526.4 145.6h0"/><path class="c6" d="M569.0 109.6h0"/><path class="c24" d="M540.9 133.5h0"/><path class="c24" d="M546.6 131.9h0"/><path class="c6" d="M560.6 128.8h0"/><path class="c6" d="M568.9 103.1h0"/><path class="c5" d="M519.6 163.2h0"/><path class="c20" d="M547.9 122.2h0"/><path class="c0" d="M517.0 108.0h0"/><path class="c12" d="M530.0 145.6h0"/><path class="c20" d="M553.0 127.6h0"/><path class="c2" d="M540.7 152.9h0"/><path class="c19" d="M556.0 118.3h0"/><path class="c5" d="M532.3 128.2h0"/><path class="c11" d="M534.1 146.4h0"/><path class="c23" d="M541.3 131.5h0"/><path class="c1" d="M517.7 133.3h0"/><path class="c11" d="M552.7 111.6h0"/><path class="c0" d="M586.7 75.5h0"/><path class="c7" d="M549.0 112.4h0"/><path class="c12" d="M529.9 145.6h0"/><path class="c2" d="M550.1 103.1h0"/><path class="c11" d="M554.9 131.9h0"/><path class="c0" d="M534.4 169.0h0"/><path class="c11" d="M527.2 146.6h0"/><path class="c0" d="M530.2 180.0h0"/><path class="c21" d="M547.7 133.4h0"/><path class="c2" d="M555.7 98.6h0"/><path class="c13" d="M559.8 123.5h0"/><path class="c18" d="M539.4 138.8h0"/><path class="c0" d="M554.2 147.0h0"/><path class="c6" d="M541.3 146.3h0"/><path class="c22" d="M552.5 121.5h0"/><path class="c12" d="M551.8 135.2h0"/><path class="c2" d="M544.9 107.6h0"/><path class="c19" d="M556.8 120.1h0"/><path class="c3" d="M531.2 159.2h0"/><path class="c21" d="M553.7 125.4h0"/><path class="c23" d="M553.3 123.3h0"/><path class="c24" d="M541.6 132.4h0"/><path class="c22" d="M553.4 121.8h0"/><path class="c18" d="M558.1 118.1h0"/><path class="c18" d="M544.1 125.8h0"/><path class="c11" d="M563.2 111.2h0"/><path class="c5" d="M540.1 148.2h0"/><path class="c20" d="M554.8 118.7h0"/><path class="c24" d="M543.6 133.8h0"/><path class="c21" d="M540.0 131.1h0"/><path class="c9" d="M555.9 132.4h0"/><path class="c0" d="M479.6 173.9h0"/><path class="c19" d="M557.5 119.6h0"/><path class="c16" d="M536.0 141.0h0"/><path class="c3" d="M573.4 103.1h0"/><path class="c7" d="M566.5 114.9h0"/><path class="c9" d="M522.6 151.5h0"/><path class="c0" d="M498.6 187.5h0"/><path class="c16" d="M548.7 118.9h0"/><path class="c4" d="M528.1 159.1h0"/><path class="c1" d="M540.2 156.2h0"/><path class="c0" d="M525.5 117.7h0"/><path class="c24" d="M545.3 129.8h0"/><path class="c0" d="M489.9 192.5h0"/><path class="c7" d="M565.5 103.0h0"/><path class="c12" d="M545.7 139.5h0"/><path class="c15" d="M557.0 126.0h0"/><path class="c13" d="M550.3 135.7h0"/><path class="c17" d="M557.1 114.4h0"/><path class="c3" d="M517.1 147.3h0"/><path class="c1" d="M514.4 143.8h0"/><path class="c20" d="M544.9 126.2h0"/><path class="c22" d="M539.9 132.2h0"/><path class="c17" d="M535.0 138.6h0"/><path class="c23" d="M553.0 123.7h0"/><path class="c20" d="M554.0 119.3h0"/><path class="c19" d="M553.5 118.1h0"/><path class="c18" d="M544.3 126.1h0"/><path class="c0" d="M545.4 158.2h0"/><path class="c24" d="M545.3 133.1h0"/><path class="c24" d="M549.0 127.6h0"/><path class="c12" d="M530.0 140.0h0"/><path class="c5" d="M560.8 129.3h0"/><path class="c12" d="M534.9 144.9h0"/><path class="c22" d="M539.0 135.1h0"/><path class="c10" d="M559.4 105.7h0"/><path class="c13" d="M544.4 139.5h0"/><path class="c17" d="M541.7 128.1h0"/><path class="c5" d="M514.5 160.3h0"/><path class="c22" d="M553.4 124.7h0"/><path class="c0" d="M508.1 149.1h0"/><path class="c9" d="M559.2 105.6h0"/><path class="c17" d="M558.5 115.2h0"/><path class="c1" d="M518.3 137.6h0"/><path class="c7" d="M525.4 141.0h0"/><path class="c17" d="M534.5 136.8h0"/><path class="c21" d="M550.7 130.3h0"/><path class="c2" d="M575.8 103.0h0"/><path class="c19" d="M537.0 138.0h0"/><path class="c4" d="M572.1 106.8h0"/><path class="c0" d="M548.8 155.5h0"/><path class="c24" d="M541.8 133.1h0"/><path class="c22" d="M541.8 136.0h0"/><path class="c23" d="M550.7 127.4h0"/><path class="c21" d="M540.8 136.5h0"/><path class="c19" d="M555.7 124.5h0"/><path class="c12" d="M560.9 123.2h0"/><path class="c0" d="M457.9 197.9h0"/><path class="c2" d="M514.3 149.1h0"/><path class="c0" d="M498.0 199.4h0"/><path class="c12" d="M536.5 129.2h0"/><path class="c23" d="M551.0 127.8h0"/><path class="c15" d="M556.7 113.0h0"/><path class="c10" d="M554.1 133.8h0"/><path class="c5" d="M513.5 164.1h0"/><path class="c22" d="M543.2 135.4h0"/><path class="c6" d="M522.9 159.5h0"/><path class="c4" d="M514.4 168.7h0"/><path class="c10" d="M532.8 131.9h0"/><path class="c24" d="M546.9 128.8h0"/><path class="c16" d="M558.8 114.1h0"/><path class="c16" d="M535.1 140.1h0"/><path class="c1" d="M577.6 102.4h0"/><path class="c10" d="M524.0 150.1h0"/><path class="c0" d="M488.8 170.0h0"/><path class="c13" d="M532.1 142.7h0"/><path class="c5" d="M545.3 113.9h0"/><path class="c0" d="M576.9 117.2h0"/><path class="c7" d="M521.9 146.4h0"/><path class="c18" d="M554.8 117.2h0"/><path class="c12" d="M538.3 127.8h0"/><path class="c11" d="M555.2 109.0h0"/><path class="c20" d="M537.4 134.3h0"/><path class="c23" d="M551.9 122.8h0"/><path class="c17" d="M559.7 118.6h0"/><path class="c0" d="M485.1 167.0h0"/><path class="c20" d="M540.5 130.6h0"/><path class="c7" d="M561.7 125.7h0"/><path class="c10" d="M530.5 149.3h0"/><path class="c14" d="M561.5 115.2h0"/><path class="c11" d="M528.8 141.4h0"/><path class="c14" d="M539.2 141.6h0"/><path class="c5" d="M537.6 123.9h0"/><path class="c14" d="M561.6 116.8h0"/><path class="c13" d="M540.1 126.8h0"/><path class="c3" d="M573.2 97.3h0"/><path class="c17" d="M544.5 124.5h0"/><path class="c14" d="M561.4 119.1h0"/><path class="c16" d="M551.3 117.5h0"/><path class="c12" d="M551.5 135.4h0"/><path class="c18" d="M536.6 133.0h0"/><path class="c1" d="M522.1 132.0h0"/><path class="c4" d="M523.7 136.5h0"/><path class="c0" d="M495.5 208.1h0"/><path class="c3" d="M517.8 144.3h0"/><path class="c9" d="M522.4 150.9h0"/><path class="c6" d="M518.3 161.7h0"/><path class="c22" d="M548.8 122.3h0"/><path class="c6" d="M517.0 161.3h0"/><path class="c4" d="M571.4 99.3h0"/><path class="c18" d="M557.6 121.2h0"/><path class="c20" d="M536.9 135.7h0"/><path class="c13" d="M556.2 110.8h0"/><path class="c8" d="M527.0 139.1h0"/><path class="c22" d="M553.4 123.8h0"/><path class="c9" d="M546.0 116.8h0"/><path class="c10" d="M530.2 135.6h0"/><path class="c3" d="M572.5 99.3h0"/><path class="c11" d="M529.0 140.5h0"/><path class="c3" d="M567.8 97.3h0"/><path class="c19" d="M556.4 123.8h0"/><path class="c13" d="M536.7 143.1h0"/><path class="c7" d="M520.2 157.0h0"/><path class="c16" d="M559.0 122.1h0"/><path class="c10" d="M527.8 150.9h0"/><path class="c2" d="M505.7 174.4h0"/><path class="c10" d="M524.9 146.3h0"/><path class="c3" d="M572.6 107.9h0"/><path class="c15" d="M552.3 115.6h0"/><path class="c24" d="M547.8 129.1h0"/><path class="c4" d="M564.5 98.1h0"/><path class="c19" d="M545.2 125.3h0"/><path class="c14" d="M561.3 112.7h0"/><path class="c2" d="M507.6 154.8h0"/><path class="c11" d="M531.6 147.7h0"/><path class="c6" d="M520.4 147.3h0"/><path class="c16" d="M542.8 138.7h0"/><path class="c5" d="M567.5 100.3h0"/><path class="c7" d="M556.7 103.7h0"/><path class="c23" d="M548.0 125.2h0"/><path class="c11" d="M528.1 144.7h0"/><path class="c0" d="M537.5 181.2h0"/><path class="c20" d="M538.0 132.5h0"/><path class="c5" d="M515.1 156.8h0"/><path class="c1" d="M508.6 178.2h0"/><path class="c0" d="M485.8 226.0h0"/><path class="c19" d="M555.3 124.9h0"/><path class="c2" d="M503.4 169.2h0"/><path class="c24" d="M548.3 128.8h0"/><path class="c12" d="M532.3 134.3h0"/><path class="c5" d="M567.9 115.2h0"/><path class="c12" d="M545.6 119.6h0"/><path class="c20" d="M545.4 126.0h0"/><path class="c4" d="M517.0 166.9h0"/><path class="c0" d="M556.8 90.1h0"/><path class="c17" d="M536.6 139.9h0"/><path class="c24" d="M543.8 130.7h0"/><path class="c3" d="M515.7 169.1h0"/><path class="c4" d="M524.4 137.0h0"/><path class="c2" d="M501.4 173.5h0"/><path class="c13" d="M555.2 110.8h0"/><path class="c2" d="M510.2 176.7h0"/><path class="c0" d="M493.0 191.9h0"/><path class="c2" d="M530.0 162.4h0"/><path class="c17" d="M547.5 120.5h0"/><path class="c21" d="M553.8 124.9h0"/><path class="c22" d="M553.4 122.4h0"/><path class="c24" d="M549.2 126.8h0"/><path class="c24" d="M542.4 132.0h0"/><path class="c3" d="M504.9 169.1h0"/><path class="c5" d="M547.5 143.2h0"/><path class="c6" d="M538.4 148.4h0"/><path class="c22" d="M545.8 127.0h0"/><path class="c18" d="M538.0 138.7h0"/><path class="c0" d="M527.4 114.9h0"/><path class="c12" d="M530.0 146.0h0"/><path class="c3" d="M505.5 172.4h0"/><path class="c5" d="M520.5 162.8h0"/><path class="c10" d="M534.6 146.4h0"/><path class="c0" d="M531.9 114.9h0"/><path class="c12" d="M542.8 123.8h0"/><path class="c2" d="M571.8 92.1h0"/><path class="c2" d="M575.3 105.6h0"/><path class="c16" d="M547.5 120.3h0"/><path class="c23" d="M550.6 128.5h0"/><path class="c11" d="M563.5 116.2h0"/><path class="c23" d="M551.2 126.6h0"/><path class="c14" d="M561.8 116.8h0"/><path class="c12" d="M528.4 145.5h0"/><path class="c23" d="M552.3 126.1h0"/><path class="c9" d="M547.7 115.4h0"/><path class="c3" d="M538.3 117.8h0"/><path class="c22" d="M550.3 129.8h0"/><path class="c11" d="M529.8 147.2h0"/><path class="c1" d="M538.2 157.7h0"/><path class="c0" d="M495.0 143.5h0"/><path class="c23" d="M545.2 133.8h0"/><path class="c2" d="M504.7 176.0h0"/><path class="c16" d="M552.1 131.8h0"/><path class="c23" d="M552.1 124.7h0"/><path class="c3" d="M509.9 158.9h0"/><path class="c5" d="M515.0 162.4h0"/><path class="c5" d="M538.6 149.6h0"/><path class="c19" d="M557.5 118.4h0"/><path class="c18" d="M536.0 138.3h0"/><path class="c12" d="M528.8 145.4h0"/><path class="c16" d="M551.9 116.5h0"/><path class="c12" d="M559.8 109.0h0"/><path class="c0" d="M500.1 151.0h0"/><path class="c17" d="M534.7 136.8h0"/><path class="c24" d="M545.6 128.9h0"/><path class="c7" d="M564.6 103.0h0"/><path class="c7" d="M522.5 158.6h0"/><path class="c21" d="M546.6 124.7h0"/><path class="c6" d="M521.8 160.7h0"/><path class="c23" d="M544.9 133.6h0"/><path class="c2" d="M549.6 146.0h0"/><path class="c0" d="M553.3 149.7h0"/><path class="c5" d="M567.6 99.4h0"/><path class="c0" d="M532.5 167.5h0"/><path class="c7" d="M533.6 150.8h0"/><path class="c12" d="M562.0 109.6h0"/><path class="c1" d="M498.9 178.8h0"/><path class="c18" d="M557.8 116.7h0"/><path class="c17" d="M545.1 137.0h0"/><path class="c5" d="M564.5 124.5h0"/><path class="c9" d="M521.6 153.1h0"/><path class="c15" d="M536.0 131.6h0"/><path class="c12" d="M537.1 144.1h0"/><path class="c3" d="M506.3 167.2h0"/><path class="c2" d="M557.5 138.3h0"/><path class="c0" d="M499.9 200.0h0"/><path class="c18" d="M549.0 119.9h0"/><path class="c16" d="M546.6 120.8h0"/><path class="c23" d="M551.9 126.3h0"/><path class="c14" d="M534.8 132.6h0"/><path class="c1" d="M576.7 89.7h0"/><path class="c1" d="M560.1 138.5h0"/><path class="c21" d="M548.9 122.1h0"/><path class="c5" d="M568.0 101.2h0"/><path class="c20" d="M551.1 130.0h0"/><path class="c2" d="M504.1 175.2h0"/><path class="c16" d="M557.9 123.7h0"/><path class="c6" d="M567.8 102.6h0"/><path class="c11" d="M557.9 107.5h0"/><path class="c6" d="M554.7 104.4h0"/><path class="c1" d="M561.3 136.4h0"/><path class="c0" d="M560.2 73.1h0"/><path class="c21" d="M538.1 135.8h0"/><path class="c16" d="M534.7 140.5h0"/><path class="c9" d="M527.4 152.5h0"/><path class="c24" d="M544.6 132.8h0"/><path class="c12" d="M562.1 120.1h0"/><path class="c15" d="M561.2 115.5h0"/><path class="c18" d="M552.5 118.3h0"/><path class="c0" d="M596.7 57.4h0"/><path class="c10" d="M523.5 150.5h0"/><path class="c4" d="M566.6 120.8h0"/><path class="c11" d="M562.7 108.8h0"/><path class="c1" d="M499.9 180.6h0"/><path class="c14" d="M555.6 128.3h0"/><path class="c0" d="M546.8 158.6h0"/><path class="c21" d="M548.1 122.7h0"/><path class="c3" d="M548.9 106.5h0"/><path class="c23" d="M540.8 135.4h0"/><path class="c14" d="M532.4 139.6h0"/><path class="c23" d="M553.0 123.6h0"/><path class="c0" d="M568.6 130.8h0"/><path class="c0" d="M471.2 231.9h0"/><path class="c23" d="M552.2 125.3h0"/><path class="c13" d="M554.1 112.5h0"/><path class="c13" d="M533.6 143.8h0"/><path class="c16" d="M534.9 134.7h0"/><path class="c19" d="M537.0 137.4h0"/><path class="c9" d="M528.2 138.4h0"/><path class="c2" d="M573.4 90.4h0"/><path class="c14" d="M541.7 140.2h0"/><path class="c3" d="M505.1 170.2h0"/><path class="c20" d="M537.1 135.8h0"/><path class="c19" d="M541.7 137.6h0"/><path class="c18" d="M556.9 115.9h0"/><path class="c12" d="M529.8 146.8h0"/><path class="c9" d="M523.3 154.5h0"/><path class="c8" d="M529.0 135.6h0"/><path class="c4" d="M541.2 116.7h0"/><path class="c14" d="M556.3 127.4h0"/><path class="c16" d="M556.0 114.2h0"/><path class="c0" d="M492.4 216.2h0"/><path class="c6" d="M543.3 145.5h0"/><path class="c1" d="M578.9 98.4h0"/><path class="c0" d="M493.0 198.8h0"/><path class="c9" d="M524.3 144.6h0"/><path class="c15" d="M555.0 113.3h0"/><path class="c21" d="M545.8 126.1h0"/><path class="c12" d="M545.2 119.9h0"/><path class="c9" d="M550.1 138.0h0"/><path class="c12" d="M533.8 131.9h0"/><path class="c22" d="M546.5 133.7h0"/><path class="c0" d="M581.6 82.3h0"/><path class="c2" d="M576.3 92.0h0"/><path class="c19" d="M551.6 119.2h0"/><path class="c9" d="M542.1 142.8h0"/><path class="c8" d="M523.9 144.3h0"/><path class="c24" d="M547.3 128.6h0"/><path class="c0" d="M488.6 183.1h0"/><path class="c23" d="M539.6 134.7h0"/><path class="c2" d="M524.2 167.1h0"/><path class="c23" d="M546.2 127.4h0"/><path class="c11" d="M528.0 148.9h0"/><path class="c1" d="M579.9 87.6h0"/><path class="c23" d="M547.0 132.5h0"/><path class="c9" d="M542.0 143.6h0"/><path class="c13" d="M532.2 135.9h0"/><path class="c0" d="M489.2 190.0h0"/><path class="c19" d="M554.7 126.3h0"/><path class="c10" d="M524.2 151.1h0"/><path class="c11" d="M527.7 149.6h0"/><path class="c5" d="M570.3 106.0h0"/><path class="c3" d="M536.7 153.8h0"/><path class="c0" d="M508.6 196.9h0"/><path class="c17" d="M553.7 116.7h0"/><path class="c11" d="M563.6 114.5h0"/><path class="c8" d="M559.5 104.0h0"/><path class="c0" d="M537.0 183.8h0"/><path class="c8" d="M521.0 156.1h0"/><path class="c13" d="M562.5 114.5h0"/><path class="c9" d="M541.5 143.6h0"/><path class="c23" d="M540.4 133.5h0"/><path class="c0" d="M580.6 77.2h0"/><path class="c1" d="M572.3 85.3h0"/><path class="c21" d="M544.9 135.4h0"/><path class="c13" d="M557.0 127.1h0"/><path class="c23" d="M547.9 131.4h0"/><path class="c24" d="M543.3 132.3h0"/><path class="c24" d="M548.9 128.9h0"/><path class="c16" d="M560.2 117.5h0"/><path class="c2" d="M526.2 164.8h0"/><path class="c21" d="M554.9 123.2h0"/><path class="c4" d="M572.5 102.9h0"/><path class="c10" d="M525.6 144.9h0"/><path class="c4" d="M571.8 107.5h0"/><path class="c5" d="M521.4 143.9h0"/><path class="c9" d="M532.9 149.4h0"/><path class="c17" d="M536.8 139.2h0"/><path class="c21" d="M538.7 136.6h0"/><path class="c0" d="M520.0 119.5h0"/><path class="c15" d="M547.9 136.6h0"/><path class="c24" d="M543.7 131.9h0"/><path class="c8" d="M542.1 120.7h0"/><path class="c2" d="M521.3 136.3h0"/><path class="c8" d="M525.8 140.9h0"/><path class="c4" d="M525.1 135.8h0"/><path class="c15" d="M554.5 113.4h0"/><path class="c10" d="M527.5 142.2h0"/><path class="c3" d="M537.8 153.2h0"/><path class="c10" d="M530.5 148.8h0"/><path class="c24" d="M549.9 124.1h0"/><path class="c13" d="M531.2 140.1h0"/><path class="c9" d="M532.2 149.3h0"/><path class="c19" d="M556.1 124.2h0"/><path class="c17" d="M553.4 116.9h0"/><path class="c6" d="M525.3 158.5h0"/><path class="c0" d="M536.2 177.0h0"/><path class="c13" d="M561.4 111.0h0"/><path class="c20" d="M538.4 132.3h0"/><path class="c4" d="M511.7 165.5h0"/></g></g></g>
<g shape-rendering="crispEdges"><rect x="647" y="256.70" width="17.5" height="9.80" fill="#9b14f5"/><rect x="647" y="246.91" width="17.5" height="9.80" fill="#8214f5"/><rect x="647" y="237.11" width="17.5" height="9.80" fill="#6e14f5"/><rect x="647" y="227.32" width="17.5" height="9.80" fill="#5014f5"/><rect x="647" y="217.52" width="17.5" height="9.80" fill="#3c28f5"/><rect x="647" y="207.72" width="17.5" height="9.80" fill="#2841f5"/><rect x="647" y="197.93" width="17.5" height="9.80" fill="#1464f5"/><rect x="647" y="188.13" width="17.5" height="9.80" fill="#1482f5"/><rect x="647" y="178.34" width="17.5" height="9.80" fill="#14a5f5"/><rect x="647" y="168.54" width="17.5" height="9.80" fill="#14c8f5"/><rect x="647" y="158.74" width="17.5" height="9.80" fill="#14e6f0"/><rect x="647" y="148.95" width="17.5" height="9.80" fill="#14f0c8"/><rect x="647" y="139.15" width="17.5" height="9.80" fill="#14f08c"/><rect x="647" y="129.36" width="17.5" height="9.80" fill="#14f03c"/><rect x="647" y="119.56" width="17.5" height="9.80" fill="#28f014"/><rect x="647" y="109.76" width="17.5" height="9.80" fill="#64f014"/><rect x="647" y="99.97" width="17.5" height="9.80" fill="#b4f014"/><rect x="647" y="90.17" width="17.5" height="9.80" fill="#f5e614"/><rect x="647" y="80.38" width="17.5" height="9.80" fill="#ffc814"/><rect x="647" y="70.58" width="17.5" height="9.80" fill="#ffaa14"/><rect x="647" y="60.78" width="17.5" height="9.80" fill="#ff8c14"/><rect x="647" y="50.99" width="17.5" height="9.80" fill="#ff6e14"/><rect x="647" y="41.19" width="17.5" height="9.80" fill="#ff5014"/><rect x="647" y="31.40" width="17.5" height="9.80" fill="#ff3214"/><rect x="647" y="21.60" width="17.5" height="9.80" fill="#ff1414"/></g>
<rect x="646.9" y="21.8" width="17.6" height="244.5" fill="none" stroke="#333" stroke-width="0.7"/>
<rect x="69.5" y="22.3" width="248.5" height="244" fill="none" stroke="#222" stroke-width="1.1"/><rect x="376.5" y="22.3" width="269.1" height="243.6" fill="none" stroke="#222" stroke-width="1.1"/><line x1="63.50" y1="266.20" x2="69.50" y2="266.20" stroke="#222" stroke-width="1.1"/><line x1="66.50" y1="225.55" x2="69.50" y2="225.55" stroke="#222" stroke-width="1.1"/><line x1="63.50" y1="184.90" x2="69.50" y2="184.90" stroke="#222" stroke-width="1.1"/><line x1="66.50" y1="144.25" x2="69.50" y2="144.25" stroke="#222" stroke-width="1.1"/><line x1="63.50" y1="103.60" x2="69.50" y2="103.60" stroke="#222" stroke-width="1.1"/><line x1="66.50" y1="62.95" x2="69.50" y2="62.95" stroke="#222" stroke-width="1.1"/><line x1="63.50" y1="22.30" x2="69.50" y2="22.30" stroke="#222" stroke-width="1.1"/><line x1="69.60" y1="266.30" x2="69.60" y2="272.30" stroke="#222" stroke-width="1.1"/><line x1="100.60" y1="266.30" x2="100.60" y2="269.30" stroke="#222" stroke-width="1.1"/><line x1="131.59" y1="266.30" x2="131.59" y2="272.30" stroke="#222" stroke-width="1.1"/><line x1="162.59" y1="266.30" x2="162.59" y2="269.30" stroke="#222" stroke-width="1.1"/><line x1="193.59" y1="266.30" x2="193.59" y2="272.30" stroke="#222" stroke-width="1.1"/><line x1="224.59" y1="266.30" x2="224.59" y2="269.30" stroke="#222" stroke-width="1.1"/><line x1="255.58" y1="266.30" x2="255.58" y2="272.30" stroke="#222" stroke-width="1.1"/><line x1="286.58" y1="266.30" x2="286.58" y2="269.30" stroke="#222" stroke-width="1.1"/><line x1="318.00" y1="266.30" x2="318.00" y2="272.30" stroke="#222" stroke-width="1.1"/><line x1="376.60" y1="265.90" x2="376.60" y2="271.90" stroke="#222" stroke-width="1.1"/><line x1="370.50" y1="265.80" x2="376.50" y2="265.80" stroke="#222" stroke-width="1.1"/><line x1="401.04" y1="265.90" x2="401.04" y2="268.90" stroke="#222" stroke-width="1.1"/><line x1="373.50" y1="243.57" x2="376.50" y2="243.57" stroke="#222" stroke-width="1.1"/><line x1="425.48" y1="265.90" x2="425.48" y2="271.90" stroke="#222" stroke-width="1.1"/><line x1="370.50" y1="221.34" x2="376.50" y2="221.34" stroke="#222" stroke-width="1.1"/><line x1="449.92" y1="265.90" x2="449.92" y2="268.90" stroke="#222" stroke-width="1.1"/><line x1="373.50" y1="199.11" x2="376.50" y2="199.11" stroke="#222" stroke-width="1.1"/><line x1="474.36" y1="265.90" x2="474.36" y2="271.90" stroke="#222" stroke-width="1.1"/><line x1="370.50" y1="176.88" x2="376.50" y2="176.88" stroke="#222" stroke-width="1.1"/><line x1="498.80" y1="265.90" x2="498.80" y2="268.90" stroke="#222" stroke-width="1.1"/><line x1="373.50" y1="154.65" x2="376.50" y2="154.65" stroke="#222" stroke-width="1.1"/><line x1="523.24" y1="265.90" x2="523.24" y2="271.90" stroke="#222" stroke-width="1.1"/><line x1="370.50" y1="132.42" x2="376.50" y2="132.42" stroke="#222" stroke-width="1.1"/><line x1="547.68" y1="265.90" x2="547.68" y2="268.90" stroke="#222" stroke-width="1.1"/><line x1="373.50" y1="110.19" x2="376.50" y2="110.19" stroke="#222" stroke-width="1.1"/><line x1="572.12" y1="265.90" x2="572.12" y2="271.90" stroke="#222" stroke-width="1.1"/><line x1="370.50" y1="87.96" x2="376.50" y2="87.96" stroke="#222" stroke-width="1.1"/><line x1="596.56" y1="265.90" x2="596.56" y2="268.90" stroke="#222" stroke-width="1.1"/><line x1="373.50" y1="65.73" x2="376.50" y2="65.73" stroke="#222" stroke-width="1.1"/><line x1="621.00" y1="265.90" x2="621.00" y2="271.90" stroke="#222" stroke-width="1.1"/><line x1="370.50" y1="43.50" x2="376.50" y2="43.50" stroke="#222" stroke-width="1.1"/><line x1="645.44" y1="265.90" x2="645.44" y2="268.90" stroke="#222" stroke-width="1.1"/>
<g fill="#111" opacity="0.999"><text x="59.6" y="270.9" font-family="Liberation Sans, sans-serif" font-size="15.5" text-anchor="end">0</text><text y="190.50" font-family="Liberation Sans, sans-serif" font-size="15.5"><tspan x="20.00">2</tspan><tspan x="28.90">×</tspan><tspan x="45.30">0</tspan><tspan x="53.30" font-size="10" dy="-6">6</tspan></text><text y="109.20" font-family="Liberation Sans, sans-serif" font-size="15.5"><tspan x="20.00">4</tspan><tspan x="28.90">×</tspan><tspan x="45.30">0</tspan><tspan x="53.30" font-size="10" dy="-6">6</tspan></text><text y="27.90" font-family="Liberation Sans, sans-serif" font-size="15.5"><tspan x="20.00">6</tspan><tspan x="28.90">×</tspan><tspan x="45.30">0</tspan><tspan x="53.30" font-size="10" dy="-6">6</tspan></text><text x="69.5" y="288.3" font-family="Liberation Sans, sans-serif" font-size="15.5" text-anchor="middle">0</text><text y="290.00" font-family="Liberation Sans, sans-serif" font-size="15.5"><tspan x="111.64">2</tspan><tspan x="120.54">×</tspan><tspan x="136.94">0</tspan><tspan x="144.94" font-size="10" dy="-6">6</tspan></text><text y="290.00" font-family="Liberation Sans, sans-serif" font-size="15.5"><tspan x="173.64">3</tspan><tspan x="182.54">×</tspan><tspan x="198.94">0</tspan><tspan x="206.94" font-size="10" dy="-6">6</tspan></text><text y="290.00" font-family="Liberation Sans, sans-serif" font-size="15.5"><tspan x="235.63">5</tspan><tspan x="244.53">×</tspan><tspan x="260.93">0</tspan><tspan x="268.93" font-size="10" dy="-6">6</tspan></text><text y="290.00" font-family="Liberation Sans, sans-serif" font-size="15.5"><tspan x="297.63">6</tspan><tspan x="306.53">×</tspan><tspan x="322.93">0</tspan><tspan x="330.93" font-size="10" dy="-6">6</tspan></text><text x="376.60" y="287.7" font-family="Liberation Sans, sans-serif" font-size="15.5" text-anchor="middle">6</text><text x="366.4" y="270.80" font-family="Liberation Sans, sans-serif" font-size="15.5" text-anchor="end">6</text><text x="425.48" y="287.7" font-family="Liberation Sans, sans-serif" font-size="15.5" text-anchor="middle">8</text><text x="366.4" y="226.34" font-family="Liberation Sans, sans-serif" font-size="15.5" text-anchor="end">8</text><text x="474.36" y="287.70" font-family="Liberation Sans, sans-serif" font-size="15.5">0</text><text x="357.78" y="181.88" font-family="Liberation Sans, sans-serif" font-size="15.5">0</text><text x="523.24" y="287.70" font-family="Liberation Sans, sans-serif" font-size="15.5">2</text><text x="357.78" y="137.42" font-family="Liberation Sans, sans-serif" font-size="15.5">2</text><text x="572.12" y="287.70" font-family="Liberation Sans, sans-serif" font-size="15.5">4</text><text x="357.78" y="92.96" font-family="Liberation Sans, sans-serif" font-size="15.5">4</text><text x="621.00" y="287.70" font-family="Liberation Sans, sans-serif" font-size="15.5">6</text><text x="357.78" y="48.50" font-family="Liberation Sans, sans-serif" font-size="15.5">6</text><text x="194" y="315.8" font-family="Liberation Sans, sans-serif" font-size="17.7" text-anchor="middle">Population of county</text><text x="511" y="315.8" font-family="Liberation Sans, sans-serif" font-size="17.7" text-anchor="middle">ln(population of county)</text><text transform="translate(13.8,155.3) rotate(-90)" font-family="Liberation Sans, sans-serif" font-size="17.7" text-anchor="middle">Number of Tencent LBS data</text><text transform="translate(343,143.2) rotate(-90)" font-family="Liberation Sans, sans-serif" font-size="17.7" text-anchor="middle">ln(number of Tencent LBS data)</text><text transform="translate(682,219.4) rotate(-90)" font-family="Liberation Sans, sans-serif" font-size="15.5">Increasing Density</text><path d="M677.6 85V71.6M674.9 74.3L677.6 71.3L680.3 74.3" fill="none" stroke="#111" stroke-width="1.2"/><text x="78" y="50" font-family="Liberation Sans, sans-serif" font-size="17.7">Pearson's r = 0.82</text><text x="385.5" y="48" font-family="Liberation Sans, sans-serif" font-size="17.7">Pearson's r = 0.90</text><text x="58" y="15.3" font-family="Liberation Sans, sans-serif" font-size="22">a</text><text x="363.5" y="15.5" font-family="Liberation Sans, sans-serif" font-size="22">b</text><path d="M41.77 190.50L43.24 190.50L43.24 179.40L42.39 179.40L39.15 182.52L39.15 183.99L41.77 181.97ZM41.77 109.20L43.24 109.20L43.24 98.10L42.39 98.10L39.15 101.22L39.15 102.69L41.77 100.67ZM41.77 27.90L43.24 27.90L43.24 16.80L42.39 16.80L39.15 19.92L39.15 21.39L41.77 19.38ZM133.41 290.00L134.89 290.00L134.89 278.90L134.03 278.90L130.79 282.02L130.79 283.49L133.41 281.48ZM195.41 290.00L196.88 290.00L196.88 278.90L196.03 278.90L192.79 282.02L192.79 283.49L195.41 281.48ZM257.40 290.00L258.88 290.00L258.88 278.90L258.02 278.90L254.78 282.02L254.78 283.49L257.40 281.48ZM319.40 290.00L320.87 290.00L320.87 278.90L320.02 278.90L316.78 282.02L316.78 283.49L319.40 281.48ZM470.05 287.70L471.52 287.70L471.52 276.60L470.67 276.60L467.43 279.72L467.43 281.19L470.05 279.18ZM353.47 181.88L354.95 181.88L354.95 170.78L354.09 170.78L350.85 173.90L350.85 175.37L353.47 173.35ZM518.93 287.70L520.40 287.70L520.40 276.60L519.55 276.60L516.31 279.72L516.31 281.19L518.93 279.18ZM353.47 137.42L354.95 137.42L354.95 126.32L354.09 126.32L350.85 129.44L350.85 130.91L353.47 128.90ZM567.81 287.70L569.28 287.70L569.28 276.60L568.43 276.60L565.19 279.72L565.19 281.19L567.81 279.18ZM353.47 92.96L354.95 92.96L354.95 81.86L354.09 81.86L350.85 84.98L350.85 86.45L353.47 84.44ZM616.69 287.70L618.16 287.70L618.16 276.60L617.31 276.60L614.07 279.72L614.07 281.19L616.69 279.18ZM353.47 48.50L354.95 48.50L354.95 37.40L354.09 37.40L350.85 40.52L350.85 41.99L353.47 39.98Z"/></g>
</svg></body></html>
